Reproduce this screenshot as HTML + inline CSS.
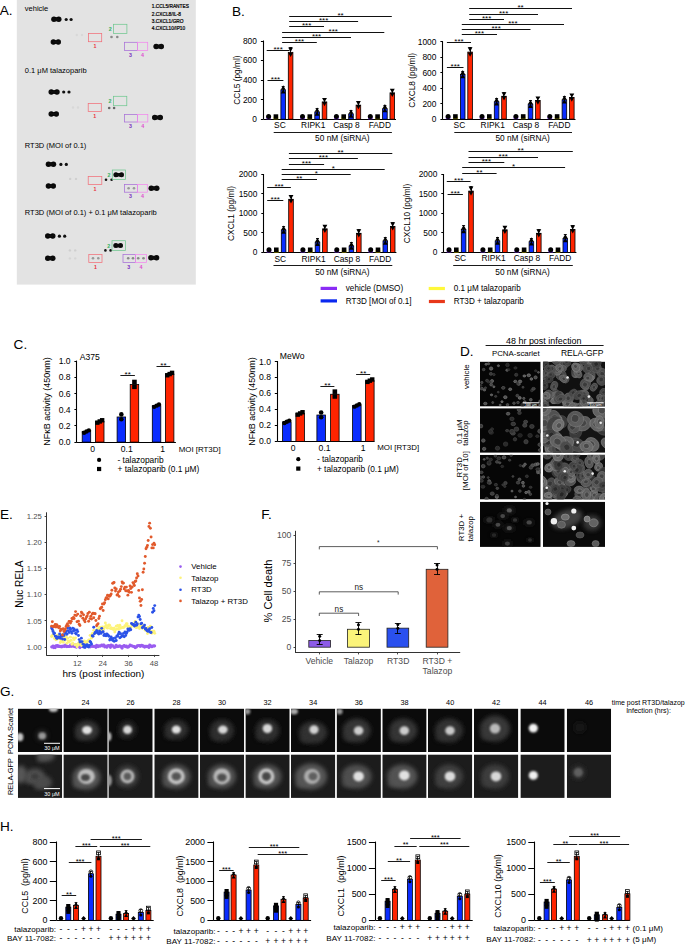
<!DOCTYPE html>
<html><head><meta charset="utf-8"><title>Figure</title>
<style>
html,body{margin:0;padding:0;background:#fff;}
body{width:685px;height:945px;overflow:hidden;}
svg{display:block;}
text{font-family:"Liberation Sans", sans-serif;}
</style></head>
<body>
<svg width="685" height="945" viewBox="0 0 685 945" font-family="Liberation Sans, sans-serif">
<defs><filter id="ab" x="-30%" y="-30%" width="160%" height="160%"><feGaussianBlur stdDeviation="0.35"/></filter></defs>
<rect x="16.80" y="0.00" width="179.00" height="284.60" fill="#e3e3e3" />
<text x="-0.30" y="14.90" font-size="13.6" text-anchor="start" fill="#000" >A.</text>
<text x="151.80" y="8.40" font-size="6.1" text-anchor="start" fill="#000" transform="translate(151.80 8.40) scale(0.79 1) translate(-151.80 -8.40)" stroke="#000" stroke-width="0.25">1.CCL5/RANTES</text>
<text x="151.80" y="16.30" font-size="6.1" text-anchor="start" fill="#000" transform="translate(151.80 16.30) scale(0.79 1) translate(-151.80 -16.30)" stroke="#000" stroke-width="0.25">2.CXCL8/IL-8</text>
<text x="151.80" y="23.20" font-size="6.1" text-anchor="start" fill="#000" transform="translate(151.80 23.20) scale(0.79 1) translate(-151.80 -23.20)" stroke="#000" stroke-width="0.25">3.CXCL1/GRO</text>
<text x="151.80" y="30.00" font-size="6.1" text-anchor="start" fill="#000" transform="translate(151.80 30.00) scale(0.79 1) translate(-151.80 -30.00)" stroke="#000" stroke-width="0.25">4.CXCL10/IP10</text>
<text x="24.80" y="10.80" font-size="7.5" text-anchor="start" fill="#000" >vehicle</text>
<text x="24.80" y="73.40" font-size="7.5" text-anchor="start" fill="#000" >0.1 μM talazoparib</text>
<text x="24.80" y="148.00" font-size="7.5" text-anchor="start" fill="#000" >RT3D (MOI of 0.1)</text>
<text x="24.80" y="215.10" font-size="7.5" text-anchor="start" fill="#000" >RT3D (MOI of 0.1) + 0.1 μM talazoparib</text>
<circle cx="53.95" cy="19.30" r="2.75" fill="#080808" filter="url(#ab)"/>
<circle cx="58.75" cy="19.30" r="2.75" fill="#080808" filter="url(#ab)"/>
<ellipse cx="56.35" cy="19.30" rx="3.65" ry="1.98" fill="#080808" filter="url(#ab)"/>
<circle cx="53.35" cy="42.10" r="2.75" fill="#080808" filter="url(#ab)"/>
<circle cx="58.25" cy="42.10" r="2.75" fill="#080808" filter="url(#ab)"/>
<ellipse cx="55.80" cy="42.10" rx="3.70" ry="1.98" fill="#080808" filter="url(#ab)"/>
<circle cx="156.15" cy="46.40" r="2.75" fill="#080808" filter="url(#ab)"/>
<circle cx="161.25" cy="46.40" r="2.75" fill="#080808" filter="url(#ab)"/>
<ellipse cx="158.70" cy="46.40" rx="3.80" ry="1.98" fill="#080808" filter="url(#ab)"/>
<circle cx="66.20" cy="19.50" r="1.60" fill="#111" />
<circle cx="71.10" cy="19.50" r="1.60" fill="#111" />
<circle cx="111.50" cy="37.00" r="1.30" fill="#888" />
<circle cx="117.30" cy="37.00" r="1.30" fill="#888" />
<rect x="88.40" y="33.50" width="13.30" height="8.20" fill="none" stroke="#f2707a" stroke-width="0.75" />
<rect x="113.60" y="24.30" width="13.30" height="9.20" fill="none" stroke="#70c890" stroke-width="0.75" />
<rect x="124.40" y="42.30" width="13.10" height="8.20" fill="none" stroke="#a870d8" stroke-width="0.75" />
<rect x="137.50" y="42.30" width="10.20" height="8.20" fill="none" stroke="#f288ee" stroke-width="0.75" />
<text x="95.05" y="47.90" font-size="5.3" text-anchor="middle" fill="#e83040" font-weight="bold">1</text>
<text x="110.30" y="30.90" font-size="5.3" text-anchor="middle" fill="#30b060" font-weight="bold">2</text>
<text x="130.45" y="56.70" font-size="5.3" text-anchor="middle" fill="#7a30c0" font-weight="bold">3</text>
<text x="142.60" y="56.70" font-size="5.3" text-anchor="middle" fill="#e050d0" font-weight="bold">4</text>
<circle cx="51.25" cy="91.90" r="2.75" fill="#080808" filter="url(#ab)"/>
<circle cx="56.95" cy="91.90" r="2.75" fill="#080808" filter="url(#ab)"/>
<ellipse cx="54.10" cy="91.90" rx="4.10" ry="1.98" fill="#080808" filter="url(#ab)"/>
<circle cx="51.25" cy="113.90" r="2.75" fill="#080808" filter="url(#ab)"/>
<circle cx="56.25" cy="113.90" r="2.75" fill="#080808" filter="url(#ab)"/>
<ellipse cx="53.75" cy="113.90" rx="3.75" ry="1.98" fill="#080808" filter="url(#ab)"/>
<circle cx="154.75" cy="117.40" r="2.75" fill="#080808" filter="url(#ab)"/>
<circle cx="160.25" cy="117.40" r="2.75" fill="#080808" filter="url(#ab)"/>
<ellipse cx="157.50" cy="117.40" rx="4.00" ry="1.98" fill="#080808" filter="url(#ab)"/>
<circle cx="63.70" cy="92.00" r="1.60" fill="#111" />
<circle cx="69.00" cy="92.00" r="1.60" fill="#111" />
<circle cx="109.20" cy="108.00" r="1.30" fill="#666" />
<circle cx="114.10" cy="108.00" r="1.30" fill="#666" />
<rect x="88.20" y="103.60" width="13.10" height="7.90" fill="none" stroke="#f2707a" stroke-width="0.75" />
<rect x="113.40" y="96.30" width="13.40" height="9.40" fill="none" stroke="#70c890" stroke-width="0.75" />
<rect x="124.40" y="114.60" width="13.10" height="7.40" fill="none" stroke="#a870d8" stroke-width="0.75" />
<rect x="137.50" y="114.60" width="10.30" height="7.40" fill="none" stroke="#f288ee" stroke-width="0.75" />
<text x="94.75" y="117.70" font-size="5.3" text-anchor="middle" fill="#e83040" font-weight="bold">1</text>
<text x="110.10" y="103.00" font-size="5.3" text-anchor="middle" fill="#30b060" font-weight="bold">2</text>
<text x="130.45" y="128.20" font-size="5.3" text-anchor="middle" fill="#7a30c0" font-weight="bold">3</text>
<text x="142.65" y="128.20" font-size="5.3" text-anchor="middle" fill="#e050d0" font-weight="bold">4</text>
<circle cx="48.45" cy="164.20" r="2.75" fill="#080808" filter="url(#ab)"/>
<circle cx="53.45" cy="164.20" r="2.75" fill="#080808" filter="url(#ab)"/>
<ellipse cx="50.95" cy="164.20" rx="3.75" ry="1.98" fill="#080808" filter="url(#ab)"/>
<circle cx="48.45" cy="185.90" r="2.75" fill="#080808" filter="url(#ab)"/>
<circle cx="53.25" cy="185.90" r="2.75" fill="#080808" filter="url(#ab)"/>
<ellipse cx="50.85" cy="185.90" rx="3.65" ry="1.98" fill="#080808" filter="url(#ab)"/>
<circle cx="151.25" cy="188.30" r="2.75" fill="#080808" filter="url(#ab)"/>
<circle cx="156.75" cy="188.30" r="2.75" fill="#080808" filter="url(#ab)"/>
<ellipse cx="154.00" cy="188.30" rx="4.00" ry="1.98" fill="#080808" filter="url(#ab)"/>
<circle cx="60.90" cy="164.40" r="1.60" fill="#111" />
<circle cx="66.30" cy="164.40" r="1.60" fill="#111" />
<circle cx="106.00" cy="179.80" r="1.30" fill="#151515" />
<circle cx="111.60" cy="179.80" r="1.30" fill="#151515" />
<rect x="88.20" y="176.60" width="13.60" height="7.90" fill="none" stroke="#f2707a" stroke-width="0.75" />
<rect x="112.30" y="170.00" width="13.30" height="9.40" fill="none" stroke="#70c890" stroke-width="0.75" />
<rect x="124.40" y="184.50" width="13.10" height="7.70" fill="none" stroke="#a870d8" stroke-width="0.75" />
<rect x="137.50" y="184.50" width="9.80" height="7.70" fill="none" stroke="#f288ee" stroke-width="0.75" />
<text x="95.00" y="190.70" font-size="5.3" text-anchor="middle" fill="#e83040" font-weight="bold">1</text>
<text x="109.00" y="176.70" font-size="5.3" text-anchor="middle" fill="#30b060" font-weight="bold">2</text>
<text x="130.45" y="198.40" font-size="5.3" text-anchor="middle" fill="#7a30c0" font-weight="bold">3</text>
<text x="142.40" y="198.40" font-size="5.3" text-anchor="middle" fill="#e050d0" font-weight="bold">4</text>
<circle cx="47.75" cy="236.00" r="2.75" fill="#080808" filter="url(#ab)"/>
<circle cx="52.75" cy="236.00" r="2.75" fill="#080808" filter="url(#ab)"/>
<ellipse cx="50.25" cy="236.00" rx="3.75" ry="1.98" fill="#080808" filter="url(#ab)"/>
<circle cx="47.75" cy="258.30" r="2.75" fill="#080808" filter="url(#ab)"/>
<circle cx="52.75" cy="258.30" r="2.75" fill="#080808" filter="url(#ab)"/>
<ellipse cx="50.25" cy="258.30" rx="3.75" ry="1.98" fill="#080808" filter="url(#ab)"/>
<circle cx="150.95" cy="257.80" r="2.75" fill="#080808" filter="url(#ab)"/>
<circle cx="156.55" cy="257.80" r="2.75" fill="#080808" filter="url(#ab)"/>
<ellipse cx="153.75" cy="257.80" rx="4.05" ry="1.98" fill="#080808" filter="url(#ab)"/>
<circle cx="59.40" cy="236.20" r="1.60" fill="#111" />
<circle cx="64.70" cy="236.20" r="1.60" fill="#111" />
<circle cx="105.40" cy="250.40" r="1.30" fill="#151515" />
<circle cx="110.60" cy="250.40" r="1.30" fill="#151515" />
<rect x="88.80" y="254.40" width="13.20" height="8.10" fill="none" stroke="#f2707a" stroke-width="0.75" />
<rect x="112.00" y="240.70" width="13.60" height="9.70" fill="none" stroke="#70c890" stroke-width="0.75" />
<rect x="123.00" y="254.40" width="12.60" height="8.10" fill="none" stroke="#a870d8" stroke-width="0.75" />
<rect x="135.60" y="254.40" width="11.00" height="8.10" fill="none" stroke="#f288ee" stroke-width="0.75" />
<text x="95.40" y="268.70" font-size="5.3" text-anchor="middle" fill="#e83040" font-weight="bold">1</text>
<text x="108.70" y="247.55" font-size="5.3" text-anchor="middle" fill="#30b060" font-weight="bold">2</text>
<text x="128.80" y="268.70" font-size="5.3" text-anchor="middle" fill="#7a30c0" font-weight="bold">3</text>
<text x="141.10" y="268.70" font-size="5.3" text-anchor="middle" fill="#e050d0" font-weight="bold">4</text>
<circle cx="115.90" cy="174.70" r="2.50" fill="#080808" filter="url(#ab)"/>
<circle cx="121.50" cy="174.70" r="2.50" fill="#080808" filter="url(#ab)"/>
<ellipse cx="118.70" cy="174.70" rx="3.80" ry="1.80" fill="#080808" filter="url(#ab)"/>
<circle cx="128.60" cy="188.30" r="1.30" fill="#999" />
<circle cx="134.00" cy="188.30" r="1.30" fill="#999" />
<circle cx="70.20" cy="178.90" r="1.20" fill="#cfcfcf" />
<circle cx="76.00" cy="178.90" r="1.20" fill="#cfcfcf" />
<circle cx="115.80" cy="245.50" r="2.50" fill="#080808" filter="url(#ab)"/>
<circle cx="120.50" cy="245.50" r="2.50" fill="#080808" filter="url(#ab)"/>
<ellipse cx="118.15" cy="245.50" rx="3.35" ry="1.80" fill="#080808" filter="url(#ab)"/>
<circle cx="93.00" cy="258.30" r="1.30" fill="#999" />
<circle cx="98.30" cy="258.30" r="1.30" fill="#999" />
<circle cx="128.20" cy="258.30" r="1.30" fill="#888" />
<circle cx="133.00" cy="258.30" r="1.30" fill="#888" />
<circle cx="138.20" cy="258.30" r="1.30" fill="#888" />
<circle cx="143.50" cy="258.30" r="1.30" fill="#888" />
<circle cx="69.90" cy="250.40" r="1.20" fill="#cfcfcf" />
<circle cx="75.20" cy="250.40" r="1.20" fill="#cfcfcf" />
<circle cx="69.90" cy="258.40" r="1.20" fill="#d5d5d5" />
<circle cx="75.20" cy="258.40" r="1.20" fill="#d5d5d5" />
<circle cx="76.80" cy="35.00" r="1.20" fill="#d8d8d8" />
<circle cx="82.00" cy="35.00" r="1.20" fill="#d8d8d8" />
<circle cx="73.00" cy="107.50" r="1.20" fill="#d8d8d8" />
<circle cx="78.00" cy="107.50" r="1.20" fill="#d8d8d8" />
<text x="232.00" y="15.80" font-size="13.6" text-anchor="start" fill="#000" >B.</text>
<line x1="263.50" y1="40.50" x2="263.50" y2="119.20" stroke="#000" stroke-width="1.1" />
<line x1="263.40" y1="119.50" x2="396.00" y2="119.50" stroke="#000" stroke-width="1.1" />
<line x1="260.90" y1="119.50" x2="263.40" y2="119.50" stroke="#000" stroke-width="1" />
<text x="256.90" y="122.14" font-size="8.4" text-anchor="end" fill="#000" >0</text>
<line x1="260.90" y1="99.50" x2="263.40" y2="99.50" stroke="#000" stroke-width="1" />
<text x="256.90" y="102.59" font-size="8.4" text-anchor="end" fill="#000" >200</text>
<line x1="260.90" y1="80.50" x2="263.40" y2="80.50" stroke="#000" stroke-width="1" />
<text x="256.90" y="83.04" font-size="8.4" text-anchor="end" fill="#000" >400</text>
<line x1="260.90" y1="60.50" x2="263.40" y2="60.50" stroke="#000" stroke-width="1" />
<text x="256.90" y="63.49" font-size="8.4" text-anchor="end" fill="#000" >600</text>
<line x1="260.90" y1="41.50" x2="263.40" y2="41.50" stroke="#000" stroke-width="1" />
<text x="256.90" y="43.94" font-size="8.4" text-anchor="end" fill="#000" >800</text>
<text x="240.50" y="80.10" font-size="8.3" text-anchor="middle" fill="#000" transform="rotate(-90 240.50 80.10)" >CCL5 (pg/ml)</text>
<rect x="266.30" y="116.70" width="4.60" height="2.50" fill="#8a3cff" />
<circle cx="268.60" cy="116.60" r="2.50" fill="#000"/>
<rect x="273.60" y="116.70" width="4.60" height="2.50" fill="#ffee00" />
<rect x="273.60" y="114.30" width="4.60" height="4.60" fill="#000"/>
<rect x="280.90" y="89.88" width="4.60" height="29.33" fill="#0a2cff" stroke="#000" stroke-width="0.8" />
<line x1="283.50" y1="86.38" x2="283.50" y2="91.97" stroke="#000" stroke-width="0.9" />
<line x1="281.70" y1="86.50" x2="284.70" y2="86.50" stroke="#000" stroke-width="0.9" />
<path d="M280.78,89.76L285.62,89.76L283.20,85.36Z" fill="#000"/>
<path d="M280.78,93.61L285.62,93.61L283.20,89.20Z" fill="#000"/>
<rect x="288.30" y="52.34" width="4.60" height="66.86" fill="#ff2400" stroke="#000" stroke-width="0.8" />
<line x1="290.50" y1="47.66" x2="290.50" y2="55.15" stroke="#000" stroke-width="0.9" />
<line x1="289.10" y1="47.50" x2="292.10" y2="47.50" stroke="#000" stroke-width="0.9" />
<path d="M288.18,47.55L293.02,47.55L290.60,51.95Z" fill="#000"/>
<path d="M288.18,52.70L293.02,52.70L290.60,57.10Z" fill="#000"/>
<rect x="300.20" y="116.70" width="4.60" height="2.50" fill="#8a3cff" />
<circle cx="302.50" cy="116.60" r="2.50" fill="#000"/>
<rect x="307.50" y="116.70" width="4.60" height="2.50" fill="#ffee00" />
<rect x="307.50" y="114.30" width="4.60" height="4.60" fill="#000"/>
<rect x="314.80" y="111.97" width="4.60" height="7.23" fill="#0a2cff" stroke="#000" stroke-width="0.8" />
<line x1="317.50" y1="108.47" x2="317.50" y2="114.07" stroke="#000" stroke-width="0.9" />
<line x1="315.60" y1="108.50" x2="318.60" y2="108.50" stroke="#000" stroke-width="0.9" />
<path d="M314.68,111.85L319.52,111.85L317.10,107.45Z" fill="#000"/>
<path d="M314.68,115.70L319.52,115.70L317.10,111.30Z" fill="#000"/>
<rect x="322.20" y="102.00" width="4.60" height="17.20" fill="#ff2400" stroke="#000" stroke-width="0.8" />
<line x1="324.50" y1="98.50" x2="324.50" y2="104.10" stroke="#000" stroke-width="0.9" />
<line x1="323.00" y1="98.50" x2="326.00" y2="98.50" stroke="#000" stroke-width="0.9" />
<path d="M322.08,97.92L326.92,97.92L324.50,102.32Z" fill="#000"/>
<path d="M322.08,101.77L326.92,101.77L324.50,106.17Z" fill="#000"/>
<rect x="334.10" y="116.70" width="4.60" height="2.50" fill="#8a3cff" />
<circle cx="336.40" cy="116.60" r="2.50" fill="#000"/>
<rect x="341.40" y="116.70" width="4.60" height="2.50" fill="#ffee00" />
<rect x="341.40" y="114.30" width="4.60" height="4.60" fill="#000"/>
<rect x="348.70" y="113.92" width="4.60" height="5.28" fill="#0a2cff" stroke="#000" stroke-width="0.8" />
<line x1="351.50" y1="110.42" x2="351.50" y2="116.02" stroke="#000" stroke-width="0.9" />
<line x1="349.50" y1="110.50" x2="352.50" y2="110.50" stroke="#000" stroke-width="0.9" />
<path d="M348.58,113.80L353.42,113.80L351.00,109.40Z" fill="#000"/>
<path d="M348.58,117.65L353.42,117.65L351.00,113.25Z" fill="#000"/>
<rect x="356.10" y="105.12" width="4.60" height="14.08" fill="#ff2400" stroke="#000" stroke-width="0.8" />
<line x1="358.50" y1="101.62" x2="358.50" y2="107.22" stroke="#000" stroke-width="0.9" />
<line x1="356.90" y1="101.50" x2="359.90" y2="101.50" stroke="#000" stroke-width="0.9" />
<path d="M355.98,101.04L360.82,101.04L358.40,105.44Z" fill="#000"/>
<path d="M355.98,104.89L360.82,104.89L358.40,109.29Z" fill="#000"/>
<rect x="368.00" y="116.70" width="4.60" height="2.50" fill="#8a3cff" />
<circle cx="370.30" cy="116.60" r="2.50" fill="#000"/>
<rect x="375.30" y="116.70" width="4.60" height="2.50" fill="#ffee00" />
<rect x="375.30" y="114.30" width="4.60" height="4.60" fill="#000"/>
<rect x="382.60" y="108.64" width="4.60" height="10.56" fill="#0a2cff" stroke="#000" stroke-width="0.8" />
<line x1="384.50" y1="105.14" x2="384.50" y2="110.74" stroke="#000" stroke-width="0.9" />
<line x1="383.40" y1="105.50" x2="386.40" y2="105.50" stroke="#000" stroke-width="0.9" />
<path d="M382.48,108.52L387.32,108.52L384.90,104.12Z" fill="#000"/>
<path d="M382.48,112.37L387.32,112.37L384.90,107.97Z" fill="#000"/>
<rect x="390.00" y="92.91" width="4.60" height="26.29" fill="#ff2400" stroke="#000" stroke-width="0.8" />
<line x1="392.50" y1="89.41" x2="392.50" y2="95.01" stroke="#000" stroke-width="0.9" />
<line x1="390.80" y1="89.50" x2="393.80" y2="89.50" stroke="#000" stroke-width="0.9" />
<path d="M389.88,88.83L394.72,88.83L392.30,93.23Z" fill="#000"/>
<path d="M389.88,92.68L394.72,92.68L392.30,97.08Z" fill="#000"/>
<text x="279.90" y="128.14" font-size="8.4" text-anchor="middle" fill="#000" >SC</text>
<text x="313.20" y="128.14" font-size="8.4" text-anchor="middle" fill="#000" >RIPK1</text>
<text x="346.50" y="128.14" font-size="8.4" text-anchor="middle" fill="#000" >Casp 8</text>
<text x="379.80" y="128.14" font-size="8.4" text-anchor="middle" fill="#000" >FADD</text>
<line x1="273.70" y1="132.50" x2="391.90" y2="132.50" stroke="#000" stroke-width="0.9" />
<text x="342.30" y="141.21" font-size="8.3" text-anchor="middle" fill="#000" >50 nM (siRNA)</text>
<line x1="289.20" y1="16.50" x2="391.80" y2="16.50" stroke="#111" stroke-width="1.0" />
<text x="340.50" y="17.70" font-size="8" text-anchor="middle" fill="#000" >**</text>
<line x1="289.20" y1="21.50" x2="358.10" y2="21.50" stroke="#111" stroke-width="1.0" />
<text x="323.65" y="23.30" font-size="8" text-anchor="middle" fill="#000" >***</text>
<line x1="289.20" y1="26.50" x2="324.00" y2="26.50" stroke="#111" stroke-width="1.0" />
<text x="306.60" y="28.20" font-size="8" text-anchor="middle" fill="#000" >***</text>
<line x1="282.10" y1="32.50" x2="384.30" y2="32.50" stroke="#111" stroke-width="1.0" />
<text x="333.20" y="33.50" font-size="8" text-anchor="middle" fill="#000" >***</text>
<line x1="282.10" y1="37.50" x2="351.00" y2="37.50" stroke="#111" stroke-width="1.0" />
<text x="316.55" y="38.60" font-size="8" text-anchor="middle" fill="#000" >***</text>
<line x1="282.10" y1="42.50" x2="316.80" y2="42.50" stroke="#111" stroke-width="1.0" />
<text x="299.45" y="43.70" font-size="8" text-anchor="middle" fill="#000" >***</text>
<line x1="266.70" y1="50.50" x2="289.50" y2="50.50" stroke="#111" stroke-width="1.0" />
<text x="278.10" y="51.70" font-size="8" text-anchor="middle" fill="#000" >***</text>
<line x1="267.50" y1="80.50" x2="283.40" y2="80.50" stroke="#111" stroke-width="1.0" />
<text x="275.45" y="82.40" font-size="8" text-anchor="middle" fill="#000" >***</text>
<line x1="442.50" y1="41.20" x2="442.50" y2="119.10" stroke="#000" stroke-width="1.1" />
<line x1="442.90" y1="119.50" x2="575.50" y2="119.50" stroke="#000" stroke-width="1.1" />
<line x1="440.40" y1="119.50" x2="442.90" y2="119.50" stroke="#000" stroke-width="1" />
<text x="436.40" y="122.04" font-size="8.4" text-anchor="end" fill="#000" >0</text>
<line x1="440.40" y1="103.50" x2="442.90" y2="103.50" stroke="#000" stroke-width="1" />
<text x="436.40" y="106.56" font-size="8.4" text-anchor="end" fill="#000" >200</text>
<line x1="440.40" y1="88.50" x2="442.90" y2="88.50" stroke="#000" stroke-width="1" />
<text x="436.40" y="91.08" font-size="8.4" text-anchor="end" fill="#000" >400</text>
<line x1="440.40" y1="72.50" x2="442.90" y2="72.50" stroke="#000" stroke-width="1" />
<text x="436.40" y="75.60" font-size="8.4" text-anchor="end" fill="#000" >600</text>
<line x1="440.40" y1="57.50" x2="442.90" y2="57.50" stroke="#000" stroke-width="1" />
<text x="436.40" y="60.12" font-size="8.4" text-anchor="end" fill="#000" >800</text>
<line x1="440.40" y1="41.50" x2="442.90" y2="41.50" stroke="#000" stroke-width="1" />
<text x="436.40" y="44.64" font-size="8.4" text-anchor="end" fill="#000" >1000</text>
<text x="415.50" y="80.40" font-size="8.3" text-anchor="middle" fill="#000" transform="rotate(-90 415.50 80.40)" >CXCL8 (pg/ml)</text>
<rect x="445.80" y="116.60" width="4.60" height="2.50" fill="#8a3cff" />
<circle cx="448.10" cy="116.50" r="2.50" fill="#000"/>
<rect x="453.10" y="116.60" width="4.60" height="2.50" fill="#ffee00" />
<rect x="453.10" y="114.20" width="4.60" height="4.60" fill="#000"/>
<rect x="460.40" y="74.52" width="4.60" height="44.58" fill="#0a2cff" stroke="#000" stroke-width="0.8" />
<line x1="462.50" y1="71.02" x2="462.50" y2="76.62" stroke="#000" stroke-width="0.9" />
<line x1="461.20" y1="71.50" x2="464.20" y2="71.50" stroke="#000" stroke-width="0.9" />
<path d="M460.28,74.40L465.12,74.40L462.70,70.00Z" fill="#000"/>
<path d="M460.28,78.25L465.12,78.25L462.70,73.85Z" fill="#000"/>
<rect x="467.80" y="52.07" width="4.60" height="67.03" fill="#ff2400" stroke="#000" stroke-width="0.8" />
<line x1="470.50" y1="47.38" x2="470.50" y2="54.89" stroke="#000" stroke-width="0.9" />
<line x1="468.60" y1="47.50" x2="471.60" y2="47.50" stroke="#000" stroke-width="0.9" />
<path d="M467.68,47.28L472.52,47.28L470.10,51.68Z" fill="#000"/>
<path d="M467.68,52.44L472.52,52.44L470.10,56.84Z" fill="#000"/>
<rect x="479.70" y="116.60" width="4.60" height="2.50" fill="#8a3cff" />
<circle cx="482.00" cy="116.50" r="2.50" fill="#000"/>
<rect x="487.00" y="116.60" width="4.60" height="2.50" fill="#ffee00" />
<rect x="487.00" y="114.20" width="4.60" height="4.60" fill="#000"/>
<rect x="494.30" y="101.76" width="4.60" height="17.34" fill="#0a2cff" stroke="#000" stroke-width="0.8" />
<line x1="496.50" y1="98.26" x2="496.50" y2="103.86" stroke="#000" stroke-width="0.9" />
<line x1="495.10" y1="98.50" x2="498.10" y2="98.50" stroke="#000" stroke-width="0.9" />
<path d="M494.18,101.64L499.02,101.64L496.60,97.24Z" fill="#000"/>
<path d="M494.18,105.49L499.02,105.49L496.60,101.09Z" fill="#000"/>
<rect x="501.70" y="96.27" width="4.60" height="22.83" fill="#ff2400" stroke="#000" stroke-width="0.8" />
<line x1="503.50" y1="92.77" x2="503.50" y2="98.37" stroke="#000" stroke-width="0.9" />
<line x1="502.50" y1="92.50" x2="505.50" y2="92.50" stroke="#000" stroke-width="0.9" />
<path d="M501.58,92.19L506.42,92.19L504.00,96.59Z" fill="#000"/>
<path d="M501.58,96.04L506.42,96.04L504.00,100.44Z" fill="#000"/>
<rect x="513.60" y="116.60" width="4.60" height="2.50" fill="#8a3cff" />
<circle cx="515.90" cy="116.50" r="2.50" fill="#000"/>
<rect x="520.90" y="116.60" width="4.60" height="2.50" fill="#ffee00" />
<rect x="520.90" y="114.20" width="4.60" height="4.60" fill="#000"/>
<rect x="528.20" y="104.16" width="4.60" height="14.94" fill="#0a2cff" stroke="#000" stroke-width="0.8" />
<line x1="530.50" y1="100.66" x2="530.50" y2="106.26" stroke="#000" stroke-width="0.9" />
<line x1="529.00" y1="100.50" x2="532.00" y2="100.50" stroke="#000" stroke-width="0.9" />
<path d="M528.08,104.04L532.92,104.04L530.50,99.64Z" fill="#000"/>
<path d="M528.08,107.89L532.92,107.89L530.50,103.49Z" fill="#000"/>
<rect x="535.60" y="100.52" width="4.60" height="18.58" fill="#ff2400" stroke="#000" stroke-width="0.8" />
<line x1="537.50" y1="97.02" x2="537.50" y2="102.62" stroke="#000" stroke-width="0.9" />
<line x1="536.40" y1="97.50" x2="539.40" y2="97.50" stroke="#000" stroke-width="0.9" />
<path d="M535.48,96.44L540.32,96.44L537.90,100.84Z" fill="#000"/>
<path d="M535.48,100.29L540.32,100.29L537.90,104.69Z" fill="#000"/>
<rect x="547.50" y="116.60" width="4.60" height="2.50" fill="#8a3cff" />
<circle cx="549.80" cy="116.50" r="2.50" fill="#000"/>
<rect x="554.80" y="116.60" width="4.60" height="2.50" fill="#ffee00" />
<rect x="554.80" y="114.20" width="4.60" height="4.60" fill="#000"/>
<rect x="562.10" y="99.83" width="4.60" height="19.27" fill="#0a2cff" stroke="#000" stroke-width="0.8" />
<line x1="564.50" y1="96.33" x2="564.50" y2="101.93" stroke="#000" stroke-width="0.9" />
<line x1="562.90" y1="96.50" x2="565.90" y2="96.50" stroke="#000" stroke-width="0.9" />
<path d="M561.98,99.71L566.82,99.71L564.40,95.31Z" fill="#000"/>
<path d="M561.98,103.56L566.82,103.56L564.40,99.16Z" fill="#000"/>
<rect x="569.50" y="97.51" width="4.60" height="21.59" fill="#ff2400" stroke="#000" stroke-width="0.8" />
<line x1="571.50" y1="94.01" x2="571.50" y2="99.61" stroke="#000" stroke-width="0.9" />
<line x1="570.30" y1="94.50" x2="573.30" y2="94.50" stroke="#000" stroke-width="0.9" />
<path d="M569.38,93.43L574.22,93.43L571.80,97.83Z" fill="#000"/>
<path d="M569.38,97.28L574.22,97.28L571.80,101.68Z" fill="#000"/>
<text x="459.40" y="127.74" font-size="8.4" text-anchor="middle" fill="#000" >SC</text>
<text x="492.70" y="127.74" font-size="8.4" text-anchor="middle" fill="#000" >RIPK1</text>
<text x="526.00" y="127.74" font-size="8.4" text-anchor="middle" fill="#000" >Casp 8</text>
<text x="559.30" y="127.74" font-size="8.4" text-anchor="middle" fill="#000" >FADD</text>
<line x1="454.30" y1="132.50" x2="572.00" y2="132.50" stroke="#000" stroke-width="0.9" />
<text x="522.65" y="140.91" font-size="8.3" text-anchor="middle" fill="#000" >50 nM (siRNA)</text>
<line x1="469.20" y1="8.50" x2="572.00" y2="8.50" stroke="#111" stroke-width="1.0" />
<text x="520.60" y="10.20" font-size="8" text-anchor="middle" fill="#000" >**</text>
<line x1="469.20" y1="14.50" x2="538.00" y2="14.50" stroke="#111" stroke-width="1.0" />
<text x="503.60" y="15.60" font-size="8" text-anchor="middle" fill="#000" >***</text>
<line x1="469.20" y1="19.50" x2="504.00" y2="19.50" stroke="#111" stroke-width="1.0" />
<text x="486.60" y="20.90" font-size="8" text-anchor="middle" fill="#000" >***</text>
<line x1="461.80" y1="24.50" x2="564.00" y2="24.50" stroke="#111" stroke-width="1.0" />
<text x="512.90" y="26.30" font-size="8" text-anchor="middle" fill="#000" >***</text>
<line x1="461.80" y1="29.50" x2="530.50" y2="29.50" stroke="#111" stroke-width="1.0" />
<text x="496.15" y="30.80" font-size="8" text-anchor="middle" fill="#000" >***</text>
<line x1="461.80" y1="34.50" x2="497.00" y2="34.50" stroke="#111" stroke-width="1.0" />
<text x="479.40" y="35.80" font-size="8" text-anchor="middle" fill="#000" >***</text>
<line x1="446.90" y1="42.50" x2="471.00" y2="42.50" stroke="#111" stroke-width="1.0" />
<text x="458.95" y="44.20" font-size="8" text-anchor="middle" fill="#000" >***</text>
<line x1="446.90" y1="67.50" x2="463.50" y2="67.50" stroke="#111" stroke-width="1.0" />
<text x="455.20" y="69.00" font-size="8" text-anchor="middle" fill="#000" >***</text>
<line x1="263.50" y1="174.00" x2="263.50" y2="252.40" stroke="#000" stroke-width="1.1" />
<line x1="263.80" y1="252.50" x2="396.40" y2="252.50" stroke="#000" stroke-width="1.1" />
<line x1="261.30" y1="252.50" x2="263.80" y2="252.50" stroke="#000" stroke-width="1" />
<text x="257.30" y="255.34" font-size="8.4" text-anchor="end" fill="#000" >0</text>
<line x1="261.30" y1="232.50" x2="263.80" y2="232.50" stroke="#000" stroke-width="1" />
<text x="257.30" y="235.87" font-size="8.4" text-anchor="end" fill="#000" >500</text>
<line x1="261.30" y1="213.50" x2="263.80" y2="213.50" stroke="#000" stroke-width="1" />
<text x="257.30" y="216.39" font-size="8.4" text-anchor="end" fill="#000" >1000</text>
<line x1="261.30" y1="193.50" x2="263.80" y2="193.50" stroke="#000" stroke-width="1" />
<text x="257.30" y="196.91" font-size="8.4" text-anchor="end" fill="#000" >1500</text>
<line x1="261.30" y1="174.50" x2="263.80" y2="174.50" stroke="#000" stroke-width="1" />
<text x="257.30" y="177.44" font-size="8.4" text-anchor="end" fill="#000" >2000</text>
<text x="234.00" y="213.45" font-size="8.3" text-anchor="middle" fill="#000" transform="rotate(-90 234.00 213.45)" >CXCL1 (pg/ml)</text>
<rect x="266.70" y="249.90" width="4.60" height="2.50" fill="#8a3cff" />
<circle cx="269.00" cy="249.80" r="2.50" fill="#000"/>
<rect x="274.00" y="249.90" width="4.60" height="2.50" fill="#ffee00" />
<rect x="274.00" y="247.50" width="4.60" height="4.60" fill="#000"/>
<rect x="281.30" y="230.00" width="4.60" height="22.40" fill="#0a2cff" stroke="#000" stroke-width="0.8" />
<line x1="283.50" y1="226.50" x2="283.50" y2="232.10" stroke="#000" stroke-width="0.9" />
<line x1="282.10" y1="226.50" x2="285.10" y2="226.50" stroke="#000" stroke-width="0.9" />
<path d="M281.18,229.88L286.02,229.88L283.60,225.48Z" fill="#000"/>
<path d="M281.18,233.73L286.02,233.73L283.60,229.33Z" fill="#000"/>
<rect x="288.70" y="199.31" width="4.60" height="53.09" fill="#ff2400" stroke="#000" stroke-width="0.8" />
<line x1="291.50" y1="195.59" x2="291.50" y2="201.54" stroke="#000" stroke-width="0.9" />
<line x1="289.50" y1="195.50" x2="292.50" y2="195.50" stroke="#000" stroke-width="0.9" />
<path d="M288.58,195.10L293.42,195.10L291.00,199.50Z" fill="#000"/>
<path d="M288.58,199.19L293.42,199.19L291.00,203.59Z" fill="#000"/>
<rect x="300.60" y="249.90" width="4.60" height="2.50" fill="#8a3cff" />
<circle cx="302.90" cy="249.80" r="2.50" fill="#000"/>
<rect x="307.90" y="249.90" width="4.60" height="2.50" fill="#ffee00" />
<rect x="307.90" y="247.50" width="4.60" height="4.60" fill="#000"/>
<rect x="315.20" y="242.20" width="4.60" height="10.20" fill="#0a2cff" stroke="#000" stroke-width="0.8" />
<line x1="317.50" y1="238.70" x2="317.50" y2="244.30" stroke="#000" stroke-width="0.9" />
<line x1="316.00" y1="238.50" x2="319.00" y2="238.50" stroke="#000" stroke-width="0.9" />
<path d="M315.08,242.08L319.92,242.08L317.50,237.68Z" fill="#000"/>
<path d="M315.08,245.93L319.92,245.93L317.50,241.53Z" fill="#000"/>
<rect x="322.60" y="228.91" width="4.60" height="23.49" fill="#ff2400" stroke="#000" stroke-width="0.8" />
<line x1="324.50" y1="225.41" x2="324.50" y2="231.01" stroke="#000" stroke-width="0.9" />
<line x1="323.40" y1="225.50" x2="326.40" y2="225.50" stroke="#000" stroke-width="0.9" />
<path d="M322.48,224.83L327.32,224.83L324.90,229.23Z" fill="#000"/>
<path d="M322.48,228.68L327.32,228.68L324.90,233.08Z" fill="#000"/>
<rect x="334.50" y="249.90" width="4.60" height="2.50" fill="#8a3cff" />
<circle cx="336.80" cy="249.80" r="2.50" fill="#000"/>
<rect x="341.80" y="249.90" width="4.60" height="2.50" fill="#ffee00" />
<rect x="341.80" y="247.50" width="4.60" height="4.60" fill="#000"/>
<rect x="349.10" y="246.01" width="4.60" height="6.39" fill="#0a2cff" stroke="#000" stroke-width="0.8" />
<line x1="351.50" y1="242.51" x2="351.50" y2="248.11" stroke="#000" stroke-width="0.9" />
<line x1="349.90" y1="242.50" x2="352.90" y2="242.50" stroke="#000" stroke-width="0.9" />
<path d="M348.98,245.89L353.82,245.89L351.40,241.49Z" fill="#000"/>
<path d="M348.98,249.74L353.82,249.74L351.40,245.34Z" fill="#000"/>
<rect x="356.50" y="233.31" width="4.60" height="19.09" fill="#ff2400" stroke="#000" stroke-width="0.8" />
<line x1="358.50" y1="229.81" x2="358.50" y2="235.41" stroke="#000" stroke-width="0.9" />
<line x1="357.30" y1="229.50" x2="360.30" y2="229.50" stroke="#000" stroke-width="0.9" />
<path d="M356.38,229.23L361.22,229.23L358.80,233.63Z" fill="#000"/>
<path d="M356.38,233.08L361.22,233.08L358.80,237.48Z" fill="#000"/>
<rect x="368.40" y="249.90" width="4.60" height="2.50" fill="#8a3cff" />
<circle cx="370.70" cy="249.80" r="2.50" fill="#000"/>
<rect x="375.70" y="249.90" width="4.60" height="2.50" fill="#ffee00" />
<rect x="375.70" y="247.50" width="4.60" height="4.60" fill="#000"/>
<rect x="383.00" y="240.91" width="4.60" height="11.49" fill="#0a2cff" stroke="#000" stroke-width="0.8" />
<line x1="385.50" y1="237.41" x2="385.50" y2="243.01" stroke="#000" stroke-width="0.9" />
<line x1="383.80" y1="237.50" x2="386.80" y2="237.50" stroke="#000" stroke-width="0.9" />
<path d="M382.88,240.79L387.72,240.79L385.30,236.39Z" fill="#000"/>
<path d="M382.88,244.64L387.72,244.64L385.30,240.24Z" fill="#000"/>
<rect x="390.40" y="226.42" width="4.60" height="25.98" fill="#ff2400" stroke="#000" stroke-width="0.8" />
<line x1="392.50" y1="222.92" x2="392.50" y2="228.52" stroke="#000" stroke-width="0.9" />
<line x1="391.20" y1="222.50" x2="394.20" y2="222.50" stroke="#000" stroke-width="0.9" />
<path d="M390.28,222.34L395.12,222.34L392.70,226.74Z" fill="#000"/>
<path d="M390.28,226.19L395.12,226.19L392.70,230.59Z" fill="#000"/>
<text x="280.30" y="261.74" font-size="8.4" text-anchor="middle" fill="#000" >SC</text>
<text x="313.60" y="261.74" font-size="8.4" text-anchor="middle" fill="#000" >RIPK1</text>
<text x="346.90" y="261.74" font-size="8.4" text-anchor="middle" fill="#000" >Casp 8</text>
<text x="380.20" y="261.74" font-size="8.4" text-anchor="middle" fill="#000" >FADD</text>
<line x1="273.50" y1="265.50" x2="392.30" y2="265.50" stroke="#000" stroke-width="0.9" />
<text x="342.40" y="274.50" font-size="8.3" text-anchor="middle" fill="#000" >50 nM (siRNA)</text>
<line x1="288.90" y1="153.50" x2="392.30" y2="153.50" stroke="#111" stroke-width="1.0" />
<text x="340.60" y="154.80" font-size="8" text-anchor="middle" fill="#000" >**</text>
<line x1="288.90" y1="158.50" x2="357.90" y2="158.50" stroke="#111" stroke-width="1.0" />
<text x="323.40" y="160.20" font-size="8" text-anchor="middle" fill="#000" >***</text>
<line x1="288.90" y1="164.50" x2="324.10" y2="164.50" stroke="#111" stroke-width="1.0" />
<text x="306.50" y="165.80" font-size="8" text-anchor="middle" fill="#000" >***</text>
<line x1="281.70" y1="169.50" x2="384.70" y2="169.50" stroke="#111" stroke-width="1.0" />
<text x="333.20" y="170.90" font-size="8" text-anchor="middle" fill="#000" >*</text>
<line x1="281.70" y1="174.50" x2="350.70" y2="174.50" stroke="#111" stroke-width="1.0" />
<text x="316.20" y="175.50" font-size="8" text-anchor="middle" fill="#000" >*</text>
<line x1="281.70" y1="179.50" x2="317.00" y2="179.50" stroke="#111" stroke-width="1.0" />
<text x="299.35" y="181.10" font-size="8" text-anchor="middle" fill="#000" >**</text>
<line x1="267.20" y1="187.50" x2="290.90" y2="187.50" stroke="#111" stroke-width="1.0" />
<text x="279.05" y="188.80" font-size="8" text-anchor="middle" fill="#000" >***</text>
<line x1="267.20" y1="200.50" x2="283.30" y2="200.50" stroke="#111" stroke-width="1.0" />
<text x="275.25" y="202.10" font-size="8" text-anchor="middle" fill="#000" >***</text>
<line x1="443.50" y1="174.00" x2="443.50" y2="252.40" stroke="#000" stroke-width="1.1" />
<line x1="443.80" y1="252.50" x2="576.40" y2="252.50" stroke="#000" stroke-width="1.1" />
<line x1="441.30" y1="252.50" x2="443.80" y2="252.50" stroke="#000" stroke-width="1" />
<text x="437.30" y="255.34" font-size="8.4" text-anchor="end" fill="#000" >0</text>
<line x1="441.30" y1="232.50" x2="443.80" y2="232.50" stroke="#000" stroke-width="1" />
<text x="437.30" y="235.87" font-size="8.4" text-anchor="end" fill="#000" >500</text>
<line x1="441.30" y1="213.50" x2="443.80" y2="213.50" stroke="#000" stroke-width="1" />
<text x="437.30" y="216.39" font-size="8.4" text-anchor="end" fill="#000" >1000</text>
<line x1="441.30" y1="193.50" x2="443.80" y2="193.50" stroke="#000" stroke-width="1" />
<text x="437.30" y="196.91" font-size="8.4" text-anchor="end" fill="#000" >1500</text>
<line x1="441.30" y1="174.50" x2="443.80" y2="174.50" stroke="#000" stroke-width="1" />
<text x="437.30" y="177.44" font-size="8.4" text-anchor="end" fill="#000" >2000</text>
<text x="410.50" y="213.45" font-size="8.3" text-anchor="middle" fill="#000" transform="rotate(-90 410.50 213.45)" >CXCL10 (pg/ml)</text>
<rect x="446.70" y="249.90" width="4.60" height="2.50" fill="#8a3cff" />
<circle cx="449.00" cy="249.80" r="2.50" fill="#000"/>
<rect x="454.00" y="249.90" width="4.60" height="2.50" fill="#ffee00" />
<rect x="454.00" y="247.50" width="4.60" height="4.60" fill="#000"/>
<rect x="461.30" y="229.42" width="4.60" height="22.98" fill="#0a2cff" stroke="#000" stroke-width="0.8" />
<line x1="463.50" y1="225.92" x2="463.50" y2="231.52" stroke="#000" stroke-width="0.9" />
<line x1="462.10" y1="225.50" x2="465.10" y2="225.50" stroke="#000" stroke-width="0.9" />
<path d="M461.18,229.30L466.02,229.30L463.60,224.90Z" fill="#000"/>
<path d="M461.18,233.15L466.02,233.15L463.60,228.75Z" fill="#000"/>
<rect x="468.70" y="191.09" width="4.60" height="61.31" fill="#ff2400" stroke="#000" stroke-width="0.8" />
<line x1="471.50" y1="186.80" x2="471.50" y2="193.67" stroke="#000" stroke-width="0.9" />
<line x1="469.50" y1="186.50" x2="472.50" y2="186.50" stroke="#000" stroke-width="0.9" />
<path d="M468.58,186.54L473.42,186.54L471.00,190.94Z" fill="#000"/>
<path d="M468.58,191.26L473.42,191.26L471.00,195.66Z" fill="#000"/>
<rect x="480.60" y="249.90" width="4.60" height="2.50" fill="#8a3cff" />
<circle cx="482.90" cy="249.80" r="2.50" fill="#000"/>
<rect x="487.90" y="249.90" width="4.60" height="2.50" fill="#ffee00" />
<rect x="487.90" y="247.50" width="4.60" height="4.60" fill="#000"/>
<rect x="495.20" y="240.91" width="4.60" height="11.49" fill="#0a2cff" stroke="#000" stroke-width="0.8" />
<line x1="497.50" y1="237.41" x2="497.50" y2="243.01" stroke="#000" stroke-width="0.9" />
<line x1="496.00" y1="237.50" x2="499.00" y2="237.50" stroke="#000" stroke-width="0.9" />
<path d="M495.08,240.79L499.92,240.79L497.50,236.39Z" fill="#000"/>
<path d="M495.08,244.64L499.92,244.64L497.50,240.24Z" fill="#000"/>
<rect x="502.60" y="229.89" width="4.60" height="22.51" fill="#ff2400" stroke="#000" stroke-width="0.8" />
<line x1="504.50" y1="226.39" x2="504.50" y2="231.99" stroke="#000" stroke-width="0.9" />
<line x1="503.40" y1="226.50" x2="506.40" y2="226.50" stroke="#000" stroke-width="0.9" />
<path d="M502.48,225.81L507.32,225.81L504.90,230.21Z" fill="#000"/>
<path d="M502.48,229.66L507.32,229.66L504.90,234.06Z" fill="#000"/>
<rect x="514.50" y="249.90" width="4.60" height="2.50" fill="#8a3cff" />
<circle cx="516.80" cy="249.80" r="2.50" fill="#000"/>
<rect x="521.80" y="249.90" width="4.60" height="2.50" fill="#ffee00" />
<rect x="521.80" y="247.50" width="4.60" height="4.60" fill="#000"/>
<rect x="529.10" y="241.69" width="4.60" height="10.71" fill="#0a2cff" stroke="#000" stroke-width="0.8" />
<line x1="531.50" y1="238.19" x2="531.50" y2="243.79" stroke="#000" stroke-width="0.9" />
<line x1="529.90" y1="238.50" x2="532.90" y2="238.50" stroke="#000" stroke-width="0.9" />
<path d="M528.98,241.57L533.82,241.57L531.40,237.17Z" fill="#000"/>
<path d="M528.98,245.42L533.82,245.42L531.40,241.02Z" fill="#000"/>
<rect x="536.50" y="233.31" width="4.60" height="19.09" fill="#ff2400" stroke="#000" stroke-width="0.8" />
<line x1="538.50" y1="229.81" x2="538.50" y2="235.41" stroke="#000" stroke-width="0.9" />
<line x1="537.30" y1="229.50" x2="540.30" y2="229.50" stroke="#000" stroke-width="0.9" />
<path d="M536.38,229.23L541.22,229.23L538.80,233.63Z" fill="#000"/>
<path d="M536.38,233.08L541.22,233.08L538.80,237.48Z" fill="#000"/>
<rect x="548.40" y="249.90" width="4.60" height="2.50" fill="#8a3cff" />
<circle cx="550.70" cy="249.80" r="2.50" fill="#000"/>
<rect x="555.70" y="249.90" width="4.60" height="2.50" fill="#ffee00" />
<rect x="555.70" y="247.50" width="4.60" height="4.60" fill="#000"/>
<rect x="563.00" y="238.42" width="4.60" height="13.98" fill="#0a2cff" stroke="#000" stroke-width="0.8" />
<line x1="565.50" y1="234.92" x2="565.50" y2="240.52" stroke="#000" stroke-width="0.9" />
<line x1="563.80" y1="234.50" x2="566.80" y2="234.50" stroke="#000" stroke-width="0.9" />
<path d="M562.88,238.30L567.72,238.30L565.30,233.90Z" fill="#000"/>
<path d="M562.88,242.15L567.72,242.15L565.30,237.75Z" fill="#000"/>
<rect x="570.40" y="229.42" width="4.60" height="22.98" fill="#ff2400" stroke="#000" stroke-width="0.8" />
<line x1="572.50" y1="225.92" x2="572.50" y2="231.52" stroke="#000" stroke-width="0.9" />
<line x1="571.20" y1="225.50" x2="574.20" y2="225.50" stroke="#000" stroke-width="0.9" />
<path d="M570.28,225.34L575.12,225.34L572.70,229.74Z" fill="#000"/>
<path d="M570.28,229.19L575.12,229.19L572.70,233.59Z" fill="#000"/>
<text x="460.30" y="261.24" font-size="8.4" text-anchor="middle" fill="#000" >SC</text>
<text x="493.60" y="261.24" font-size="8.4" text-anchor="middle" fill="#000" >RIPK1</text>
<text x="526.90" y="261.24" font-size="8.4" text-anchor="middle" fill="#000" >Casp 8</text>
<text x="560.20" y="261.24" font-size="8.4" text-anchor="middle" fill="#000" >FADD</text>
<line x1="453.20" y1="265.50" x2="572.80" y2="265.50" stroke="#000" stroke-width="0.9" />
<text x="522.50" y="275.20" font-size="8.3" text-anchor="middle" fill="#000" >50 nM (siRNA)</text>
<line x1="468.50" y1="151.50" x2="572.80" y2="151.50" stroke="#111" stroke-width="1.0" />
<text x="520.65" y="153.30" font-size="8" text-anchor="middle" fill="#000" >**</text>
<line x1="468.50" y1="157.50" x2="538.00" y2="157.50" stroke="#111" stroke-width="1.0" />
<text x="503.25" y="158.90" font-size="8" text-anchor="middle" fill="#000" >***</text>
<line x1="468.50" y1="162.50" x2="504.30" y2="162.50" stroke="#111" stroke-width="1.0" />
<text x="486.40" y="164.00" font-size="8" text-anchor="middle" fill="#000" >***</text>
<line x1="462.20" y1="167.50" x2="565.10" y2="167.50" stroke="#111" stroke-width="1.0" />
<text x="513.65" y="169.10" font-size="8" text-anchor="middle" fill="#000" >*</text>
<line x1="462.20" y1="173.50" x2="496.60" y2="173.50" stroke="#111" stroke-width="1.0" />
<text x="479.40" y="174.70" font-size="8" text-anchor="middle" fill="#000" >**</text>
<line x1="446.80" y1="181.50" x2="470.60" y2="181.50" stroke="#111" stroke-width="1.0" />
<text x="458.70" y="182.90" font-size="8" text-anchor="middle" fill="#000" >***</text>
<line x1="447.60" y1="194.50" x2="462.90" y2="194.50" stroke="#111" stroke-width="1.0" />
<text x="455.25" y="195.90" font-size="8" text-anchor="middle" fill="#000" >***</text>
<rect x="320.60" y="286.80" width="16.40" height="3.20" fill="#8a2cf5" />
<text x="345.80" y="291.25" font-size="8.15" text-anchor="start" fill="#000" >vehicle (DMSO)</text>
<rect x="320.60" y="299.30" width="16.40" height="3.20" fill="#0a28f0" />
<text x="345.80" y="303.75" font-size="8.15" text-anchor="start" fill="#000" >RT3D [MOI of 0.1]</text>
<rect x="428.70" y="286.90" width="16.20" height="3.20" fill="#fff83a" />
<text x="453.70" y="291.35" font-size="8.15" text-anchor="start" fill="#000" >0.1 μM talazoparib</text>
<rect x="428.90" y="299.90" width="16.00" height="3.20" fill="#e8381a" />
<text x="453.70" y="304.35" font-size="8.15" text-anchor="start" fill="#000" >RT3D + talazoparib</text>
<text x="13.60" y="348.80" font-size="13.6" text-anchor="start" fill="#000" >C.</text>
<line x1="76.50" y1="360.60" x2="76.50" y2="442.10" stroke="#000" stroke-width="1.1" />
<line x1="76.90" y1="442.50" x2="175.90" y2="442.50" stroke="#000" stroke-width="1.1" />
<line x1="74.40" y1="442.50" x2="76.90" y2="442.50" stroke="#000" stroke-width="1" />
<text x="70.60" y="445.11" font-size="8.6" text-anchor="end" fill="#000" >0.0</text>
<line x1="74.40" y1="425.50" x2="76.90" y2="425.50" stroke="#000" stroke-width="1" />
<text x="70.60" y="428.91" font-size="8.6" text-anchor="end" fill="#000" >0.2</text>
<line x1="74.40" y1="409.50" x2="76.90" y2="409.50" stroke="#000" stroke-width="1" />
<text x="70.60" y="412.71" font-size="8.6" text-anchor="end" fill="#000" >0.4</text>
<line x1="74.40" y1="393.50" x2="76.90" y2="393.50" stroke="#000" stroke-width="1" />
<text x="70.60" y="396.51" font-size="8.6" text-anchor="end" fill="#000" >0.6</text>
<line x1="74.40" y1="377.50" x2="76.90" y2="377.50" stroke="#000" stroke-width="1" />
<text x="70.60" y="380.31" font-size="8.6" text-anchor="end" fill="#000" >0.8</text>
<line x1="74.40" y1="361.50" x2="76.90" y2="361.50" stroke="#000" stroke-width="1" />
<text x="70.60" y="364.11" font-size="8.6" text-anchor="end" fill="#000" >1.0</text>
<text x="49.80" y="401.60" font-size="9.0" text-anchor="middle" fill="#000" transform="rotate(-90 49.80 401.60)" >NFκB activity (450nm)</text>
<text x="79.70" y="359.61" font-size="8.6" text-anchor="start" fill="#000" >A375</text>
<rect x="82.20" y="431.57" width="8.50" height="10.53" fill="#0a2cff" stroke="#000" stroke-width="0.8" />
<circle cx="84.05" cy="432.77" r="2.20" fill="#000"/>
<circle cx="86.45" cy="431.57" r="2.20" fill="#000"/>
<circle cx="88.85" cy="430.37" r="2.20" fill="#000"/>
<rect x="95.50" y="421.45" width="8.50" height="20.65" fill="#ff2400" stroke="#000" stroke-width="0.8" />
<rect x="95.15" y="420.45" width="4.40" height="4.40" fill="#000"/>
<rect x="97.55" y="419.25" width="4.40" height="4.40" fill="#000"/>
<rect x="99.95" y="418.05" width="4.40" height="4.40" fill="#000"/>
<rect x="117.10" y="416.99" width="8.50" height="25.11" fill="#0a2cff" stroke="#000" stroke-width="0.8" />
<circle cx="121.35" cy="414.39" r="2.30" fill="#000"/>
<circle cx="121.35" cy="419.19" r="2.30" fill="#000"/>
<rect x="130.20" y="384.59" width="8.50" height="57.51" fill="#ff2400" stroke="#000" stroke-width="0.8" />
<rect x="132.15" y="379.69" width="4.60" height="4.60" fill="#000"/>
<rect x="132.15" y="384.49" width="4.60" height="4.60" fill="#000"/>
<rect x="152.30" y="405.65" width="8.50" height="36.45" fill="#0a2cff" stroke="#000" stroke-width="0.8" />
<circle cx="154.15" cy="406.85" r="2.20" fill="#000"/>
<circle cx="156.55" cy="405.65" r="2.20" fill="#000"/>
<circle cx="158.95" cy="404.45" r="2.20" fill="#000"/>
<rect x="165.40" y="374.06" width="8.50" height="68.04" fill="#ff2400" stroke="#000" stroke-width="0.8" />
<rect x="165.05" y="373.06" width="4.40" height="4.40" fill="#000"/>
<rect x="167.45" y="371.86" width="4.40" height="4.40" fill="#000"/>
<rect x="169.85" y="370.66" width="4.40" height="4.40" fill="#000"/>
<text x="92.70" y="451.81" font-size="8.6" text-anchor="middle" fill="#000" >0</text>
<text x="126.80" y="451.81" font-size="8.6" text-anchor="middle" fill="#000" >0.1</text>
<text x="162.60" y="451.81" font-size="8.6" text-anchor="middle" fill="#000" >1</text>
<text x="178.70" y="451.56" font-size="7.9" text-anchor="start" fill="#000" >MOI [RT3D]</text>
<line x1="120.40" y1="375.50" x2="134.90" y2="375.50" stroke="#000" stroke-width="0.9" />
<text x="127.65" y="376.70" font-size="8" text-anchor="middle" fill="#000" >**</text>
<line x1="156.50" y1="366.50" x2="170.40" y2="366.50" stroke="#000" stroke-width="0.9" />
<text x="163.45" y="367.80" font-size="8" text-anchor="middle" fill="#000" >**</text>
<circle cx="99.10" cy="459.90" r="2.10" fill="#000" />
<rect x="97.00" y="466.90" width="4.20" height="4.20" fill="#000" />
<text x="117.50" y="462.84" font-size="8.4" text-anchor="start" fill="#000" >- talazoparib</text>
<text x="117.50" y="471.94" font-size="8.4" text-anchor="start" fill="#000" >+ talazoparib (0.1 μM)</text>
<line x1="277.50" y1="361.00" x2="277.50" y2="441.40" stroke="#000" stroke-width="1.1" />
<line x1="277.30" y1="441.50" x2="374.40" y2="441.50" stroke="#000" stroke-width="1.1" />
<line x1="274.80" y1="441.50" x2="277.30" y2="441.50" stroke="#000" stroke-width="1" />
<text x="271.00" y="444.41" font-size="8.6" text-anchor="end" fill="#000" >0.0</text>
<line x1="274.80" y1="425.50" x2="277.30" y2="425.50" stroke="#000" stroke-width="1" />
<text x="271.00" y="428.43" font-size="8.6" text-anchor="end" fill="#000" >0.2</text>
<line x1="274.80" y1="409.50" x2="277.30" y2="409.50" stroke="#000" stroke-width="1" />
<text x="271.00" y="412.45" font-size="8.6" text-anchor="end" fill="#000" >0.4</text>
<line x1="274.80" y1="393.50" x2="277.30" y2="393.50" stroke="#000" stroke-width="1" />
<text x="271.00" y="396.47" font-size="8.6" text-anchor="end" fill="#000" >0.6</text>
<line x1="274.80" y1="377.50" x2="277.30" y2="377.50" stroke="#000" stroke-width="1" />
<text x="271.00" y="380.49" font-size="8.6" text-anchor="end" fill="#000" >0.8</text>
<line x1="274.80" y1="361.50" x2="277.30" y2="361.50" stroke="#000" stroke-width="1" />
<text x="271.00" y="364.51" font-size="8.6" text-anchor="end" fill="#000" >1.0</text>
<text x="254.80" y="401.45" font-size="9.0" text-anchor="middle" fill="#000" transform="rotate(-90 254.80 401.45)" >NFκB activity (450nm)</text>
<text x="279.80" y="359.31" font-size="8.6" text-anchor="start" fill="#000" >MeWo</text>
<rect x="282.60" y="421.82" width="8.50" height="19.58" fill="#0a2cff" stroke="#000" stroke-width="0.8" />
<circle cx="284.45" cy="423.02" r="2.20" fill="#000"/>
<circle cx="286.85" cy="421.82" r="2.20" fill="#000"/>
<circle cx="289.25" cy="420.62" r="2.20" fill="#000"/>
<rect x="295.90" y="413.44" width="8.50" height="27.96" fill="#ff2400" stroke="#000" stroke-width="0.8" />
<rect x="295.55" y="412.44" width="4.40" height="4.40" fill="#000"/>
<rect x="297.95" y="411.24" width="4.40" height="4.40" fill="#000"/>
<rect x="300.35" y="410.04" width="4.40" height="4.40" fill="#000"/>
<rect x="316.90" y="415.03" width="8.50" height="26.37" fill="#0a2cff" stroke="#000" stroke-width="0.8" />
<circle cx="321.15" cy="412.43" r="2.30" fill="#000"/>
<circle cx="321.15" cy="417.23" r="2.30" fill="#000"/>
<rect x="330.60" y="394.26" width="8.50" height="47.14" fill="#ff2400" stroke="#000" stroke-width="0.8" />
<rect x="332.55" y="389.36" width="4.60" height="4.60" fill="#000"/>
<rect x="332.55" y="394.16" width="4.60" height="4.60" fill="#000"/>
<rect x="352.60" y="405.44" width="8.50" height="35.95" fill="#0a2cff" stroke="#000" stroke-width="0.8" />
<circle cx="354.45" cy="406.64" r="2.20" fill="#000"/>
<circle cx="356.85" cy="405.44" r="2.20" fill="#000"/>
<circle cx="359.25" cy="404.25" r="2.20" fill="#000"/>
<rect x="365.60" y="380.68" width="8.50" height="60.72" fill="#ff2400" stroke="#000" stroke-width="0.8" />
<rect x="365.25" y="379.68" width="4.40" height="4.40" fill="#000"/>
<rect x="367.65" y="378.48" width="4.40" height="4.40" fill="#000"/>
<rect x="370.05" y="377.28" width="4.40" height="4.40" fill="#000"/>
<text x="293.10" y="450.61" font-size="8.6" text-anchor="middle" fill="#000" >0</text>
<text x="324.60" y="450.61" font-size="8.6" text-anchor="middle" fill="#000" >0.1</text>
<text x="363.10" y="450.61" font-size="8.6" text-anchor="middle" fill="#000" >1</text>
<text x="377.20" y="450.37" font-size="7.9" text-anchor="start" fill="#000" >MOI [RT3D]</text>
<line x1="320.40" y1="386.50" x2="334.40" y2="386.50" stroke="#000" stroke-width="0.9" />
<text x="327.40" y="388.00" font-size="8" text-anchor="middle" fill="#000" >**</text>
<line x1="356.10" y1="374.50" x2="370.20" y2="374.50" stroke="#000" stroke-width="0.9" />
<text x="363.15" y="375.70" font-size="8" text-anchor="middle" fill="#000" >**</text>
<circle cx="298.30" cy="459.20" r="2.10" fill="#000" />
<rect x="296.20" y="466.50" width="4.20" height="4.20" fill="#000" />
<text x="316.90" y="462.14" font-size="8.4" text-anchor="start" fill="#000" >- talazoparib</text>
<text x="316.90" y="471.54" font-size="8.4" text-anchor="start" fill="#000" >+ talazoparib (0.1 μM)</text>
<defs><radialGradient id="blob"><stop offset="0" stop-color="#fff" stop-opacity="1"/><stop offset="0.55" stop-color="#fff" stop-opacity="0.75"/><stop offset="1" stop-color="#fff" stop-opacity="0"/></radialGradient><radialGradient id="glow"><stop offset="0" stop-color="#fff" stop-opacity="0.9"/><stop offset="1" stop-color="#fff" stop-opacity="0"/></radialGradient><radialGradient id="ring"><stop offset="0" stop-color="#fff" stop-opacity="0.15"/><stop offset="0.45" stop-color="#fff" stop-opacity="0.2"/><stop offset="0.62" stop-color="#fff" stop-opacity="0.95"/><stop offset="0.8" stop-color="#fff" stop-opacity="0.55"/><stop offset="1" stop-color="#fff" stop-opacity="0"/></radialGradient></defs>
<text x="460.00" y="356.00" font-size="13.6" text-anchor="start" fill="#000" >D.</text>
<text x="543.80" y="343.53" font-size="8.95" text-anchor="middle" fill="#000" >48 hr post infection</text>
<line x1="485.60" y1="345.50" x2="603.60" y2="345.50" stroke="#000" stroke-width="0.9" />
<text x="515.80" y="356.26" font-size="7.9" text-anchor="middle" fill="#000" >PCNA-scarlet</text>
<text x="582.20" y="356.48" font-size="8.5" text-anchor="middle" fill="#000" >RELA-GFP</text>
<filter id="sb" x="-5%" y="-5%" width="110%" height="110%"><feGaussianBlur stdDeviation="0.45"/></filter>
<clipPath id="dp0"><rect x="480.00" y="361.60" width="60.70" height="45.00"/></clipPath>
<g clip-path="url(#dp0)">
<rect x="480.00" y="361.60" width="60.70" height="45.00" fill="#060606" />
<g filter="url(#sb)">
<ellipse cx="513.98" cy="403.19" rx="1.36" ry="1.19" fill="rgb(62,62,62)" stroke="rgb(89,89,89)" stroke-width="0.7"/>
<ellipse cx="491.21" cy="384.64" rx="1.47" ry="1.39" fill="rgb(71,71,71)" stroke="rgb(102,102,102)" stroke-width="0.7"/>
<ellipse cx="498.42" cy="365.68" rx="1.08" ry="0.99" fill="rgb(80,80,80)" stroke="rgb(115,115,115)" stroke-width="0.7"/>
<ellipse cx="539.62" cy="405.01" rx="1.03" ry="0.93" fill="rgb(72,72,72)" stroke="rgb(104,104,104)" stroke-width="0.7"/>
<ellipse cx="480.91" cy="385.38" rx="1.13" ry="0.90" fill="rgb(41,41,41)" stroke="rgb(59,59,59)" stroke-width="0.7"/>
<ellipse cx="481.83" cy="382.48" rx="1.19" ry="1.15" fill="rgb(61,61,61)" stroke="rgb(88,88,88)" stroke-width="0.7"/>
<ellipse cx="518.87" cy="384.09" rx="1.42" ry="1.22" fill="rgb(72,72,72)" stroke="rgb(104,104,104)" stroke-width="0.7"/>
<ellipse cx="540.56" cy="406.41" rx="1.22" ry="1.13" fill="rgb(82,82,82)" stroke="rgb(118,118,118)" stroke-width="0.7"/>
<ellipse cx="493.94" cy="374.61" rx="1.25" ry="1.18" fill="rgb(42,42,42)" stroke="rgb(60,60,60)" stroke-width="0.7"/>
<ellipse cx="531.39" cy="378.99" rx="1.32" ry="1.27" fill="rgb(88,88,88)" stroke="rgb(126,126,126)" stroke-width="0.7"/>
<ellipse cx="492.73" cy="402.56" rx="1.00" ry="1.00" fill="rgb(62,62,62)" stroke="rgb(90,90,90)" stroke-width="0.7"/>
<ellipse cx="484.43" cy="389.93" rx="1.32" ry="1.08" fill="rgb(79,79,79)" stroke="rgb(113,113,113)" stroke-width="0.7"/>
<ellipse cx="500.19" cy="404.98" rx="1.07" ry="0.83" fill="rgb(77,77,77)" stroke="rgb(111,111,111)" stroke-width="0.7"/>
<ellipse cx="486.13" cy="364.30" rx="1.20" ry="0.95" fill="rgb(79,79,79)" stroke="rgb(114,114,114)" stroke-width="0.7"/>
<ellipse cx="507.16" cy="370.18" rx="1.45" ry="1.13" fill="rgb(76,76,76)" stroke="rgb(109,109,109)" stroke-width="0.7"/>
<ellipse cx="487.07" cy="380.53" rx="1.51" ry="1.24" fill="rgb(49,49,49)" stroke="rgb(70,70,70)" stroke-width="0.7"/>
<ellipse cx="528.77" cy="375.29" rx="1.78" ry="1.43" fill="rgb(84,84,84)" stroke="rgb(121,121,121)" stroke-width="0.7"/>
<ellipse cx="531.86" cy="390.48" rx="1.32" ry="1.31" fill="rgb(43,43,43)" stroke="rgb(62,62,62)" stroke-width="0.7"/>
<ellipse cx="495.68" cy="396.37" rx="1.17" ry="0.96" fill="rgb(55,55,55)" stroke="rgb(79,79,79)" stroke-width="0.7"/>
<ellipse cx="485.47" cy="387.82" rx="1.06" ry="0.95" fill="rgb(51,51,51)" stroke="rgb(73,73,73)" stroke-width="0.7"/>
<ellipse cx="507.51" cy="404.76" rx="1.30" ry="1.16" fill="rgb(63,63,63)" stroke="rgb(91,91,91)" stroke-width="0.7"/>
<ellipse cx="491.10" cy="368.54" rx="1.69" ry="1.62" fill="rgb(86,86,86)" stroke="rgb(123,123,123)" stroke-width="0.7"/>
<ellipse cx="491.52" cy="394.87" rx="1.20" ry="0.96" fill="rgb(87,87,87)" stroke="rgb(125,125,125)" stroke-width="0.7"/>
<ellipse cx="533.55" cy="388.76" rx="1.76" ry="1.37" fill="rgb(60,60,60)" stroke="rgb(86,86,86)" stroke-width="0.7"/>
<ellipse cx="538.43" cy="372.33" rx="1.03" ry="0.84" fill="rgb(74,74,74)" stroke="rgb(107,107,107)" stroke-width="0.7"/>
<ellipse cx="516.21" cy="374.80" rx="1.66" ry="1.54" fill="rgb(47,47,47)" stroke="rgb(68,68,68)" stroke-width="0.7"/>
<ellipse cx="493.86" cy="386.77" rx="1.06" ry="0.95" fill="rgb(82,82,82)" stroke="rgb(118,118,118)" stroke-width="0.7"/>
<ellipse cx="535.68" cy="370.78" rx="1.22" ry="1.00" fill="rgb(39,39,39)" stroke="rgb(56,56,56)" stroke-width="0.7"/>
<ellipse cx="483.67" cy="369.53" rx="1.36" ry="1.21" fill="rgb(57,57,57)" stroke="rgb(82,82,82)" stroke-width="0.7"/>
<ellipse cx="501.98" cy="401.69" rx="1.11" ry="1.01" fill="rgb(89,89,89)" stroke="rgb(128,128,128)" stroke-width="0.7"/>
<ellipse cx="515.48" cy="367.92" rx="1.55" ry="1.17" fill="rgb(39,39,39)" stroke="rgb(57,57,57)" stroke-width="0.7"/>
<ellipse cx="522.55" cy="404.92" rx="1.73" ry="1.57" fill="rgb(39,39,39)" stroke="rgb(56,56,56)" stroke-width="0.7"/>
<ellipse cx="524.34" cy="375.95" rx="1.39" ry="1.07" fill="rgb(90,90,90)" stroke="rgb(129,129,129)" stroke-width="0.7"/>
<ellipse cx="524.74" cy="402.11" rx="1.44" ry="1.33" fill="rgb(77,77,77)" stroke="rgb(110,110,110)" stroke-width="0.7"/>
<ellipse cx="535.54" cy="377.43" rx="1.63" ry="1.59" fill="rgb(74,74,74)" stroke="rgb(106,106,106)" stroke-width="0.7"/>
<ellipse cx="505.32" cy="397.17" rx="1.70" ry="1.52" fill="rgb(83,83,83)" stroke="rgb(119,119,119)" stroke-width="0.7"/>
<ellipse cx="503.21" cy="387.82" rx="1.50" ry="1.16" fill="rgb(70,70,70)" stroke="rgb(100,100,100)" stroke-width="0.7"/>
<ellipse cx="540.29" cy="401.19" rx="1.51" ry="1.28" fill="rgb(76,76,76)" stroke="rgb(109,109,109)" stroke-width="0.7"/>
<ellipse cx="515.26" cy="381.42" rx="1.59" ry="1.22" fill="rgb(81,81,81)" stroke="rgb(117,117,117)" stroke-width="0.7"/>
<ellipse cx="481.81" cy="388.66" rx="1.60" ry="1.29" fill="rgb(63,63,63)" stroke="rgb(91,91,91)" stroke-width="0.7"/>
<ellipse cx="510.18" cy="389.25" rx="1.56" ry="1.27" fill="rgb(86,86,86)" stroke="rgb(124,124,124)" stroke-width="0.7"/>
<ellipse cx="498.27" cy="392.12" rx="1.01" ry="0.80" fill="rgb(49,49,49)" stroke="rgb(70,70,70)" stroke-width="0.7"/>
<ellipse cx="520.06" cy="381.49" rx="1.72" ry="1.43" fill="rgb(84,84,84)" stroke="rgb(121,121,121)" stroke-width="0.7"/>
<ellipse cx="492.05" cy="380.99" rx="1.53" ry="1.50" fill="rgb(80,80,80)" stroke="rgb(115,115,115)" stroke-width="0.7"/>
<ellipse cx="503.33" cy="387.84" rx="1.70" ry="1.34" fill="rgb(54,54,54)" stroke="rgb(78,78,78)" stroke-width="0.7"/>
<ellipse cx="530.81" cy="399.79" rx="1.40" ry="1.38" fill="rgb(75,75,75)" stroke="rgb(108,108,108)" stroke-width="0.7"/>
<ellipse cx="490.27" cy="381.88" rx="1.22" ry="0.98" fill="rgb(52,52,52)" stroke="rgb(75,75,75)" stroke-width="0.7"/>
<ellipse cx="517.98" cy="383.82" rx="1.33" ry="1.28" fill="rgb(54,54,54)" stroke="rgb(78,78,78)" stroke-width="0.7"/>
<ellipse cx="507.47" cy="364.96" rx="1.79" ry="1.73" fill="rgb(39,39,39)" stroke="rgb(57,57,57)" stroke-width="0.7"/>
<ellipse cx="523.01" cy="387.28" rx="1.03" ry="0.98" fill="rgb(54,54,54)" stroke="rgb(78,78,78)" stroke-width="0.7"/>
<ellipse cx="488.25" cy="382.07" rx="1.02" ry="0.97" fill="rgb(39,39,39)" stroke="rgb(56,56,56)" stroke-width="0.7"/>
<ellipse cx="488.55" cy="363.71" rx="1.19" ry="1.03" fill="rgb(71,71,71)" stroke="rgb(102,102,102)" stroke-width="0.7"/>
<ellipse cx="519.76" cy="397.93" rx="1.50" ry="1.39" fill="rgb(88,88,88)" stroke="rgb(126,126,126)" stroke-width="0.7"/>
<ellipse cx="508.84" cy="369.64" rx="1.16" ry="1.01" fill="rgb(38,38,38)" stroke="rgb(55,55,55)" stroke-width="0.7"/>
<ellipse cx="490.87" cy="373.86" rx="1.57" ry="1.45" fill="rgb(56,56,56)" stroke="rgb(80,80,80)" stroke-width="0.7"/>
<ellipse cx="517.30" cy="395.63" rx="1.42" ry="1.34" fill="rgb(58,58,58)" stroke="rgb(84,84,84)" stroke-width="0.7"/>
<ellipse cx="485.29" cy="403.57" rx="1.72" ry="1.35" fill="rgb(76,76,76)" stroke="rgb(109,109,109)" stroke-width="0.7"/>
<ellipse cx="517.97" cy="402.55" rx="1.36" ry="1.22" fill="rgb(58,58,58)" stroke="rgb(83,83,83)" stroke-width="0.7"/>
<ellipse cx="528.36" cy="404.09" rx="1.70" ry="1.55" fill="rgb(62,62,62)" stroke="rgb(89,89,89)" stroke-width="0.7"/>
<ellipse cx="523.82" cy="398.43" rx="1.16" ry="1.08" fill="rgb(72,72,72)" stroke="rgb(103,103,103)" stroke-width="0.7"/>
</g></g>
<clipPath id="dr0"><rect x="542.90" y="361.60" width="62.10" height="45.00"/></clipPath>
<g clip-path="url(#dr0)">
<rect x="542.90" y="361.60" width="62.10" height="45.00" fill="#101010" />
<g filter="url(#sb)">
<g transform="rotate(97 600.39 407.64)"><ellipse cx="600.39" cy="407.64" rx="4.01" ry="3.75" fill="rgb(108,108,108)" stroke="rgb(145,145,145)" stroke-width="0.6" opacity="0.9"/><ellipse cx="600.03" cy="408.46" rx="1.80" ry="1.88" fill="rgb(75,75,75)" stroke="rgb(145,145,145)" stroke-width="0.5"/></g>
<g transform="rotate(99 563.94 363.66)"><ellipse cx="563.94" cy="363.66" rx="5.23" ry="4.86" fill="rgb(79,79,79)" stroke="rgb(106,106,106)" stroke-width="0.6" opacity="0.9"/><ellipse cx="563.91" cy="362.71" rx="2.35" ry="2.43" fill="rgb(55,55,55)" stroke="rgb(106,106,106)" stroke-width="0.5"/></g>
<g transform="rotate(60 545.13 398.79)"><ellipse cx="545.13" cy="398.79" rx="5.14" ry="4.81" fill="rgb(64,64,64)" stroke="rgb(86,86,86)" stroke-width="0.6" opacity="0.9"/><ellipse cx="544.42" cy="398.09" rx="2.31" ry="2.41" fill="rgb(44,44,44)" stroke="rgb(86,86,86)" stroke-width="0.5"/></g>
<g transform="rotate(170 588.73 400.76)"><ellipse cx="588.73" cy="400.76" rx="4.58" ry="3.88" fill="rgb(92,92,92)" stroke="rgb(124,124,124)" stroke-width="0.6" opacity="0.9"/><ellipse cx="589.63" cy="399.93" rx="2.06" ry="1.94" fill="rgb(64,64,64)" stroke="rgb(124,124,124)" stroke-width="0.5"/></g>
<g transform="rotate(115 575.71 373.82)"><ellipse cx="575.71" cy="373.82" rx="4.02" ry="3.45" fill="rgb(95,95,95)" stroke="rgb(128,128,128)" stroke-width="0.6" opacity="0.9"/><ellipse cx="576.40" cy="373.94" rx="1.81" ry="1.72" fill="rgb(66,66,66)" stroke="rgb(128,128,128)" stroke-width="0.5"/></g>
<g transform="rotate(37 566.10 401.02)"><ellipse cx="566.10" cy="401.02" rx="4.19" ry="4.00" fill="rgb(104,104,104)" stroke="rgb(140,140,140)" stroke-width="0.6" opacity="0.9"/><ellipse cx="567.04" cy="401.07" rx="1.89" ry="2.00" fill="rgb(72,72,72)" stroke="rgb(140,140,140)" stroke-width="0.5"/></g>
<g transform="rotate(109 554.18 385.86)"><ellipse cx="554.18" cy="385.86" rx="4.69" ry="3.32" fill="rgb(82,82,82)" stroke="rgb(110,110,110)" stroke-width="0.6" opacity="0.9"/><ellipse cx="555.12" cy="385.89" rx="2.11" ry="1.66" fill="rgb(57,57,57)" stroke="rgb(110,110,110)" stroke-width="0.5"/></g>
<g transform="rotate(124 593.85 387.18)"><ellipse cx="593.85" cy="387.18" rx="4.36" ry="3.14" fill="rgb(82,82,82)" stroke="rgb(110,110,110)" stroke-width="0.6" opacity="0.9"/><ellipse cx="593.93" cy="387.01" rx="1.96" ry="1.57" fill="rgb(57,57,57)" stroke="rgb(110,110,110)" stroke-width="0.5"/></g>
<g transform="rotate(23 601.94 372.79)"><ellipse cx="601.94" cy="372.79" rx="5.42" ry="4.50" fill="rgb(81,81,81)" stroke="rgb(109,109,109)" stroke-width="0.6" opacity="0.9"/><ellipse cx="602.57" cy="373.59" rx="2.44" ry="2.25" fill="rgb(56,56,56)" stroke="rgb(109,109,109)" stroke-width="0.5"/></g>
<g transform="rotate(167 561.87 368.98)"><ellipse cx="561.87" cy="368.98" rx="4.51" ry="3.33" fill="rgb(88,88,88)" stroke="rgb(118,118,118)" stroke-width="0.6" opacity="0.9"/><ellipse cx="562.43" cy="368.03" rx="2.03" ry="1.66" fill="rgb(61,61,61)" stroke="rgb(118,118,118)" stroke-width="0.5"/></g>
<g transform="rotate(64 555.92 393.26)"><ellipse cx="555.92" cy="393.26" rx="3.97" ry="3.52" fill="rgb(72,72,72)" stroke="rgb(97,97,97)" stroke-width="0.6" opacity="0.9"/><ellipse cx="555.13" cy="393.73" rx="1.79" ry="1.76" fill="rgb(50,50,50)" stroke="rgb(97,97,97)" stroke-width="0.5"/></g>
<g transform="rotate(95 574.64 371.88)"><ellipse cx="574.64" cy="371.88" rx="3.83" ry="3.19" fill="rgb(65,65,65)" stroke="rgb(87,87,87)" stroke-width="0.6" opacity="0.9"/><ellipse cx="574.39" cy="371.70" rx="1.72" ry="1.59" fill="rgb(45,45,45)" stroke="rgb(87,87,87)" stroke-width="0.5"/></g>
<g transform="rotate(115 551.46 369.61)"><ellipse cx="551.46" cy="369.61" rx="4.61" ry="3.96" fill="rgb(89,89,89)" stroke="rgb(120,120,120)" stroke-width="0.6" opacity="0.9"/><ellipse cx="552.16" cy="369.83" rx="2.07" ry="1.98" fill="rgb(62,62,62)" stroke="rgb(120,120,120)" stroke-width="0.5"/></g>
<g transform="rotate(162 556.28 395.90)"><ellipse cx="556.28" cy="395.90" rx="5.23" ry="4.15" fill="rgb(99,99,99)" stroke="rgb(133,133,133)" stroke-width="0.6" opacity="0.9"/><ellipse cx="555.91" cy="396.74" rx="2.35" ry="2.08" fill="rgb(69,69,69)" stroke="rgb(133,133,133)" stroke-width="0.5"/></g>
<g transform="rotate(43 606.89 403.09)"><ellipse cx="606.89" cy="403.09" rx="4.01" ry="3.69" fill="rgb(62,62,62)" stroke="rgb(83,83,83)" stroke-width="0.6" opacity="0.9"/><ellipse cx="606.41" cy="402.28" rx="1.81" ry="1.84" fill="rgb(43,43,43)" stroke="rgb(83,83,83)" stroke-width="0.5"/></g>
<g transform="rotate(73 568.77 398.31)"><ellipse cx="568.77" cy="398.31" rx="5.18" ry="4.69" fill="rgb(61,61,61)" stroke="rgb(82,82,82)" stroke-width="0.6" opacity="0.9"/><ellipse cx="567.81" cy="397.71" rx="2.33" ry="2.35" fill="rgb(42,42,42)" stroke="rgb(82,82,82)" stroke-width="0.5"/></g>
<g transform="rotate(91 601.14 407.05)"><ellipse cx="601.14" cy="407.05" rx="4.90" ry="4.54" fill="rgb(61,61,61)" stroke="rgb(82,82,82)" stroke-width="0.6" opacity="0.9"/><ellipse cx="601.15" cy="407.42" rx="2.20" ry="2.27" fill="rgb(42,42,42)" stroke="rgb(82,82,82)" stroke-width="0.5"/></g>
<g transform="rotate(99 545.56 364.80)"><ellipse cx="545.56" cy="364.80" rx="3.96" ry="3.38" fill="rgb(57,57,57)" stroke="rgb(76,76,76)" stroke-width="0.6" opacity="0.9"/><ellipse cx="545.70" cy="364.10" rx="1.78" ry="1.69" fill="rgb(39,39,39)" stroke="rgb(76,76,76)" stroke-width="0.5"/></g>
<g transform="rotate(167 554.38 400.77)"><ellipse cx="554.38" cy="400.77" rx="3.95" ry="2.88" fill="rgb(109,109,109)" stroke="rgb(147,147,147)" stroke-width="0.6" opacity="0.9"/><ellipse cx="553.50" cy="401.67" rx="1.78" ry="1.44" fill="rgb(76,76,76)" stroke="rgb(147,147,147)" stroke-width="0.5"/></g>
<g transform="rotate(93 591.45 375.61)"><ellipse cx="591.45" cy="375.61" rx="4.48" ry="3.71" fill="rgb(80,80,80)" stroke="rgb(108,108,108)" stroke-width="0.6" opacity="0.9"/><ellipse cx="591.65" cy="374.64" rx="2.02" ry="1.86" fill="rgb(56,56,56)" stroke="rgb(108,108,108)" stroke-width="0.5"/></g>
<g transform="rotate(133 596.71 368.48)"><ellipse cx="596.71" cy="368.48" rx="4.93" ry="4.05" fill="rgb(79,79,79)" stroke="rgb(106,106,106)" stroke-width="0.6" opacity="0.9"/><ellipse cx="596.10" cy="367.81" rx="2.22" ry="2.03" fill="rgb(55,55,55)" stroke="rgb(106,106,106)" stroke-width="0.5"/></g>
<g transform="rotate(127 541.92 403.37)"><ellipse cx="541.92" cy="403.37" rx="4.57" ry="4.38" fill="rgb(99,99,99)" stroke="rgb(133,133,133)" stroke-width="0.6" opacity="0.9"/><ellipse cx="542.18" cy="403.18" rx="2.06" ry="2.19" fill="rgb(69,69,69)" stroke="rgb(133,133,133)" stroke-width="0.5"/></g>
<g transform="rotate(46 574.23 407.75)"><ellipse cx="574.23" cy="407.75" rx="4.74" ry="4.61" fill="rgb(99,99,99)" stroke="rgb(133,133,133)" stroke-width="0.6" opacity="0.9"/><ellipse cx="574.72" cy="408.31" rx="2.13" ry="2.31" fill="rgb(69,69,69)" stroke="rgb(133,133,133)" stroke-width="0.5"/></g>
<g transform="rotate(125 567.71 403.53)"><ellipse cx="567.71" cy="403.53" rx="5.15" ry="4.79" fill="rgb(103,103,103)" stroke="rgb(139,139,139)" stroke-width="0.6" opacity="0.9"/><ellipse cx="568.24" cy="403.34" rx="2.32" ry="2.39" fill="rgb(72,72,72)" stroke="rgb(139,139,139)" stroke-width="0.5"/></g>
<g transform="rotate(2 545.56 376.34)"><ellipse cx="545.56" cy="376.34" rx="4.97" ry="4.01" fill="rgb(80,80,80)" stroke="rgb(108,108,108)" stroke-width="0.6" opacity="0.9"/><ellipse cx="545.84" cy="376.59" rx="2.24" ry="2.01" fill="rgb(56,56,56)" stroke="rgb(108,108,108)" stroke-width="0.5"/></g>
<g transform="rotate(119 603.34 392.24)"><ellipse cx="603.34" cy="392.24" rx="4.04" ry="3.52" fill="rgb(73,73,73)" stroke="rgb(98,98,98)" stroke-width="0.6" opacity="0.9"/><ellipse cx="603.41" cy="392.02" rx="1.82" ry="1.76" fill="rgb(51,51,51)" stroke="rgb(98,98,98)" stroke-width="0.5"/></g>
<g transform="rotate(176 583.35 393.96)"><ellipse cx="583.35" cy="393.96" rx="5.50" ry="3.89" fill="rgb(96,96,96)" stroke="rgb(129,129,129)" stroke-width="0.6" opacity="0.9"/><ellipse cx="583.58" cy="394.44" rx="2.47" ry="1.94" fill="rgb(67,67,67)" stroke="rgb(129,129,129)" stroke-width="0.5"/></g>
<g transform="rotate(68 567.44 362.07)"><ellipse cx="567.44" cy="362.07" rx="4.09" ry="2.98" fill="rgb(65,65,65)" stroke="rgb(87,87,87)" stroke-width="0.6" opacity="0.9"/><ellipse cx="566.94" cy="362.88" rx="1.84" ry="1.49" fill="rgb(45,45,45)" stroke="rgb(87,87,87)" stroke-width="0.5"/></g>
<g transform="rotate(179 574.47 406.99)"><ellipse cx="574.47" cy="406.99" rx="4.65" ry="4.14" fill="rgb(86,86,86)" stroke="rgb(116,116,116)" stroke-width="0.6" opacity="0.9"/><ellipse cx="575.09" cy="406.14" rx="2.09" ry="2.07" fill="rgb(60,60,60)" stroke="rgb(116,116,116)" stroke-width="0.5"/></g>
<g transform="rotate(29 591.09 361.81)"><ellipse cx="591.09" cy="361.81" rx="4.74" ry="3.98" fill="rgb(106,106,106)" stroke="rgb(143,143,143)" stroke-width="0.6" opacity="0.9"/><ellipse cx="590.42" cy="361.80" rx="2.13" ry="1.99" fill="rgb(74,74,74)" stroke="rgb(143,143,143)" stroke-width="0.5"/></g>
<g transform="rotate(95 544.77 405.92)"><ellipse cx="544.77" cy="405.92" rx="4.76" ry="4.19" fill="rgb(78,78,78)" stroke="rgb(105,105,105)" stroke-width="0.6" opacity="0.9"/><ellipse cx="544.50" cy="405.49" rx="2.14" ry="2.09" fill="rgb(54,54,54)" stroke="rgb(105,105,105)" stroke-width="0.5"/></g>
<g transform="rotate(53 577.96 373.49)"><ellipse cx="577.96" cy="373.49" rx="4.84" ry="3.41" fill="rgb(94,94,94)" stroke="rgb(126,126,126)" stroke-width="0.6" opacity="0.9"/><ellipse cx="577.45" cy="372.58" rx="2.18" ry="1.71" fill="rgb(65,65,65)" stroke="rgb(126,126,126)" stroke-width="0.5"/></g>
<g transform="rotate(135 590.78 378.71)"><ellipse cx="590.78" cy="378.71" rx="3.90" ry="2.79" fill="rgb(104,104,104)" stroke="rgb(140,140,140)" stroke-width="0.6" opacity="0.9"/><ellipse cx="591.76" cy="379.60" rx="1.75" ry="1.39" fill="rgb(72,72,72)" stroke="rgb(140,140,140)" stroke-width="0.5"/></g>
<g transform="rotate(175 600.76 380.65)"><ellipse cx="600.76" cy="380.65" rx="3.74" ry="2.89" fill="rgb(81,81,81)" stroke="rgb(109,109,109)" stroke-width="0.6" opacity="0.9"/><ellipse cx="600.80" cy="381.52" rx="1.68" ry="1.45" fill="rgb(56,56,56)" stroke="rgb(109,109,109)" stroke-width="0.5"/></g>
<g transform="rotate(109 571.86 407.56)"><ellipse cx="571.86" cy="407.56" rx="4.97" ry="3.65" fill="rgb(99,99,99)" stroke="rgb(133,133,133)" stroke-width="0.6" opacity="0.9"/><ellipse cx="572.11" cy="407.47" rx="2.24" ry="1.83" fill="rgb(69,69,69)" stroke="rgb(133,133,133)" stroke-width="0.5"/></g>
<g transform="rotate(80 544.34 385.48)"><ellipse cx="544.34" cy="385.48" rx="3.99" ry="3.59" fill="rgb(61,61,61)" stroke="rgb(82,82,82)" stroke-width="0.6" opacity="0.9"/><ellipse cx="544.25" cy="385.00" rx="1.79" ry="1.79" fill="rgb(42,42,42)" stroke="rgb(82,82,82)" stroke-width="0.5"/></g>
<g transform="rotate(180 568.63 397.72)"><ellipse cx="568.63" cy="397.72" rx="4.71" ry="4.64" fill="rgb(84,84,84)" stroke="rgb(113,113,113)" stroke-width="0.6" opacity="0.9"/><ellipse cx="569.10" cy="397.20" rx="2.12" ry="2.32" fill="rgb(58,58,58)" stroke="rgb(113,113,113)" stroke-width="0.5"/></g>
<g transform="rotate(65 599.91 398.03)"><ellipse cx="599.91" cy="398.03" rx="3.82" ry="2.98" fill="rgb(89,89,89)" stroke="rgb(120,120,120)" stroke-width="0.6" opacity="0.9"/><ellipse cx="600.28" cy="398.16" rx="1.72" ry="1.49" fill="rgb(62,62,62)" stroke="rgb(120,120,120)" stroke-width="0.5"/></g>
<g transform="rotate(45 582.75 396.51)"><ellipse cx="582.75" cy="396.51" rx="4.72" ry="4.70" fill="rgb(65,65,65)" stroke="rgb(87,87,87)" stroke-width="0.6" opacity="0.9"/><ellipse cx="583.58" cy="397.27" rx="2.13" ry="2.35" fill="rgb(45,45,45)" stroke="rgb(87,87,87)" stroke-width="0.5"/></g>
<g transform="rotate(112 544.92 372.88)"><ellipse cx="544.92" cy="372.88" rx="3.68" ry="2.69" fill="rgb(78,78,78)" stroke="rgb(105,105,105)" stroke-width="0.6" opacity="0.9"/><ellipse cx="545.00" cy="372.02" rx="1.65" ry="1.34" fill="rgb(54,54,54)" stroke="rgb(105,105,105)" stroke-width="0.5"/></g>
<g transform="rotate(67 585.60 386.58)"><ellipse cx="585.60" cy="386.58" rx="3.76" ry="3.18" fill="rgb(89,89,89)" stroke="rgb(120,120,120)" stroke-width="0.6" opacity="0.9"/><ellipse cx="585.02" cy="386.27" rx="1.69" ry="1.59" fill="rgb(62,62,62)" stroke="rgb(120,120,120)" stroke-width="0.5"/></g>
<g transform="rotate(146 596.33 363.24)"><ellipse cx="596.33" cy="363.24" rx="5.02" ry="4.45" fill="rgb(61,61,61)" stroke="rgb(82,82,82)" stroke-width="0.6" opacity="0.9"/><ellipse cx="596.87" cy="362.67" rx="2.26" ry="2.22" fill="rgb(42,42,42)" stroke="rgb(82,82,82)" stroke-width="0.5"/></g>
<g transform="rotate(118 557.96 399.28)"><ellipse cx="557.96" cy="399.28" rx="4.41" ry="4.39" fill="rgb(75,75,75)" stroke="rgb(101,101,101)" stroke-width="0.6" opacity="0.9"/><ellipse cx="557.61" cy="399.38" rx="1.98" ry="2.20" fill="rgb(52,52,52)" stroke="rgb(101,101,101)" stroke-width="0.5"/></g>
<g transform="rotate(17 601.77 380.55)"><ellipse cx="601.77" cy="380.55" rx="5.02" ry="4.83" fill="rgb(75,75,75)" stroke="rgb(101,101,101)" stroke-width="0.6" opacity="0.9"/><ellipse cx="600.92" cy="379.72" rx="2.26" ry="2.41" fill="rgb(52,52,52)" stroke="rgb(101,101,101)" stroke-width="0.5"/></g>
<g transform="rotate(140 572.95 393.18)"><ellipse cx="572.95" cy="393.18" rx="4.67" ry="3.38" fill="rgb(71,71,71)" stroke="rgb(95,95,95)" stroke-width="0.6" opacity="0.9"/><ellipse cx="572.38" cy="393.51" rx="2.10" ry="1.69" fill="rgb(49,49,49)" stroke="rgb(95,95,95)" stroke-width="0.5"/></g>
<g transform="rotate(51 560.98 395.12)"><ellipse cx="560.98" cy="395.12" rx="3.76" ry="2.79" fill="rgb(93,93,93)" stroke="rgb(125,125,125)" stroke-width="0.6" opacity="0.9"/><ellipse cx="560.70" cy="395.58" rx="1.69" ry="1.39" fill="rgb(65,65,65)" stroke="rgb(125,125,125)" stroke-width="0.5"/></g>
<g transform="rotate(165 548.66 394.35)"><ellipse cx="548.66" cy="394.35" rx="4.30" ry="4.22" fill="rgb(86,86,86)" stroke="rgb(116,116,116)" stroke-width="0.6" opacity="0.9"/><ellipse cx="549.49" cy="394.23" rx="1.93" ry="2.11" fill="rgb(60,60,60)" stroke="rgb(116,116,116)" stroke-width="0.5"/></g>
<g transform="rotate(168 561.04 375.16)"><ellipse cx="561.04" cy="375.16" rx="5.13" ry="4.96" fill="rgb(76,76,76)" stroke="rgb(102,102,102)" stroke-width="0.6" opacity="0.9"/><ellipse cx="560.54" cy="374.89" rx="2.31" ry="2.48" fill="rgb(53,53,53)" stroke="rgb(102,102,102)" stroke-width="0.5"/></g>
<g transform="rotate(35 564.91 378.98)"><ellipse cx="564.91" cy="378.98" rx="4.29" ry="3.73" fill="rgb(76,76,76)" stroke="rgb(102,102,102)" stroke-width="0.6" opacity="0.9"/><ellipse cx="565.51" cy="379.07" rx="1.93" ry="1.87" fill="rgb(53,53,53)" stroke="rgb(102,102,102)" stroke-width="0.5"/></g>
<g transform="rotate(159 578.10 368.25)"><ellipse cx="578.10" cy="368.25" rx="5.19" ry="4.07" fill="rgb(96,96,96)" stroke="rgb(129,129,129)" stroke-width="0.6" opacity="0.9"/><ellipse cx="577.14" cy="368.28" rx="2.34" ry="2.04" fill="rgb(67,67,67)" stroke="rgb(129,129,129)" stroke-width="0.5"/></g>
<g transform="rotate(145 578.41 406.95)"><ellipse cx="578.41" cy="406.95" rx="4.63" ry="3.33" fill="rgb(90,90,90)" stroke="rgb(121,121,121)" stroke-width="0.6" opacity="0.9"/><ellipse cx="578.50" cy="407.53" rx="2.09" ry="1.67" fill="rgb(62,62,62)" stroke="rgb(121,121,121)" stroke-width="0.5"/></g>
<g transform="rotate(15 546.30 395.72)"><ellipse cx="546.30" cy="395.72" rx="3.76" ry="3.35" fill="rgb(104,104,104)" stroke="rgb(140,140,140)" stroke-width="0.6" opacity="0.9"/><ellipse cx="545.59" cy="396.21" rx="1.69" ry="1.67" fill="rgb(72,72,72)" stroke="rgb(140,140,140)" stroke-width="0.5"/></g>
<g transform="rotate(94 557.12 370.40)"><ellipse cx="557.12" cy="370.40" rx="4.83" ry="4.49" fill="rgb(97,97,97)" stroke="rgb(130,130,130)" stroke-width="0.6" opacity="0.9"/><ellipse cx="556.91" cy="370.08" rx="2.17" ry="2.25" fill="rgb(67,67,67)" stroke="rgb(130,130,130)" stroke-width="0.5"/></g>
<g transform="rotate(130 585.34 383.79)"><ellipse cx="585.34" cy="383.79" rx="5.44" ry="4.96" fill="rgb(84,84,84)" stroke="rgb(113,113,113)" stroke-width="0.6" opacity="0.9"/><ellipse cx="586.17" cy="383.61" rx="2.45" ry="2.48" fill="rgb(58,58,58)" stroke="rgb(113,113,113)" stroke-width="0.5"/></g>
<g transform="rotate(150 584.97 401.42)"><ellipse cx="584.97" cy="401.42" rx="5.17" ry="5.00" fill="rgb(99,99,99)" stroke="rgb(133,133,133)" stroke-width="0.6" opacity="0.9"/><ellipse cx="585.89" cy="401.70" rx="2.33" ry="2.50" fill="rgb(69,69,69)" stroke="rgb(133,133,133)" stroke-width="0.5"/></g>
<g transform="rotate(76 587.84 398.91)"><ellipse cx="587.84" cy="398.91" rx="4.60" ry="3.42" fill="rgb(78,78,78)" stroke="rgb(105,105,105)" stroke-width="0.6" opacity="0.9"/><ellipse cx="588.32" cy="399.89" rx="2.07" ry="1.71" fill="rgb(54,54,54)" stroke="rgb(105,105,105)" stroke-width="0.5"/></g>
<g transform="rotate(53 551.98 369.61)"><ellipse cx="551.98" cy="369.61" rx="4.31" ry="4.27" fill="rgb(78,78,78)" stroke="rgb(105,105,105)" stroke-width="0.6" opacity="0.9"/><ellipse cx="551.10" cy="369.23" rx="1.94" ry="2.14" fill="rgb(54,54,54)" stroke="rgb(105,105,105)" stroke-width="0.5"/></g>
<g transform="rotate(11 583.73 397.62)"><ellipse cx="583.73" cy="397.62" rx="3.82" ry="3.20" fill="rgb(64,64,64)" stroke="rgb(86,86,86)" stroke-width="0.6" opacity="0.9"/><ellipse cx="583.90" cy="398.44" rx="1.72" ry="1.60" fill="rgb(44,44,44)" stroke="rgb(86,86,86)" stroke-width="0.5"/></g>
<g transform="rotate(42 548.08 368.64)"><ellipse cx="548.08" cy="368.64" rx="3.67" ry="3.36" fill="rgb(66,66,66)" stroke="rgb(89,89,89)" stroke-width="0.6" opacity="0.9"/><ellipse cx="548.27" cy="368.09" rx="1.65" ry="1.68" fill="rgb(46,46,46)" stroke="rgb(89,89,89)" stroke-width="0.5"/></g>
<g transform="rotate(56 559.48 368.05)"><ellipse cx="559.48" cy="368.05" rx="3.95" ry="3.42" fill="rgb(96,96,96)" stroke="rgb(129,129,129)" stroke-width="0.6" opacity="0.9"/><ellipse cx="560.11" cy="368.01" rx="1.78" ry="1.71" fill="rgb(67,67,67)" stroke="rgb(129,129,129)" stroke-width="0.5"/></g>
<g transform="rotate(99 599.56 404.40)"><ellipse cx="599.56" cy="404.40" rx="4.09" ry="4.04" fill="rgb(73,73,73)" stroke="rgb(98,98,98)" stroke-width="0.6" opacity="0.9"/><ellipse cx="599.52" cy="403.84" rx="1.84" ry="2.02" fill="rgb(51,51,51)" stroke="rgb(98,98,98)" stroke-width="0.5"/></g>
<g transform="rotate(95 603.53 398.87)"><ellipse cx="603.53" cy="398.87" rx="3.69" ry="3.16" fill="rgb(76,76,76)" stroke="rgb(102,102,102)" stroke-width="0.6" opacity="0.9"/><ellipse cx="603.08" cy="399.85" rx="1.66" ry="1.58" fill="rgb(53,53,53)" stroke="rgb(102,102,102)" stroke-width="0.5"/></g>
<g transform="rotate(67 556.61 360.13)"><ellipse cx="556.61" cy="360.13" rx="4.85" ry="4.55" fill="rgb(80,80,80)" stroke="rgb(108,108,108)" stroke-width="0.6" opacity="0.9"/><ellipse cx="557.03" cy="360.35" rx="2.18" ry="2.28" fill="rgb(56,56,56)" stroke="rgb(108,108,108)" stroke-width="0.5"/></g>
<g transform="rotate(156 551.27 375.37)"><ellipse cx="551.27" cy="375.37" rx="3.90" ry="3.33" fill="rgb(69,69,69)" stroke="rgb(93,93,93)" stroke-width="0.6" opacity="0.9"/><ellipse cx="551.55" cy="376.35" rx="1.75" ry="1.67" fill="rgb(48,48,48)" stroke="rgb(93,93,93)" stroke-width="0.5"/></g>
<g transform="rotate(0 576.24 366.98)"><ellipse cx="576.24" cy="366.98" rx="4.11" ry="3.89" fill="rgb(97,97,97)" stroke="rgb(130,130,130)" stroke-width="0.6" opacity="0.9"/><ellipse cx="576.93" cy="367.63" rx="1.85" ry="1.94" fill="rgb(67,67,67)" stroke="rgb(130,130,130)" stroke-width="0.5"/></g>
<g transform="rotate(86 558.74 394.71)"><ellipse cx="558.74" cy="394.71" rx="3.76" ry="3.16" fill="rgb(60,60,60)" stroke="rgb(81,81,81)" stroke-width="0.6" opacity="0.9"/><ellipse cx="559.65" cy="394.88" rx="1.69" ry="1.58" fill="rgb(42,42,42)" stroke="rgb(81,81,81)" stroke-width="0.5"/></g>
<g transform="rotate(165 560.97 398.28)"><ellipse cx="560.97" cy="398.28" rx="5.23" ry="3.80" fill="rgb(77,77,77)" stroke="rgb(103,103,103)" stroke-width="0.6" opacity="0.9"/><ellipse cx="561.62" cy="397.69" rx="2.35" ry="1.90" fill="rgb(53,53,53)" stroke="rgb(103,103,103)" stroke-width="0.5"/></g>
<g transform="rotate(56 575.65 367.32)"><ellipse cx="575.65" cy="367.32" rx="4.63" ry="3.67" fill="rgb(100,100,100)" stroke="rgb(135,135,135)" stroke-width="0.6" opacity="0.9"/><ellipse cx="574.80" cy="366.93" rx="2.08" ry="1.84" fill="rgb(70,70,70)" stroke="rgb(135,135,135)" stroke-width="0.5"/></g>
<g transform="rotate(19 588.17 377.23)"><ellipse cx="588.17" cy="377.23" rx="4.49" ry="3.67" fill="rgb(92,92,92)" stroke="rgb(124,124,124)" stroke-width="0.6" opacity="0.9"/><ellipse cx="588.09" cy="378.16" rx="2.02" ry="1.84" fill="rgb(64,64,64)" stroke="rgb(124,124,124)" stroke-width="0.5"/></g>
<g transform="rotate(128 584.13 360.21)"><ellipse cx="584.13" cy="360.21" rx="5.18" ry="3.99" fill="rgb(75,75,75)" stroke="rgb(101,101,101)" stroke-width="0.6" opacity="0.9"/><ellipse cx="584.25" cy="360.12" rx="2.33" ry="2.00" fill="rgb(52,52,52)" stroke="rgb(101,101,101)" stroke-width="0.5"/></g>
<g transform="rotate(111 606.45 398.77)"><ellipse cx="606.45" cy="398.77" rx="3.62" ry="2.85" fill="rgb(66,66,66)" stroke="rgb(89,89,89)" stroke-width="0.6" opacity="0.9"/><ellipse cx="606.20" cy="398.85" rx="1.63" ry="1.42" fill="rgb(46,46,46)" stroke="rgb(89,89,89)" stroke-width="0.5"/></g>
<g transform="rotate(46 563.20 378.82)"><ellipse cx="563.20" cy="378.82" rx="4.17" ry="3.17" fill="rgb(91,91,91)" stroke="rgb(122,122,122)" stroke-width="0.6" opacity="0.9"/><ellipse cx="563.66" cy="378.48" rx="1.87" ry="1.58" fill="rgb(63,63,63)" stroke="rgb(122,122,122)" stroke-width="0.5"/></g>
<g transform="rotate(149 578.10 395.07)"><ellipse cx="578.10" cy="395.07" rx="5.40" ry="3.93" fill="rgb(73,73,73)" stroke="rgb(98,98,98)" stroke-width="0.6" opacity="0.9"/><ellipse cx="577.38" cy="394.25" rx="2.43" ry="1.96" fill="rgb(51,51,51)" stroke="rgb(98,98,98)" stroke-width="0.5"/></g>
<g transform="rotate(151 587.72 368.41)"><ellipse cx="587.72" cy="368.41" rx="4.89" ry="4.29" fill="rgb(77,77,77)" stroke="rgb(103,103,103)" stroke-width="0.6" opacity="0.9"/><ellipse cx="586.90" cy="367.87" rx="2.20" ry="2.15" fill="rgb(53,53,53)" stroke="rgb(103,103,103)" stroke-width="0.5"/></g>
<g transform="rotate(166 549.10 379.54)"><ellipse cx="549.10" cy="379.54" rx="3.90" ry="3.23" fill="rgb(58,58,58)" stroke="rgb(78,78,78)" stroke-width="0.6" opacity="0.9"/><ellipse cx="549.13" cy="379.83" rx="1.75" ry="1.61" fill="rgb(40,40,40)" stroke="rgb(78,78,78)" stroke-width="0.5"/></g>
<circle cx="588.92" cy="396.62" r="1.30" fill="#eee" />
<circle cx="567.55" cy="377.53" r="1.30" fill="#eee" />
</g></g>
<clipPath id="dp1"><rect x="480.00" y="408.20" width="60.70" height="44.60"/></clipPath>
<g clip-path="url(#dp1)">
<rect x="480.00" y="408.20" width="60.70" height="44.60" fill="#060606" />
<g filter="url(#sb)">
<ellipse cx="480.94" cy="426.07" rx="1.87" ry="1.86" fill="rgb(62,62,62)" stroke="rgb(90,90,90)" stroke-width="0.7"/>
<ellipse cx="520.08" cy="435.34" rx="2.21" ry="1.84" fill="rgb(32,32,32)" stroke="rgb(46,46,46)" stroke-width="0.7"/>
<ellipse cx="519.50" cy="412.94" rx="1.81" ry="1.59" fill="rgb(48,48,48)" stroke="rgb(69,69,69)" stroke-width="0.7"/>
<ellipse cx="530.09" cy="435.47" rx="2.21" ry="2.08" fill="rgb(38,38,38)" stroke="rgb(55,55,55)" stroke-width="0.7"/>
<ellipse cx="513.28" cy="423.92" rx="2.31" ry="1.82" fill="rgb(53,53,53)" stroke="rgb(77,77,77)" stroke-width="0.7"/>
<ellipse cx="539.90" cy="431.22" rx="2.14" ry="2.05" fill="rgb(63,63,63)" stroke="rgb(91,91,91)" stroke-width="0.7"/>
<ellipse cx="537.35" cy="436.17" rx="1.68" ry="1.29" fill="rgb(39,39,39)" stroke="rgb(57,57,57)" stroke-width="0.7"/>
<ellipse cx="514.99" cy="439.29" rx="1.72" ry="1.69" fill="rgb(46,46,46)" stroke="rgb(66,66,66)" stroke-width="0.7"/>
<ellipse cx="508.11" cy="413.73" rx="1.83" ry="1.43" fill="rgb(75,75,75)" stroke="rgb(108,108,108)" stroke-width="0.7"/>
<ellipse cx="512.99" cy="433.21" rx="2.31" ry="1.89" fill="rgb(56,56,56)" stroke="rgb(81,81,81)" stroke-width="0.7"/>
<ellipse cx="540.22" cy="444.66" rx="2.32" ry="1.81" fill="rgb(58,58,58)" stroke="rgb(84,84,84)" stroke-width="0.7"/>
<ellipse cx="497.52" cy="448.21" rx="2.24" ry="2.00" fill="rgb(42,42,42)" stroke="rgb(60,60,60)" stroke-width="0.7"/>
<ellipse cx="491.26" cy="432.63" rx="2.25" ry="1.70" fill="rgb(34,34,34)" stroke="rgb(49,49,49)" stroke-width="0.7"/>
<ellipse cx="539.91" cy="450.10" rx="1.66" ry="1.37" fill="rgb(60,60,60)" stroke="rgb(87,87,87)" stroke-width="0.7"/>
<ellipse cx="524.78" cy="425.22" rx="2.10" ry="2.00" fill="rgb(58,58,58)" stroke="rgb(83,83,83)" stroke-width="0.7"/>
<ellipse cx="492.11" cy="429.07" rx="1.51" ry="1.28" fill="rgb(37,37,37)" stroke="rgb(54,54,54)" stroke-width="0.7"/>
<ellipse cx="490.54" cy="431.38" rx="2.01" ry="1.80" fill="rgb(43,43,43)" stroke="rgb(62,62,62)" stroke-width="0.7"/>
<ellipse cx="518.95" cy="409.89" rx="1.80" ry="1.41" fill="rgb(61,61,61)" stroke="rgb(88,88,88)" stroke-width="0.7"/>
<ellipse cx="516.43" cy="429.16" rx="2.36" ry="2.14" fill="rgb(49,49,49)" stroke="rgb(71,71,71)" stroke-width="0.7"/>
<ellipse cx="526.01" cy="441.73" rx="2.12" ry="2.12" fill="rgb(53,53,53)" stroke="rgb(76,76,76)" stroke-width="0.7"/>
<ellipse cx="531.90" cy="426.44" rx="2.25" ry="2.01" fill="rgb(51,51,51)" stroke="rgb(73,73,73)" stroke-width="0.7"/>
<ellipse cx="511.93" cy="431.62" rx="2.31" ry="2.26" fill="rgb(51,51,51)" stroke="rgb(73,73,73)" stroke-width="0.7"/>
<ellipse cx="483.32" cy="440.56" rx="1.79" ry="1.67" fill="rgb(72,72,72)" stroke="rgb(103,103,103)" stroke-width="0.7"/>
<ellipse cx="525.64" cy="421.79" rx="2.04" ry="1.56" fill="rgb(58,58,58)" stroke="rgb(83,83,83)" stroke-width="0.7"/>
<ellipse cx="507.13" cy="430.62" rx="1.61" ry="1.23" fill="rgb(49,49,49)" stroke="rgb(70,70,70)" stroke-width="0.7"/>
<ellipse cx="511.94" cy="418.87" rx="2.13" ry="1.80" fill="rgb(44,44,44)" stroke="rgb(64,64,64)" stroke-width="0.7"/>
<ellipse cx="484.15" cy="448.84" rx="1.71" ry="1.57" fill="rgb(74,74,74)" stroke="rgb(107,107,107)" stroke-width="0.7"/>
<ellipse cx="505.58" cy="444.11" rx="2.28" ry="2.14" fill="rgb(41,41,41)" stroke="rgb(59,59,59)" stroke-width="0.7"/>
</g></g>
<clipPath id="dr1"><rect x="542.90" y="408.20" width="62.10" height="44.60"/></clipPath>
<g clip-path="url(#dr1)">
<rect x="542.90" y="408.20" width="62.10" height="44.60" fill="#141414" />
<g filter="url(#sb)">
<g transform="rotate(22 600.62 410.99)"><ellipse cx="600.62" cy="410.99" rx="7.98" ry="6.88" fill="rgb(107,107,107)" stroke="rgb(144,144,144)" stroke-width="0.6" opacity="0.9"/><ellipse cx="601.52" cy="409.99" rx="3.59" ry="3.44" fill="rgb(74,74,74)" stroke="rgb(144,144,144)" stroke-width="0.5"/></g>
<g transform="rotate(161 560.68 421.98)"><ellipse cx="560.68" cy="421.98" rx="6.85" ry="6.47" fill="rgb(63,63,63)" stroke="rgb(85,85,85)" stroke-width="0.6" opacity="0.9"/><ellipse cx="560.48" cy="421.70" rx="3.08" ry="3.24" fill="rgb(44,44,44)" stroke="rgb(85,85,85)" stroke-width="0.5"/></g>
<g transform="rotate(55 543.93 407.71)"><ellipse cx="543.93" cy="407.71" rx="8.05" ry="6.84" fill="rgb(113,113,113)" stroke="rgb(152,152,152)" stroke-width="0.6" opacity="0.9"/><ellipse cx="544.80" cy="408.67" rx="3.62" ry="3.42" fill="rgb(79,79,79)" stroke="rgb(152,152,152)" stroke-width="0.5"/></g>
<g transform="rotate(161 554.55 420.55)"><ellipse cx="554.55" cy="420.55" rx="7.65" ry="5.81" fill="rgb(115,115,115)" stroke="rgb(155,155,155)" stroke-width="0.6" opacity="0.9"/><ellipse cx="555.23" cy="420.26" rx="3.44" ry="2.90" fill="rgb(80,80,80)" stroke="rgb(155,155,155)" stroke-width="0.5"/></g>
<g transform="rotate(36 552.26 448.95)"><ellipse cx="552.26" cy="448.95" rx="7.65" ry="6.81" fill="rgb(119,119,119)" stroke="rgb(160,160,160)" stroke-width="0.6" opacity="0.9"/><ellipse cx="551.64" cy="449.71" rx="3.44" ry="3.40" fill="rgb(83,83,83)" stroke="rgb(160,160,160)" stroke-width="0.5"/></g>
<g transform="rotate(162 547.91 441.47)"><ellipse cx="547.91" cy="441.47" rx="6.18" ry="5.93" fill="rgb(78,78,78)" stroke="rgb(105,105,105)" stroke-width="0.6" opacity="0.9"/><ellipse cx="548.34" cy="440.74" rx="2.78" ry="2.97" fill="rgb(54,54,54)" stroke="rgb(105,105,105)" stroke-width="0.5"/></g>
<g transform="rotate(40 602.89 427.83)"><ellipse cx="602.89" cy="427.83" rx="8.44" ry="6.68" fill="rgb(64,64,64)" stroke="rgb(86,86,86)" stroke-width="0.6" opacity="0.9"/><ellipse cx="603.31" cy="427.23" rx="3.80" ry="3.34" fill="rgb(44,44,44)" stroke="rgb(86,86,86)" stroke-width="0.5"/></g>
<g transform="rotate(67 556.46 438.50)"><ellipse cx="556.46" cy="438.50" rx="6.63" ry="5.96" fill="rgb(107,107,107)" stroke="rgb(144,144,144)" stroke-width="0.6" opacity="0.9"/><ellipse cx="557.23" cy="438.68" rx="2.99" ry="2.98" fill="rgb(74,74,74)" stroke="rgb(144,144,144)" stroke-width="0.5"/></g>
<g transform="rotate(50 560.79 451.24)"><ellipse cx="560.79" cy="451.24" rx="6.80" ry="6.07" fill="rgb(100,100,100)" stroke="rgb(135,135,135)" stroke-width="0.6" opacity="0.9"/><ellipse cx="559.97" cy="452.21" rx="3.06" ry="3.03" fill="rgb(70,70,70)" stroke="rgb(135,135,135)" stroke-width="0.5"/></g>
<g transform="rotate(108 575.82 432.00)"><ellipse cx="575.82" cy="432.00" rx="7.54" ry="5.92" fill="rgb(62,62,62)" stroke="rgb(83,83,83)" stroke-width="0.6" opacity="0.9"/><ellipse cx="575.32" cy="432.60" rx="3.39" ry="2.96" fill="rgb(43,43,43)" stroke="rgb(83,83,83)" stroke-width="0.5"/></g>
<g transform="rotate(50 559.75 442.93)"><ellipse cx="559.75" cy="442.93" rx="6.31" ry="5.45" fill="rgb(74,74,74)" stroke="rgb(99,99,99)" stroke-width="0.6" opacity="0.9"/><ellipse cx="559.12" cy="443.72" rx="2.84" ry="2.73" fill="rgb(51,51,51)" stroke="rgb(99,99,99)" stroke-width="0.5"/></g>
<g transform="rotate(69 543.12 428.64)"><ellipse cx="543.12" cy="428.64" rx="9.46" ry="9.26" fill="rgb(105,105,105)" stroke="rgb(141,141,141)" stroke-width="0.6" opacity="0.9"/><ellipse cx="543.12" cy="428.00" rx="4.26" ry="4.63" fill="rgb(73,73,73)" stroke="rgb(141,141,141)" stroke-width="0.5"/></g>
<g transform="rotate(141 583.53 423.68)"><ellipse cx="583.53" cy="423.68" rx="7.95" ry="6.79" fill="rgb(99,99,99)" stroke="rgb(133,133,133)" stroke-width="0.6" opacity="0.9"/><ellipse cx="583.54" cy="424.37" rx="3.58" ry="3.40" fill="rgb(69,69,69)" stroke="rgb(133,133,133)" stroke-width="0.5"/></g>
<g transform="rotate(140 575.31 452.44)"><ellipse cx="575.31" cy="452.44" rx="8.39" ry="6.29" fill="rgb(70,70,70)" stroke="rgb(94,94,94)" stroke-width="0.6" opacity="0.9"/><ellipse cx="575.52" cy="451.92" rx="3.78" ry="3.15" fill="rgb(49,49,49)" stroke="rgb(94,94,94)" stroke-width="0.5"/></g>
<g transform="rotate(42 592.00 444.43)"><ellipse cx="592.00" cy="444.43" rx="7.54" ry="6.39" fill="rgb(107,107,107)" stroke="rgb(144,144,144)" stroke-width="0.6" opacity="0.9"/><ellipse cx="591.44" cy="444.59" rx="3.39" ry="3.19" fill="rgb(74,74,74)" stroke="rgb(144,144,144)" stroke-width="0.5"/></g>
<g transform="rotate(103 543.24 435.21)"><ellipse cx="543.24" cy="435.21" rx="7.75" ry="7.45" fill="rgb(102,102,102)" stroke="rgb(137,137,137)" stroke-width="0.6" opacity="0.9"/><ellipse cx="542.60" cy="434.51" rx="3.49" ry="3.73" fill="rgb(71,71,71)" stroke="rgb(137,137,137)" stroke-width="0.5"/></g>
<g transform="rotate(47 573.69 427.32)"><ellipse cx="573.69" cy="427.32" rx="6.06" ry="5.70" fill="rgb(86,86,86)" stroke="rgb(116,116,116)" stroke-width="0.6" opacity="0.9"/><ellipse cx="572.84" cy="428.14" rx="2.73" ry="2.85" fill="rgb(60,60,60)" stroke="rgb(116,116,116)" stroke-width="0.5"/></g>
<g transform="rotate(26 576.81 444.67)"><ellipse cx="576.81" cy="444.67" rx="7.99" ry="6.34" fill="rgb(74,74,74)" stroke="rgb(99,99,99)" stroke-width="0.6" opacity="0.9"/><ellipse cx="575.89" cy="444.30" rx="3.60" ry="3.17" fill="rgb(51,51,51)" stroke="rgb(99,99,99)" stroke-width="0.5"/></g>
<g transform="rotate(16 575.63 419.07)"><ellipse cx="575.63" cy="419.07" rx="8.17" ry="7.73" fill="rgb(95,95,95)" stroke="rgb(128,128,128)" stroke-width="0.6" opacity="0.9"/><ellipse cx="574.98" cy="418.58" rx="3.68" ry="3.87" fill="rgb(66,66,66)" stroke="rgb(128,128,128)" stroke-width="0.5"/></g>
<g transform="rotate(11 586.55 446.58)"><ellipse cx="586.55" cy="446.58" rx="6.56" ry="5.40" fill="rgb(107,107,107)" stroke="rgb(144,144,144)" stroke-width="0.6" opacity="0.9"/><ellipse cx="586.28" cy="446.02" rx="2.95" ry="2.70" fill="rgb(74,74,74)" stroke="rgb(144,144,144)" stroke-width="0.5"/></g>
<g transform="rotate(178 543.68 429.99)"><ellipse cx="543.68" cy="429.99" rx="9.40" ry="6.99" fill="rgb(105,105,105)" stroke="rgb(141,141,141)" stroke-width="0.6" opacity="0.9"/><ellipse cx="543.59" cy="430.48" rx="4.23" ry="3.49" fill="rgb(73,73,73)" stroke="rgb(141,141,141)" stroke-width="0.5"/></g>
<g transform="rotate(71 556.80 449.46)"><ellipse cx="556.80" cy="449.46" rx="6.14" ry="4.84" fill="rgb(68,68,68)" stroke="rgb(91,91,91)" stroke-width="0.6" opacity="0.9"/><ellipse cx="556.65" cy="448.61" rx="2.76" ry="2.42" fill="rgb(47,47,47)" stroke="rgb(91,91,91)" stroke-width="0.5"/></g>
<g transform="rotate(41 606.74 443.30)"><ellipse cx="606.74" cy="443.30" rx="6.12" ry="4.75" fill="rgb(104,104,104)" stroke="rgb(140,140,140)" stroke-width="0.6" opacity="0.9"/><ellipse cx="606.85" cy="442.78" rx="2.75" ry="2.37" fill="rgb(72,72,72)" stroke="rgb(140,140,140)" stroke-width="0.5"/></g>
<g transform="rotate(177 602.54 423.89)"><ellipse cx="602.54" cy="423.89" rx="7.62" ry="6.73" fill="rgb(80,80,80)" stroke="rgb(108,108,108)" stroke-width="0.6" opacity="0.9"/><ellipse cx="601.61" cy="423.70" rx="3.43" ry="3.36" fill="rgb(56,56,56)" stroke="rgb(108,108,108)" stroke-width="0.5"/></g>
<g transform="rotate(156 544.77 422.88)"><ellipse cx="544.77" cy="422.88" rx="8.27" ry="7.26" fill="rgb(101,101,101)" stroke="rgb(136,136,136)" stroke-width="0.6" opacity="0.9"/><ellipse cx="545.54" cy="422.80" rx="3.72" ry="3.63" fill="rgb(70,70,70)" stroke="rgb(136,136,136)" stroke-width="0.5"/></g>
<g transform="rotate(39 596.63 424.72)"><ellipse cx="596.63" cy="424.72" rx="7.38" ry="5.93" fill="rgb(106,106,106)" stroke="rgb(143,143,143)" stroke-width="0.6" opacity="0.9"/><ellipse cx="595.99" cy="424.82" rx="3.32" ry="2.97" fill="rgb(74,74,74)" stroke="rgb(143,143,143)" stroke-width="0.5"/></g>
<g transform="rotate(56 554.36 416.62)"><ellipse cx="554.36" cy="416.62" rx="6.57" ry="5.48" fill="rgb(88,88,88)" stroke="rgb(118,118,118)" stroke-width="0.6" opacity="0.9"/><ellipse cx="555.35" cy="416.98" rx="2.96" ry="2.74" fill="rgb(61,61,61)" stroke="rgb(118,118,118)" stroke-width="0.5"/></g>
<g transform="rotate(124 554.42 424.81)"><ellipse cx="554.42" cy="424.81" rx="9.02" ry="7.30" fill="rgb(64,64,64)" stroke="rgb(86,86,86)" stroke-width="0.6" opacity="0.9"/><ellipse cx="553.97" cy="423.85" rx="4.06" ry="3.65" fill="rgb(44,44,44)" stroke="rgb(86,86,86)" stroke-width="0.5"/></g>
<g transform="rotate(129 558.24 425.30)"><ellipse cx="558.24" cy="425.30" rx="6.64" ry="5.18" fill="rgb(115,115,115)" stroke="rgb(155,155,155)" stroke-width="0.6" opacity="0.9"/><ellipse cx="557.96" cy="424.60" rx="2.99" ry="2.59" fill="rgb(80,80,80)" stroke="rgb(155,155,155)" stroke-width="0.5"/></g>
<g transform="rotate(163 564.68 443.41)"><ellipse cx="564.68" cy="443.41" rx="9.28" ry="6.55" fill="rgb(103,103,103)" stroke="rgb(139,139,139)" stroke-width="0.6" opacity="0.9"/><ellipse cx="564.32" cy="443.18" rx="4.18" ry="3.28" fill="rgb(72,72,72)" stroke="rgb(139,139,139)" stroke-width="0.5"/></g>
<g transform="rotate(93 599.23 422.01)"><ellipse cx="599.23" cy="422.01" rx="6.29" ry="4.51" fill="rgb(106,106,106)" stroke="rgb(143,143,143)" stroke-width="0.6" opacity="0.9"/><ellipse cx="599.01" cy="421.48" rx="2.83" ry="2.25" fill="rgb(74,74,74)" stroke="rgb(143,143,143)" stroke-width="0.5"/></g>
<g transform="rotate(56 550.87 435.14)"><ellipse cx="550.87" cy="435.14" rx="6.14" ry="5.08" fill="rgb(61,61,61)" stroke="rgb(82,82,82)" stroke-width="0.6" opacity="0.9"/><ellipse cx="550.96" cy="434.41" rx="2.76" ry="2.54" fill="rgb(42,42,42)" stroke="rgb(82,82,82)" stroke-width="0.5"/></g>
<g transform="rotate(26 558.11 441.46)"><ellipse cx="558.11" cy="441.46" rx="8.47" ry="6.45" fill="rgb(99,99,99)" stroke="rgb(133,133,133)" stroke-width="0.6" opacity="0.9"/><ellipse cx="557.67" cy="441.88" rx="3.81" ry="3.23" fill="rgb(69,69,69)" stroke="rgb(133,133,133)" stroke-width="0.5"/></g>
<g transform="rotate(53 566.45 448.29)"><ellipse cx="566.45" cy="448.29" rx="7.42" ry="5.96" fill="rgb(73,73,73)" stroke="rgb(98,98,98)" stroke-width="0.6" opacity="0.9"/><ellipse cx="565.88" cy="447.37" rx="3.34" ry="2.98" fill="rgb(51,51,51)" stroke="rgb(98,98,98)" stroke-width="0.5"/></g>
<circle cx="547.28" cy="435.53" r="1.30" fill="#eee" />
<circle cx="577.65" cy="442.42" r="1.30" fill="#eee" />
<circle cx="600.63" cy="422.71" r="1.30" fill="#eee" />
</g></g>
<clipPath id="dp2"><rect x="480.00" y="454.80" width="60.70" height="44.80"/></clipPath>
<g clip-path="url(#dp2)">
<rect x="480.00" y="454.80" width="60.70" height="44.80" fill="#060606" />
<g filter="url(#sb)">
<ellipse cx="535.79" cy="464.49" rx="1.67" ry="1.53" fill="rgb(73,73,73)" stroke="rgb(105,105,105)" stroke-width="0.7"/>
<ellipse cx="532.71" cy="465.31" rx="1.96" ry="1.51" fill="rgb(70,70,70)" stroke="rgb(100,100,100)" stroke-width="0.7"/>
<ellipse cx="503.82" cy="457.49" rx="1.43" ry="1.19" fill="rgb(56,56,56)" stroke="rgb(80,80,80)" stroke-width="0.7"/>
<ellipse cx="496.98" cy="461.91" rx="1.50" ry="1.30" fill="rgb(57,57,57)" stroke="rgb(82,82,82)" stroke-width="0.7"/>
<ellipse cx="520.38" cy="465.54" rx="1.17" ry="0.97" fill="rgb(39,39,39)" stroke="rgb(57,57,57)" stroke-width="0.7"/>
<ellipse cx="489.15" cy="480.90" rx="1.42" ry="1.26" fill="rgb(74,74,74)" stroke="rgb(106,106,106)" stroke-width="0.7"/>
<ellipse cx="481.40" cy="472.33" rx="1.70" ry="1.30" fill="rgb(55,55,55)" stroke="rgb(79,79,79)" stroke-width="0.7"/>
<ellipse cx="483.32" cy="477.00" rx="1.40" ry="1.22" fill="rgb(67,67,67)" stroke="rgb(96,96,96)" stroke-width="0.7"/>
<ellipse cx="495.38" cy="455.85" rx="1.33" ry="1.29" fill="rgb(53,53,53)" stroke="rgb(77,77,77)" stroke-width="0.7"/>
<ellipse cx="495.90" cy="484.73" rx="1.57" ry="1.36" fill="rgb(44,44,44)" stroke="rgb(64,64,64)" stroke-width="0.7"/>
<ellipse cx="537.95" cy="471.05" rx="1.62" ry="1.59" fill="rgb(67,67,67)" stroke="rgb(96,96,96)" stroke-width="0.7"/>
<ellipse cx="518.08" cy="482.61" rx="1.77" ry="1.51" fill="rgb(57,57,57)" stroke="rgb(82,82,82)" stroke-width="0.7"/>
<ellipse cx="530.36" cy="494.21" rx="1.28" ry="1.25" fill="rgb(56,56,56)" stroke="rgb(80,80,80)" stroke-width="0.7"/>
<ellipse cx="488.25" cy="477.52" rx="1.04" ry="0.87" fill="rgb(51,51,51)" stroke="rgb(74,74,74)" stroke-width="0.7"/>
<ellipse cx="489.10" cy="463.42" rx="1.98" ry="1.82" fill="rgb(47,47,47)" stroke="rgb(68,68,68)" stroke-width="0.7"/>
<ellipse cx="480.06" cy="479.16" rx="1.23" ry="1.00" fill="rgb(56,56,56)" stroke="rgb(81,81,81)" stroke-width="0.7"/>
<ellipse cx="519.47" cy="479.36" rx="1.49" ry="1.33" fill="rgb(69,69,69)" stroke="rgb(99,99,99)" stroke-width="0.7"/>
<ellipse cx="538.81" cy="469.74" rx="1.83" ry="1.78" fill="rgb(53,53,53)" stroke="rgb(77,77,77)" stroke-width="0.7"/>
<ellipse cx="523.46" cy="485.95" rx="1.31" ry="1.30" fill="rgb(72,72,72)" stroke="rgb(104,104,104)" stroke-width="0.7"/>
<ellipse cx="489.68" cy="482.65" rx="1.82" ry="1.63" fill="rgb(62,62,62)" stroke="rgb(89,89,89)" stroke-width="0.7"/>
<ellipse cx="497.34" cy="488.35" rx="1.37" ry="1.11" fill="rgb(64,64,64)" stroke="rgb(92,92,92)" stroke-width="0.7"/>
<ellipse cx="499.73" cy="462.76" rx="1.25" ry="0.98" fill="rgb(63,63,63)" stroke="rgb(91,91,91)" stroke-width="0.7"/>
<ellipse cx="484.17" cy="459.38" rx="1.06" ry="0.83" fill="rgb(74,74,74)" stroke="rgb(106,106,106)" stroke-width="0.7"/>
<ellipse cx="526.87" cy="476.34" rx="1.45" ry="1.40" fill="rgb(44,44,44)" stroke="rgb(63,63,63)" stroke-width="0.7"/>
<ellipse cx="483.24" cy="466.17" rx="1.87" ry="1.77" fill="rgb(62,62,62)" stroke="rgb(90,90,90)" stroke-width="0.7"/>
<ellipse cx="523.46" cy="466.08" rx="1.39" ry="1.16" fill="rgb(74,74,74)" stroke="rgb(107,107,107)" stroke-width="0.7"/>
<ellipse cx="526.09" cy="492.55" rx="1.33" ry="1.19" fill="rgb(81,81,81)" stroke="rgb(116,116,116)" stroke-width="0.7"/>
<ellipse cx="522.91" cy="482.71" rx="1.42" ry="1.35" fill="rgb(81,81,81)" stroke="rgb(116,116,116)" stroke-width="0.7"/>
<ellipse cx="502.88" cy="484.79" rx="1.13" ry="0.90" fill="rgb(47,47,47)" stroke="rgb(68,68,68)" stroke-width="0.7"/>
<ellipse cx="515.54" cy="496.96" rx="1.01" ry="0.79" fill="rgb(88,88,88)" stroke="rgb(127,127,127)" stroke-width="0.7"/>
<ellipse cx="505.45" cy="483.09" rx="1.69" ry="1.66" fill="rgb(56,56,56)" stroke="rgb(81,81,81)" stroke-width="0.7"/>
<ellipse cx="482.96" cy="486.75" rx="1.99" ry="1.51" fill="rgb(41,41,41)" stroke="rgb(59,59,59)" stroke-width="0.7"/>
<ellipse cx="524.39" cy="499.31" rx="1.29" ry="1.07" fill="rgb(41,41,41)" stroke="rgb(59,59,59)" stroke-width="0.7"/>
<ellipse cx="512.93" cy="476.44" rx="1.03" ry="0.85" fill="rgb(55,55,55)" stroke="rgb(79,79,79)" stroke-width="0.7"/>
<ellipse cx="530.91" cy="467.51" rx="1.80" ry="1.63" fill="rgb(56,56,56)" stroke="rgb(81,81,81)" stroke-width="0.7"/>
<ellipse cx="539.55" cy="472.24" rx="1.77" ry="1.56" fill="rgb(73,73,73)" stroke="rgb(105,105,105)" stroke-width="0.7"/>
<ellipse cx="488.92" cy="462.64" rx="1.80" ry="1.77" fill="rgb(40,40,40)" stroke="rgb(58,58,58)" stroke-width="0.7"/>
<ellipse cx="509.64" cy="460.19" rx="1.25" ry="0.94" fill="rgb(52,52,52)" stroke="rgb(75,75,75)" stroke-width="0.7"/>
<ellipse cx="488.72" cy="482.81" rx="1.57" ry="1.26" fill="rgb(49,49,49)" stroke="rgb(71,71,71)" stroke-width="0.7"/>
<ellipse cx="502.21" cy="466.43" rx="1.48" ry="1.14" fill="rgb(37,37,37)" stroke="rgb(54,54,54)" stroke-width="0.7"/>
<ellipse cx="498.78" cy="458.31" rx="1.89" ry="1.65" fill="rgb(44,44,44)" stroke="rgb(64,64,64)" stroke-width="0.7"/>
<ellipse cx="492.27" cy="493.65" rx="2.00" ry="1.70" fill="rgb(61,61,61)" stroke="rgb(88,88,88)" stroke-width="0.7"/>
<ellipse cx="504.03" cy="457.38" rx="1.81" ry="1.65" fill="rgb(65,65,65)" stroke="rgb(94,94,94)" stroke-width="0.7"/>
<ellipse cx="496.82" cy="496.86" rx="1.62" ry="1.62" fill="rgb(83,83,83)" stroke="rgb(119,119,119)" stroke-width="0.7"/>
<ellipse cx="530.61" cy="487.28" rx="1.44" ry="1.09" fill="rgb(44,44,44)" stroke="rgb(64,64,64)" stroke-width="0.7"/>
<ellipse cx="487.21" cy="458.14" rx="1.17" ry="1.10" fill="rgb(54,54,54)" stroke="rgb(78,78,78)" stroke-width="0.7"/>
<ellipse cx="511.21" cy="455.27" rx="1.31" ry="1.30" fill="rgb(46,46,46)" stroke="rgb(66,66,66)" stroke-width="0.7"/>
<ellipse cx="512.00" cy="491.09" rx="1.01" ry="0.94" fill="rgb(79,79,79)" stroke="rgb(113,113,113)" stroke-width="0.7"/>
<ellipse cx="528.75" cy="491.88" rx="1.40" ry="1.39" fill="rgb(77,77,77)" stroke="rgb(111,111,111)" stroke-width="0.7"/>
<ellipse cx="537.69" cy="472.82" rx="1.10" ry="0.89" fill="rgb(74,74,74)" stroke="rgb(106,106,106)" stroke-width="0.7"/>
<ellipse cx="481.43" cy="480.64" rx="1.91" ry="1.62" fill="rgb(47,47,47)" stroke="rgb(68,68,68)" stroke-width="0.7"/>
<ellipse cx="519.88" cy="491.12" rx="1.37" ry="1.25" fill="rgb(55,55,55)" stroke="rgb(79,79,79)" stroke-width="0.7"/>
<ellipse cx="496.95" cy="495.35" rx="1.35" ry="1.05" fill="rgb(52,52,52)" stroke="rgb(75,75,75)" stroke-width="0.7"/>
<ellipse cx="525.02" cy="464.27" rx="1.33" ry="1.18" fill="rgb(76,76,76)" stroke="rgb(109,109,109)" stroke-width="0.7"/>
<ellipse cx="490.76" cy="459.54" rx="1.68" ry="1.41" fill="rgb(42,42,42)" stroke="rgb(61,61,61)" stroke-width="0.7"/>
<ellipse cx="480.57" cy="477.32" rx="1.43" ry="1.19" fill="rgb(57,57,57)" stroke="rgb(82,82,82)" stroke-width="0.7"/>
<ellipse cx="537.80" cy="463.97" rx="1.54" ry="1.28" fill="rgb(84,84,84)" stroke="rgb(120,120,120)" stroke-width="0.7"/>
<ellipse cx="486.58" cy="499.04" rx="1.75" ry="1.74" fill="rgb(58,58,58)" stroke="rgb(84,84,84)" stroke-width="0.7"/>
<ellipse cx="504.78" cy="486.43" rx="1.22" ry="1.00" fill="rgb(44,44,44)" stroke="rgb(64,64,64)" stroke-width="0.7"/>
<ellipse cx="537.52" cy="469.24" rx="1.68" ry="1.41" fill="rgb(44,44,44)" stroke="rgb(64,64,64)" stroke-width="0.7"/>
</g></g>
<clipPath id="dr2"><rect x="542.90" y="454.80" width="62.10" height="44.80"/></clipPath>
<g clip-path="url(#dr2)">
<rect x="542.90" y="454.80" width="62.10" height="44.80" fill="#101010" />
<g filter="url(#sb)">
<g transform="rotate(116 550.69 483.77)"><ellipse cx="550.69" cy="483.77" rx="6.17" ry="4.72" fill="rgb(77,77,77)" stroke="rgb(103,103,103)" stroke-width="0.6" opacity="0.9"/><ellipse cx="550.92" cy="484.55" rx="2.78" ry="2.36" fill="rgb(53,53,53)" stroke="rgb(103,103,103)" stroke-width="0.5"/></g>
<g transform="rotate(21 582.45 477.44)"><ellipse cx="582.45" cy="477.44" rx="5.86" ry="5.57" fill="rgb(89,89,89)" stroke="rgb(120,120,120)" stroke-width="0.6" opacity="0.9"/><ellipse cx="582.83" cy="477.34" rx="2.63" ry="2.78" fill="rgb(62,62,62)" stroke="rgb(120,120,120)" stroke-width="0.5"/></g>
<g transform="rotate(108 568.62 471.57)"><ellipse cx="568.62" cy="471.57" rx="5.40" ry="4.71" fill="rgb(68,68,68)" stroke="rgb(91,91,91)" stroke-width="0.6" opacity="0.9"/><ellipse cx="568.65" cy="470.64" rx="2.43" ry="2.35" fill="rgb(47,47,47)" stroke="rgb(91,91,91)" stroke-width="0.5"/></g>
<g transform="rotate(168 570.43 481.76)"><ellipse cx="570.43" cy="481.76" rx="5.31" ry="3.96" fill="rgb(90,90,90)" stroke="rgb(121,121,121)" stroke-width="0.6" opacity="0.9"/><ellipse cx="570.37" cy="482.74" rx="2.39" ry="1.98" fill="rgb(62,62,62)" stroke="rgb(121,121,121)" stroke-width="0.5"/></g>
<g transform="rotate(72 561.59 488.75)"><ellipse cx="561.59" cy="488.75" rx="5.57" ry="5.35" fill="rgb(114,114,114)" stroke="rgb(153,153,153)" stroke-width="0.6" opacity="0.9"/><ellipse cx="560.84" cy="489.73" rx="2.51" ry="2.67" fill="rgb(79,79,79)" stroke="rgb(153,153,153)" stroke-width="0.5"/></g>
<g transform="rotate(169 556.38 493.80)"><ellipse cx="556.38" cy="493.80" rx="4.98" ry="4.72" fill="rgb(93,93,93)" stroke="rgb(125,125,125)" stroke-width="0.6" opacity="0.9"/><ellipse cx="556.97" cy="493.83" rx="2.24" ry="2.36" fill="rgb(65,65,65)" stroke="rgb(125,125,125)" stroke-width="0.5"/></g>
<g transform="rotate(45 545.18 495.26)"><ellipse cx="545.18" cy="495.26" rx="6.18" ry="5.83" fill="rgb(97,97,97)" stroke="rgb(130,130,130)" stroke-width="0.6" opacity="0.9"/><ellipse cx="545.09" cy="495.33" rx="2.78" ry="2.91" fill="rgb(67,67,67)" stroke="rgb(130,130,130)" stroke-width="0.5"/></g>
<g transform="rotate(13 553.85 466.45)"><ellipse cx="553.85" cy="466.45" rx="5.88" ry="5.09" fill="rgb(93,93,93)" stroke="rgb(125,125,125)" stroke-width="0.6" opacity="0.9"/><ellipse cx="554.43" cy="466.43" rx="2.64" ry="2.55" fill="rgb(65,65,65)" stroke="rgb(125,125,125)" stroke-width="0.5"/></g>
<g transform="rotate(99 593.78 494.53)"><ellipse cx="593.78" cy="494.53" rx="4.38" ry="4.26" fill="rgb(101,101,101)" stroke="rgb(136,136,136)" stroke-width="0.6" opacity="0.9"/><ellipse cx="594.37" cy="493.83" rx="1.97" ry="2.13" fill="rgb(70,70,70)" stroke="rgb(136,136,136)" stroke-width="0.5"/></g>
<g transform="rotate(156 547.53 454.60)"><ellipse cx="547.53" cy="454.60" rx="4.68" ry="4.44" fill="rgb(75,75,75)" stroke="rgb(101,101,101)" stroke-width="0.6" opacity="0.9"/><ellipse cx="546.77" cy="453.96" rx="2.11" ry="2.22" fill="rgb(52,52,52)" stroke="rgb(101,101,101)" stroke-width="0.5"/></g>
<g transform="rotate(13 597.03 482.91)"><ellipse cx="597.03" cy="482.91" rx="4.73" ry="4.72" fill="rgb(109,109,109)" stroke="rgb(147,147,147)" stroke-width="0.6" opacity="0.9"/><ellipse cx="596.45" cy="483.17" rx="2.13" ry="2.36" fill="rgb(76,76,76)" stroke="rgb(147,147,147)" stroke-width="0.5"/></g>
<g transform="rotate(78 589.00 462.42)"><ellipse cx="589.00" cy="462.42" rx="5.90" ry="4.16" fill="rgb(95,95,95)" stroke="rgb(128,128,128)" stroke-width="0.6" opacity="0.9"/><ellipse cx="588.68" cy="462.05" rx="2.66" ry="2.08" fill="rgb(66,66,66)" stroke="rgb(128,128,128)" stroke-width="0.5"/></g>
<g transform="rotate(33 559.31 482.23)"><ellipse cx="559.31" cy="482.23" rx="5.31" ry="3.92" fill="rgb(96,96,96)" stroke="rgb(129,129,129)" stroke-width="0.6" opacity="0.9"/><ellipse cx="559.70" cy="482.16" rx="2.39" ry="1.96" fill="rgb(67,67,67)" stroke="rgb(129,129,129)" stroke-width="0.5"/></g>
<g transform="rotate(64 548.57 498.72)"><ellipse cx="548.57" cy="498.72" rx="4.11" ry="3.12" fill="rgb(91,91,91)" stroke="rgb(122,122,122)" stroke-width="0.6" opacity="0.9"/><ellipse cx="549.56" cy="499.11" rx="1.85" ry="1.56" fill="rgb(63,63,63)" stroke="rgb(122,122,122)" stroke-width="0.5"/></g>
<g transform="rotate(26 564.72 467.94)"><ellipse cx="564.72" cy="467.94" rx="5.57" ry="4.95" fill="rgb(79,79,79)" stroke="rgb(106,106,106)" stroke-width="0.6" opacity="0.9"/><ellipse cx="564.57" cy="468.58" rx="2.51" ry="2.48" fill="rgb(55,55,55)" stroke="rgb(106,106,106)" stroke-width="0.5"/></g>
<g transform="rotate(62 571.09 477.52)"><ellipse cx="571.09" cy="477.52" rx="4.78" ry="4.36" fill="rgb(111,111,111)" stroke="rgb(149,149,149)" stroke-width="0.6" opacity="0.9"/><ellipse cx="570.56" cy="477.68" rx="2.15" ry="2.18" fill="rgb(77,77,77)" stroke="rgb(149,149,149)" stroke-width="0.5"/></g>
<g transform="rotate(122 598.58 466.78)"><ellipse cx="598.58" cy="466.78" rx="4.48" ry="3.75" fill="rgb(106,106,106)" stroke="rgb(143,143,143)" stroke-width="0.6" opacity="0.9"/><ellipse cx="599.45" cy="466.56" rx="2.02" ry="1.88" fill="rgb(74,74,74)" stroke="rgb(143,143,143)" stroke-width="0.5"/></g>
<g transform="rotate(75 580.64 474.68)"><ellipse cx="580.64" cy="474.68" rx="5.58" ry="4.38" fill="rgb(58,58,58)" stroke="rgb(78,78,78)" stroke-width="0.6" opacity="0.9"/><ellipse cx="580.53" cy="475.59" rx="2.51" ry="2.19" fill="rgb(40,40,40)" stroke="rgb(78,78,78)" stroke-width="0.5"/></g>
<g transform="rotate(74 586.83 485.60)"><ellipse cx="586.83" cy="485.60" rx="4.50" ry="3.33" fill="rgb(69,69,69)" stroke="rgb(93,93,93)" stroke-width="0.6" opacity="0.9"/><ellipse cx="587.62" cy="485.10" rx="2.03" ry="1.67" fill="rgb(48,48,48)" stroke="rgb(93,93,93)" stroke-width="0.5"/></g>
<g transform="rotate(106 563.48 492.84)"><ellipse cx="563.48" cy="492.84" rx="4.81" ry="4.15" fill="rgb(106,106,106)" stroke="rgb(143,143,143)" stroke-width="0.6" opacity="0.9"/><ellipse cx="562.68" cy="493.63" rx="2.16" ry="2.08" fill="rgb(74,74,74)" stroke="rgb(143,143,143)" stroke-width="0.5"/></g>
<g transform="rotate(120 564.93 471.07)"><ellipse cx="564.93" cy="471.07" rx="4.01" ry="3.22" fill="rgb(98,98,98)" stroke="rgb(132,132,132)" stroke-width="0.6" opacity="0.9"/><ellipse cx="565.73" cy="471.97" rx="1.81" ry="1.61" fill="rgb(68,68,68)" stroke="rgb(132,132,132)" stroke-width="0.5"/></g>
<g transform="rotate(84 582.74 475.70)"><ellipse cx="582.74" cy="475.70" rx="3.86" ry="3.06" fill="rgb(76,76,76)" stroke="rgb(102,102,102)" stroke-width="0.6" opacity="0.9"/><ellipse cx="583.08" cy="475.91" rx="1.74" ry="1.53" fill="rgb(53,53,53)" stroke="rgb(102,102,102)" stroke-width="0.5"/></g>
<g transform="rotate(149 605.44 501.24)"><ellipse cx="605.44" cy="501.24" rx="6.13" ry="5.49" fill="rgb(78,78,78)" stroke="rgb(105,105,105)" stroke-width="0.6" opacity="0.9"/><ellipse cx="605.85" cy="502.23" rx="2.76" ry="2.74" fill="rgb(54,54,54)" stroke="rgb(105,105,105)" stroke-width="0.5"/></g>
<g transform="rotate(39 571.45 472.38)"><ellipse cx="571.45" cy="472.38" rx="3.96" ry="3.95" fill="rgb(94,94,94)" stroke="rgb(126,126,126)" stroke-width="0.6" opacity="0.9"/><ellipse cx="570.87" cy="472.12" rx="1.78" ry="1.97" fill="rgb(65,65,65)" stroke="rgb(126,126,126)" stroke-width="0.5"/></g>
<g transform="rotate(30 566.99 489.00)"><ellipse cx="566.99" cy="489.00" rx="4.14" ry="3.71" fill="rgb(60,60,60)" stroke="rgb(81,81,81)" stroke-width="0.6" opacity="0.9"/><ellipse cx="567.23" cy="489.48" rx="1.86" ry="1.85" fill="rgb(42,42,42)" stroke="rgb(81,81,81)" stroke-width="0.5"/></g>
<g transform="rotate(22 594.52 488.47)"><ellipse cx="594.52" cy="488.47" rx="4.41" ry="3.71" fill="rgb(101,101,101)" stroke="rgb(136,136,136)" stroke-width="0.6" opacity="0.9"/><ellipse cx="593.55" cy="489.19" rx="1.98" ry="1.85" fill="rgb(70,70,70)" stroke="rgb(136,136,136)" stroke-width="0.5"/></g>
<g transform="rotate(96 600.11 453.98)"><ellipse cx="600.11" cy="453.98" rx="6.07" ry="5.22" fill="rgb(76,76,76)" stroke="rgb(102,102,102)" stroke-width="0.6" opacity="0.9"/><ellipse cx="599.34" cy="454.56" rx="2.73" ry="2.61" fill="rgb(53,53,53)" stroke="rgb(102,102,102)" stroke-width="0.5"/></g>
<g transform="rotate(23 574.43 458.88)"><ellipse cx="574.43" cy="458.88" rx="4.52" ry="3.29" fill="rgb(89,89,89)" stroke="rgb(120,120,120)" stroke-width="0.6" opacity="0.9"/><ellipse cx="574.46" cy="458.47" rx="2.04" ry="1.64" fill="rgb(62,62,62)" stroke="rgb(120,120,120)" stroke-width="0.5"/></g>
<g transform="rotate(39 557.21 473.00)"><ellipse cx="557.21" cy="473.00" rx="5.67" ry="4.73" fill="rgb(58,58,58)" stroke="rgb(78,78,78)" stroke-width="0.6" opacity="0.9"/><ellipse cx="557.33" cy="472.92" rx="2.55" ry="2.37" fill="rgb(40,40,40)" stroke="rgb(78,78,78)" stroke-width="0.5"/></g>
<g transform="rotate(175 547.80 494.29)"><ellipse cx="547.80" cy="494.29" rx="5.84" ry="5.01" fill="rgb(64,64,64)" stroke="rgb(86,86,86)" stroke-width="0.6" opacity="0.9"/><ellipse cx="547.61" cy="494.51" rx="2.63" ry="2.50" fill="rgb(44,44,44)" stroke="rgb(86,86,86)" stroke-width="0.5"/></g>
<g transform="rotate(28 604.61 472.97)"><ellipse cx="604.61" cy="472.97" rx="5.87" ry="5.55" fill="rgb(55,55,55)" stroke="rgb(74,74,74)" stroke-width="0.6" opacity="0.9"/><ellipse cx="605.07" cy="473.40" rx="2.64" ry="2.78" fill="rgb(38,38,38)" stroke="rgb(74,74,74)" stroke-width="0.5"/></g>
<g transform="rotate(54 576.00 454.19)"><ellipse cx="576.00" cy="454.19" rx="4.18" ry="4.13" fill="rgb(61,61,61)" stroke="rgb(82,82,82)" stroke-width="0.6" opacity="0.9"/><ellipse cx="576.29" cy="454.89" rx="1.88" ry="2.07" fill="rgb(42,42,42)" stroke="rgb(82,82,82)" stroke-width="0.5"/></g>
<g transform="rotate(20 568.41 456.62)"><ellipse cx="568.41" cy="456.62" rx="3.91" ry="3.82" fill="rgb(70,70,70)" stroke="rgb(94,94,94)" stroke-width="0.6" opacity="0.9"/><ellipse cx="568.06" cy="456.60" rx="1.76" ry="1.91" fill="rgb(49,49,49)" stroke="rgb(94,94,94)" stroke-width="0.5"/></g>
<g transform="rotate(90 599.51 498.99)"><ellipse cx="599.51" cy="498.99" rx="5.37" ry="5.21" fill="rgb(89,89,89)" stroke="rgb(120,120,120)" stroke-width="0.6" opacity="0.9"/><ellipse cx="599.30" cy="498.59" rx="2.42" ry="2.61" fill="rgb(62,62,62)" stroke="rgb(120,120,120)" stroke-width="0.5"/></g>
<g transform="rotate(86 557.97 470.75)"><ellipse cx="557.97" cy="470.75" rx="5.57" ry="4.50" fill="rgb(80,80,80)" stroke="rgb(108,108,108)" stroke-width="0.6" opacity="0.9"/><ellipse cx="557.83" cy="470.65" rx="2.51" ry="2.25" fill="rgb(56,56,56)" stroke="rgb(108,108,108)" stroke-width="0.5"/></g>
<g transform="rotate(99 596.14 455.81)"><ellipse cx="596.14" cy="455.81" rx="3.92" ry="3.21" fill="rgb(86,86,86)" stroke="rgb(116,116,116)" stroke-width="0.6" opacity="0.9"/><ellipse cx="595.58" cy="455.01" rx="1.76" ry="1.61" fill="rgb(60,60,60)" stroke="rgb(116,116,116)" stroke-width="0.5"/></g>
<g transform="rotate(135 561.68 476.42)"><ellipse cx="561.68" cy="476.42" rx="4.69" ry="3.97" fill="rgb(68,68,68)" stroke="rgb(91,91,91)" stroke-width="0.6" opacity="0.9"/><ellipse cx="560.70" cy="476.23" rx="2.11" ry="1.99" fill="rgb(47,47,47)" stroke="rgb(91,91,91)" stroke-width="0.5"/></g>
<g transform="rotate(66 541.37 481.76)"><ellipse cx="541.37" cy="481.76" rx="6.12" ry="5.38" fill="rgb(112,112,112)" stroke="rgb(151,151,151)" stroke-width="0.6" opacity="0.9"/><ellipse cx="541.11" cy="481.36" rx="2.75" ry="2.69" fill="rgb(78,78,78)" stroke="rgb(151,151,151)" stroke-width="0.5"/></g>
<g transform="rotate(93 579.86 468.18)"><ellipse cx="579.86" cy="468.18" rx="5.26" ry="4.87" fill="rgb(84,84,84)" stroke="rgb(113,113,113)" stroke-width="0.6" opacity="0.9"/><ellipse cx="578.97" cy="467.36" rx="2.37" ry="2.44" fill="rgb(58,58,58)" stroke="rgb(113,113,113)" stroke-width="0.5"/></g>
<g transform="rotate(155 558.75 491.63)"><ellipse cx="558.75" cy="491.63" rx="4.40" ry="3.61" fill="rgb(80,80,80)" stroke="rgb(108,108,108)" stroke-width="0.6" opacity="0.9"/><ellipse cx="558.33" cy="491.99" rx="1.98" ry="1.81" fill="rgb(56,56,56)" stroke="rgb(108,108,108)" stroke-width="0.5"/></g>
<g transform="rotate(57 605.95 493.38)"><ellipse cx="605.95" cy="493.38" rx="4.01" ry="3.79" fill="rgb(74,74,74)" stroke="rgb(99,99,99)" stroke-width="0.6" opacity="0.9"/><ellipse cx="606.53" cy="493.66" rx="1.80" ry="1.89" fill="rgb(51,51,51)" stroke="rgb(99,99,99)" stroke-width="0.5"/></g>
<g transform="rotate(99 591.37 455.14)"><ellipse cx="591.37" cy="455.14" rx="3.94" ry="3.85" fill="rgb(92,92,92)" stroke="rgb(124,124,124)" stroke-width="0.6" opacity="0.9"/><ellipse cx="591.65" cy="454.18" rx="1.77" ry="1.93" fill="rgb(64,64,64)" stroke="rgb(124,124,124)" stroke-width="0.5"/></g>
<g transform="rotate(133 590.66 481.10)"><ellipse cx="590.66" cy="481.10" rx="6.04" ry="4.99" fill="rgb(55,55,55)" stroke="rgb(74,74,74)" stroke-width="0.6" opacity="0.9"/><ellipse cx="591.01" cy="482.06" rx="2.72" ry="2.49" fill="rgb(38,38,38)" stroke="rgb(74,74,74)" stroke-width="0.5"/></g>
<g transform="rotate(135 545.85 490.93)"><ellipse cx="545.85" cy="490.93" rx="6.00" ry="4.88" fill="rgb(81,81,81)" stroke="rgb(109,109,109)" stroke-width="0.6" opacity="0.9"/><ellipse cx="545.75" cy="490.81" rx="2.70" ry="2.44" fill="rgb(56,56,56)" stroke="rgb(109,109,109)" stroke-width="0.5"/></g>
<g transform="rotate(21 562.05 488.65)"><ellipse cx="562.05" cy="488.65" rx="4.08" ry="3.88" fill="rgb(59,59,59)" stroke="rgb(79,79,79)" stroke-width="0.6" opacity="0.9"/><ellipse cx="562.38" cy="488.75" rx="1.84" ry="1.94" fill="rgb(41,41,41)" stroke="rgb(79,79,79)" stroke-width="0.5"/></g>
<g transform="rotate(101 548.73 467.93)"><ellipse cx="548.73" cy="467.93" rx="4.07" ry="3.98" fill="rgb(112,112,112)" stroke="rgb(151,151,151)" stroke-width="0.6" opacity="0.9"/><ellipse cx="548.15" cy="467.76" rx="1.83" ry="1.99" fill="rgb(78,78,78)" stroke="rgb(151,151,151)" stroke-width="0.5"/></g>
<g transform="rotate(85 596.38 458.82)"><ellipse cx="596.38" cy="458.82" rx="5.09" ry="3.61" fill="rgb(107,107,107)" stroke="rgb(144,144,144)" stroke-width="0.6" opacity="0.9"/><ellipse cx="596.24" cy="458.58" rx="2.29" ry="1.80" fill="rgb(74,74,74)" stroke="rgb(144,144,144)" stroke-width="0.5"/></g>
<g transform="rotate(70 602.25 476.89)"><ellipse cx="602.25" cy="476.89" rx="5.42" ry="5.06" fill="rgb(96,96,96)" stroke="rgb(129,129,129)" stroke-width="0.6" opacity="0.9"/><ellipse cx="601.46" cy="477.37" rx="2.44" ry="2.53" fill="rgb(67,67,67)" stroke="rgb(129,129,129)" stroke-width="0.5"/></g>
<g transform="rotate(29 579.62 462.66)"><ellipse cx="579.62" cy="462.66" rx="4.20" ry="3.38" fill="rgb(75,75,75)" stroke="rgb(101,101,101)" stroke-width="0.6" opacity="0.9"/><ellipse cx="579.81" cy="462.70" rx="1.89" ry="1.69" fill="rgb(52,52,52)" stroke="rgb(101,101,101)" stroke-width="0.5"/></g>
<g transform="rotate(105 578.86 493.90)"><ellipse cx="578.86" cy="493.90" rx="4.73" ry="3.99" fill="rgb(76,76,76)" stroke="rgb(102,102,102)" stroke-width="0.6" opacity="0.9"/><ellipse cx="579.82" cy="493.56" rx="2.13" ry="2.00" fill="rgb(53,53,53)" stroke="rgb(102,102,102)" stroke-width="0.5"/></g>
<g transform="rotate(103 556.34 465.55)"><ellipse cx="556.34" cy="465.55" rx="5.47" ry="4.25" fill="rgb(98,98,98)" stroke="rgb(132,132,132)" stroke-width="0.6" opacity="0.9"/><ellipse cx="555.47" cy="466.20" rx="2.46" ry="2.13" fill="rgb(68,68,68)" stroke="rgb(132,132,132)" stroke-width="0.5"/></g>
<g transform="rotate(101 588.26 473.92)"><ellipse cx="588.26" cy="473.92" rx="4.71" ry="4.67" fill="rgb(92,92,92)" stroke="rgb(124,124,124)" stroke-width="0.6" opacity="0.9"/><ellipse cx="589.08" cy="473.83" rx="2.12" ry="2.34" fill="rgb(64,64,64)" stroke="rgb(124,124,124)" stroke-width="0.5"/></g>
<g transform="rotate(55 556.19 489.55)"><ellipse cx="556.19" cy="489.55" rx="4.97" ry="4.74" fill="rgb(61,61,61)" stroke="rgb(82,82,82)" stroke-width="0.6" opacity="0.9"/><ellipse cx="555.26" cy="489.95" rx="2.24" ry="2.37" fill="rgb(42,42,42)" stroke="rgb(82,82,82)" stroke-width="0.5"/></g>
<g transform="rotate(171 577.35 469.05)"><ellipse cx="577.35" cy="469.05" rx="5.16" ry="4.80" fill="rgb(64,64,64)" stroke="rgb(86,86,86)" stroke-width="0.6" opacity="0.9"/><ellipse cx="577.97" cy="468.25" rx="2.32" ry="2.40" fill="rgb(44,44,44)" stroke="rgb(86,86,86)" stroke-width="0.5"/></g>
<g transform="rotate(110 555.34 462.52)"><ellipse cx="555.34" cy="462.52" rx="5.68" ry="4.18" fill="rgb(87,87,87)" stroke="rgb(117,117,117)" stroke-width="0.6" opacity="0.9"/><ellipse cx="555.87" cy="462.69" rx="2.56" ry="2.09" fill="rgb(60,60,60)" stroke="rgb(117,117,117)" stroke-width="0.5"/></g>
<g transform="rotate(171 601.97 486.44)"><ellipse cx="601.97" cy="486.44" rx="5.96" ry="5.46" fill="rgb(76,76,76)" stroke="rgb(102,102,102)" stroke-width="0.6" opacity="0.9"/><ellipse cx="601.55" cy="487.15" rx="2.68" ry="2.73" fill="rgb(53,53,53)" stroke="rgb(102,102,102)" stroke-width="0.5"/></g>
<g transform="rotate(97 558.40 464.96)"><ellipse cx="558.40" cy="464.96" rx="5.54" ry="4.30" fill="rgb(56,56,56)" stroke="rgb(75,75,75)" stroke-width="0.6" opacity="0.9"/><ellipse cx="557.98" cy="464.47" rx="2.50" ry="2.15" fill="rgb(39,39,39)" stroke="rgb(75,75,75)" stroke-width="0.5"/></g>
<g transform="rotate(50 572.95 466.10)"><ellipse cx="572.95" cy="466.10" rx="4.12" ry="3.51" fill="rgb(72,72,72)" stroke="rgb(97,97,97)" stroke-width="0.6" opacity="0.9"/><ellipse cx="573.70" cy="465.42" rx="1.85" ry="1.75" fill="rgb(50,50,50)" stroke="rgb(97,97,97)" stroke-width="0.5"/></g>
<g transform="rotate(132 597.40 482.54)"><ellipse cx="597.40" cy="482.54" rx="5.86" ry="5.04" fill="rgb(87,87,87)" stroke="rgb(117,117,117)" stroke-width="0.6" opacity="0.9"/><ellipse cx="597.72" cy="483.38" rx="2.64" ry="2.52" fill="rgb(60,60,60)" stroke="rgb(117,117,117)" stroke-width="0.5"/></g>
<g transform="rotate(65 558.08 455.45)"><ellipse cx="558.08" cy="455.45" rx="5.66" ry="5.30" fill="rgb(111,111,111)" stroke="rgb(149,149,149)" stroke-width="0.6" opacity="0.9"/><ellipse cx="557.54" cy="455.36" rx="2.55" ry="2.65" fill="rgb(77,77,77)" stroke="rgb(149,149,149)" stroke-width="0.5"/></g>
<g transform="rotate(102 589.10 498.85)"><ellipse cx="589.10" cy="498.85" rx="4.69" ry="3.77" fill="rgb(85,85,85)" stroke="rgb(114,114,114)" stroke-width="0.6" opacity="0.9"/><ellipse cx="588.57" cy="499.75" rx="2.11" ry="1.89" fill="rgb(59,59,59)" stroke="rgb(114,114,114)" stroke-width="0.5"/></g>
<g transform="rotate(162 603.07 484.87)"><ellipse cx="603.07" cy="484.87" rx="4.06" ry="2.97" fill="rgb(59,59,59)" stroke="rgb(79,79,79)" stroke-width="0.6" opacity="0.9"/><ellipse cx="603.20" cy="484.11" rx="1.83" ry="1.48" fill="rgb(41,41,41)" stroke="rgb(79,79,79)" stroke-width="0.5"/></g>
<g transform="rotate(120 561.35 495.36)"><ellipse cx="561.35" cy="495.36" rx="6.17" ry="4.45" fill="rgb(58,58,58)" stroke="rgb(78,78,78)" stroke-width="0.6" opacity="0.9"/><ellipse cx="560.41" cy="495.50" rx="2.78" ry="2.22" fill="rgb(40,40,40)" stroke="rgb(78,78,78)" stroke-width="0.5"/></g>
<g transform="rotate(94 586.19 494.54)"><ellipse cx="586.19" cy="494.54" rx="6.16" ry="4.45" fill="rgb(102,102,102)" stroke="rgb(137,137,137)" stroke-width="0.6" opacity="0.9"/><ellipse cx="586.24" cy="493.91" rx="2.77" ry="2.23" fill="rgb(71,71,71)" stroke="rgb(137,137,137)" stroke-width="0.5"/></g>
<g transform="rotate(127 564.31 477.15)"><ellipse cx="564.31" cy="477.15" rx="5.06" ry="4.18" fill="rgb(66,66,66)" stroke="rgb(89,89,89)" stroke-width="0.6" opacity="0.9"/><ellipse cx="564.29" cy="476.31" rx="2.28" ry="2.09" fill="rgb(46,46,46)" stroke="rgb(89,89,89)" stroke-width="0.5"/></g>
<g transform="rotate(24 577.76 500.26)"><ellipse cx="577.76" cy="500.26" rx="4.97" ry="3.93" fill="rgb(88,88,88)" stroke="rgb(118,118,118)" stroke-width="0.6" opacity="0.9"/><ellipse cx="577.43" cy="500.66" rx="2.24" ry="1.96" fill="rgb(61,61,61)" stroke="rgb(118,118,118)" stroke-width="0.5"/></g>
<g transform="rotate(155 605.42 499.16)"><ellipse cx="605.42" cy="499.16" rx="6.05" ry="5.94" fill="rgb(110,110,110)" stroke="rgb(148,148,148)" stroke-width="0.6" opacity="0.9"/><ellipse cx="604.46" cy="499.14" rx="2.72" ry="2.97" fill="rgb(77,77,77)" stroke="rgb(148,148,148)" stroke-width="0.5"/></g>
<g transform="rotate(168 586.23 482.70)"><ellipse cx="586.23" cy="482.70" rx="5.22" ry="3.79" fill="rgb(91,91,91)" stroke="rgb(122,122,122)" stroke-width="0.6" opacity="0.9"/><ellipse cx="586.26" cy="483.62" rx="2.35" ry="1.89" fill="rgb(63,63,63)" stroke="rgb(122,122,122)" stroke-width="0.5"/></g>
<g transform="rotate(4 548.29 495.21)"><ellipse cx="548.29" cy="495.21" rx="3.88" ry="2.75" fill="rgb(112,112,112)" stroke="rgb(151,151,151)" stroke-width="0.6" opacity="0.9"/><ellipse cx="548.95" cy="495.59" rx="1.74" ry="1.38" fill="rgb(78,78,78)" stroke="rgb(151,151,151)" stroke-width="0.5"/></g>
<g transform="rotate(0 579.24 489.76)"><ellipse cx="579.24" cy="489.76" rx="5.05" ry="3.64" fill="rgb(103,103,103)" stroke="rgb(139,139,139)" stroke-width="0.6" opacity="0.9"/><ellipse cx="579.83" cy="490.71" rx="2.27" ry="1.82" fill="rgb(72,72,72)" stroke="rgb(139,139,139)" stroke-width="0.5"/></g>
<circle cx="592.65" cy="473.62" r="1.30" fill="#eee" />
<circle cx="564.72" cy="471.25" r="1.30" fill="#eee" />
<circle cx="546.74" cy="487.68" r="1.30" fill="#eee" />
</g></g>
<clipPath id="dp3"><rect x="480.00" y="501.70" width="60.70" height="45.20"/></clipPath><g clip-path="url(#dp3)">
<rect x="480.00" y="501.70" width="60.70" height="45.20" fill="#060606" />
<ellipse cx="509.3" cy="510.4" rx="5.72" ry="3.64" fill="rgb(30,30,30)" filter="url(#gb2)"/>
<ellipse cx="509.3" cy="510.4" rx="2.60" ry="2.21" fill="rgb(90,90,90)" filter="url(#sb)"/>
<ellipse cx="502.7" cy="516.1" rx="5.28" ry="3.36" fill="rgb(23,23,23)" filter="url(#gb2)"/>
<ellipse cx="502.7" cy="516.1" rx="2.40" ry="2.04" fill="rgb(70,70,70)" filter="url(#sb)"/>
<ellipse cx="497.9" cy="524.7" rx="5.28" ry="3.36" fill="rgb(25,25,25)" filter="url(#gb2)"/>
<ellipse cx="497.9" cy="524.7" rx="2.40" ry="2.04" fill="rgb(75,75,75)" filter="url(#sb)"/>
<ellipse cx="509.3" cy="528.1" rx="5.72" ry="3.64" fill="rgb(28,28,28)" filter="url(#gb2)"/>
<ellipse cx="509.3" cy="528.1" rx="2.60" ry="2.21" fill="rgb(85,85,85)" filter="url(#sb)"/>
<ellipse cx="529.2" cy="522.4" rx="5.72" ry="3.64" fill="rgb(23,23,23)" filter="url(#gb2)"/>
<ellipse cx="529.2" cy="522.4" rx="2.60" ry="2.21" fill="rgb(70,70,70)" filter="url(#sb)"/>
<ellipse cx="489.4" cy="519.9" rx="6.60" ry="4.20" fill="rgb(15,15,15)" filter="url(#gb2)"/>
<ellipse cx="489.4" cy="519.9" rx="3.00" ry="2.55" fill="rgb(45,45,45)" filter="url(#sb)"/>
<ellipse cx="507.4" cy="543.6" rx="5.50" ry="3.50" fill="rgb(20,20,20)" filter="url(#gb2)"/>
<ellipse cx="507.4" cy="543.6" rx="2.50" ry="2.12" fill="rgb(60,60,60)" filter="url(#sb)"/>
<ellipse cx="515" cy="520" rx="4.84" ry="3.08" fill="rgb(16,16,16)" filter="url(#gb2)"/>
<ellipse cx="515" cy="520" rx="2.20" ry="1.87" fill="rgb(50,50,50)" filter="url(#sb)"/>
<ellipse cx="494" cy="535" rx="4.84" ry="3.08" fill="rgb(13,13,13)" filter="url(#gb2)"/>
<ellipse cx="494" cy="535" rx="2.20" ry="1.87" fill="rgb(40,40,40)" filter="url(#sb)"/>
<ellipse cx="530" cy="540" rx="4.40" ry="2.80" fill="rgb(15,15,15)" filter="url(#gb2)"/>
<ellipse cx="530" cy="540" rx="2.00" ry="1.70" fill="rgb(45,45,45)" filter="url(#sb)"/>
</g>
<clipPath id="dr3"><rect x="542.90" y="501.70" width="62.10" height="45.20"/></clipPath><g clip-path="url(#dr3)">
<rect x="542.90" y="501.70" width="62.10" height="45.20" fill="#0a0a0a" />
<ellipse cx="567" cy="519" rx="16" ry="9" fill="#505050" opacity="0.8" filter="url(#gb2)" transform="rotate(-20 567 519)"/>
<ellipse cx="592" cy="523" rx="9" ry="8" fill="#404040" opacity="0.8" filter="url(#gb2)"/>
<ellipse cx="565.3" cy="517.1" rx="4" ry="3" fill="rgb(110,110,110)" stroke="rgb(154,154,154)" stroke-width="0.6" filter="url(#sb)"/>
<ellipse cx="587.1" cy="519" rx="3" ry="3" fill="rgb(120,120,120)" stroke="rgb(168,168,168)" stroke-width="0.6" filter="url(#sb)"/>
<ellipse cx="593.7" cy="522.8" rx="4.5" ry="4" fill="rgb(100,100,100)" stroke="rgb(140,140,140)" stroke-width="0.6" filter="url(#sb)"/>
<ellipse cx="571" cy="543.6" rx="4" ry="3" fill="rgb(90,90,90)" stroke="rgb(125,125,125)" stroke-width="0.6" filter="url(#sb)"/>
<ellipse cx="595.6" cy="543.6" rx="3.5" ry="3" fill="rgb(90,90,90)" stroke="rgb(125,125,125)" stroke-width="0.6" filter="url(#sb)"/>
<ellipse cx="561.5" cy="524.7" rx="4" ry="3.5" fill="rgb(95,95,95)" stroke="rgb(133,133,133)" stroke-width="0.6" filter="url(#sb)"/>
<ellipse cx="548" cy="512" rx="3" ry="3" fill="rgb(80,80,80)" stroke="rgb(112,112,112)" stroke-width="0.6" filter="url(#sb)"/>
<ellipse cx="580" cy="535" rx="4" ry="3" fill="rgb(70,70,70)" stroke="rgb(98,98,98)" stroke-width="0.6" filter="url(#sb)"/>
<circle cx="573.8" cy="511" r="2.6" fill="#f0f0f0" filter="url(#sb)"/>
<circle cx="553.9" cy="521.3" r="3.2" fill="#f0f0f0" filter="url(#sb)"/>
<circle cx="573.8" cy="528.1" r="2.4" fill="#f0f0f0" filter="url(#sb)"/>
<circle cx="547" cy="503.5" r="1.6" fill="#f0f0f0" filter="url(#sb)"/>
</g>
<rect x="522.60" y="402.30" width="16.70" height="1.00" fill="#fff" />
<text x="531.00" y="406.20" font-size="3.6" text-anchor="middle" fill="#fff" >100 μm</text>
<rect x="587.10" y="402.30" width="16.50" height="1.00" fill="#fff" />
<text x="595.40" y="406.20" font-size="3.6" text-anchor="middle" fill="#fff" >100 μm</text>
<text x="469.30" y="376.70" font-size="7.9" text-anchor="middle" fill="#000" transform="rotate(-90 469.30 376.70)" >vehicle</text>
<text x="461.90" y="431.60" font-size="7.9" text-anchor="middle" fill="#000" transform="rotate(-90 461.90 431.60)" >0.1 μM</text>
<text x="467.70" y="433.10" font-size="7.9" text-anchor="middle" fill="#000" transform="rotate(-90 467.70 433.10)" >talazop</text>
<text x="461.90" y="467.30" font-size="7.9" text-anchor="middle" fill="#000" transform="rotate(-90 461.90 467.30)" >RT3D</text>
<text x="467.90" y="470.60" font-size="7.9" text-anchor="middle" fill="#000" transform="rotate(-90 467.90 470.60)" >[MOI of 10]</text>
<text x="464.30" y="527.50" font-size="7.9" text-anchor="middle" fill="#000" transform="rotate(-90 464.30 527.50)" >RT3D +</text>
<text x="473.10" y="528.80" font-size="7.9" text-anchor="middle" fill="#000" transform="rotate(-90 473.10 528.80)" >talazop</text>
<text x="0.00" y="519.30" font-size="13.6" text-anchor="start" fill="#000" >E.</text>
<line x1="46.50" y1="512.30" x2="46.50" y2="655.00" stroke="#333" stroke-width="1.0" />
<line x1="46.10" y1="655.50" x2="159.40" y2="655.50" stroke="#333" stroke-width="1.0" />
<line x1="44.60" y1="647.50" x2="46.60" y2="647.50" stroke="#333" stroke-width="0.9" />
<text x="41.80" y="649.80" font-size="7.7" text-anchor="end" fill="#4d4d4d" >1.00</text>
<line x1="44.60" y1="620.50" x2="46.60" y2="620.50" stroke="#333" stroke-width="0.9" />
<text x="41.80" y="623.60" font-size="7.7" text-anchor="end" fill="#4d4d4d" >1.05</text>
<line x1="44.60" y1="594.50" x2="46.60" y2="594.50" stroke="#333" stroke-width="0.9" />
<text x="41.80" y="597.39" font-size="7.7" text-anchor="end" fill="#4d4d4d" >1.10</text>
<line x1="44.60" y1="568.50" x2="46.60" y2="568.50" stroke="#333" stroke-width="0.9" />
<text x="41.80" y="571.20" font-size="7.7" text-anchor="end" fill="#4d4d4d" >1.15</text>
<line x1="44.60" y1="542.50" x2="46.60" y2="542.50" stroke="#333" stroke-width="0.9" />
<text x="41.80" y="545.00" font-size="7.7" text-anchor="end" fill="#4d4d4d" >1.20</text>
<line x1="44.60" y1="516.50" x2="46.60" y2="516.50" stroke="#333" stroke-width="0.9" />
<text x="41.80" y="518.80" font-size="7.7" text-anchor="end" fill="#4d4d4d" >1.25</text>
<line x1="77.50" y1="654.90" x2="77.50" y2="656.90" stroke="#333" stroke-width="0.9" />
<text x="77.23" y="665.50" font-size="7.7" text-anchor="middle" fill="#4d4d4d" >12</text>
<line x1="102.50" y1="654.90" x2="102.50" y2="656.90" stroke="#333" stroke-width="0.9" />
<text x="102.86" y="665.50" font-size="7.7" text-anchor="middle" fill="#4d4d4d" >24</text>
<line x1="128.50" y1="654.90" x2="128.50" y2="656.90" stroke="#333" stroke-width="0.9" />
<text x="128.50" y="665.50" font-size="7.7" text-anchor="middle" fill="#4d4d4d" >36</text>
<line x1="154.50" y1="654.90" x2="154.50" y2="656.90" stroke="#333" stroke-width="0.9" />
<text x="154.13" y="665.50" font-size="7.7" text-anchor="middle" fill="#4d4d4d" >48</text>
<text x="22.90" y="584.10" font-size="10.1" text-anchor="middle" fill="#000" transform="rotate(-90 22.90 584.10)" >Nuc RELA</text>
<text x="103.40" y="676.89" font-size="9.96" text-anchor="middle" fill="#000" >hrs (post infection)</text>
<circle cx="51.60" cy="647.06" r="1.45" fill="#9a5cf0" />
<circle cx="52.33" cy="647.04" r="1.45" fill="#9a5cf0" />
<circle cx="53.05" cy="645.89" r="1.45" fill="#9a5cf0" />
<circle cx="53.78" cy="647.76" r="1.45" fill="#9a5cf0" />
<circle cx="54.50" cy="646.40" r="1.45" fill="#9a5cf0" />
<circle cx="55.23" cy="647.73" r="1.45" fill="#9a5cf0" />
<circle cx="55.96" cy="645.62" r="1.45" fill="#9a5cf0" />
<circle cx="56.68" cy="646.19" r="1.45" fill="#9a5cf0" />
<circle cx="57.41" cy="645.46" r="1.45" fill="#9a5cf0" />
<circle cx="58.14" cy="646.63" r="1.45" fill="#9a5cf0" />
<circle cx="58.86" cy="646.06" r="1.45" fill="#9a5cf0" />
<circle cx="59.59" cy="646.49" r="1.45" fill="#9a5cf0" />
<circle cx="60.31" cy="646.78" r="1.45" fill="#9a5cf0" />
<circle cx="61.04" cy="646.22" r="1.45" fill="#9a5cf0" />
<circle cx="61.77" cy="647.10" r="1.45" fill="#9a5cf0" />
<circle cx="62.49" cy="646.54" r="1.45" fill="#9a5cf0" />
<circle cx="63.22" cy="645.88" r="1.45" fill="#9a5cf0" />
<circle cx="63.95" cy="646.28" r="1.45" fill="#9a5cf0" />
<circle cx="64.67" cy="646.57" r="1.45" fill="#9a5cf0" />
<circle cx="65.40" cy="644.94" r="1.45" fill="#9a5cf0" />
<circle cx="66.12" cy="646.28" r="1.45" fill="#9a5cf0" />
<circle cx="66.85" cy="646.68" r="1.45" fill="#9a5cf0" />
<circle cx="67.58" cy="646.21" r="1.45" fill="#9a5cf0" />
<circle cx="68.30" cy="646.64" r="1.45" fill="#9a5cf0" />
<circle cx="69.03" cy="646.56" r="1.45" fill="#9a5cf0" />
<circle cx="69.76" cy="646.53" r="1.45" fill="#9a5cf0" />
<circle cx="70.48" cy="645.04" r="1.45" fill="#9a5cf0" />
<circle cx="71.21" cy="646.30" r="1.45" fill="#9a5cf0" />
<circle cx="71.93" cy="646.20" r="1.45" fill="#9a5cf0" />
<circle cx="72.66" cy="645.89" r="1.45" fill="#9a5cf0" />
<circle cx="73.39" cy="645.05" r="1.45" fill="#9a5cf0" />
<circle cx="74.11" cy="646.45" r="1.45" fill="#9a5cf0" />
<circle cx="74.84" cy="646.71" r="1.45" fill="#9a5cf0" />
<circle cx="75.57" cy="644.76" r="1.45" fill="#9a5cf0" />
<circle cx="76.29" cy="647.23" r="1.45" fill="#9a5cf0" />
<circle cx="77.02" cy="646.54" r="1.45" fill="#9a5cf0" />
<circle cx="77.74" cy="645.89" r="1.45" fill="#9a5cf0" />
<circle cx="78.47" cy="644.88" r="1.45" fill="#9a5cf0" />
<circle cx="79.20" cy="646.91" r="1.45" fill="#9a5cf0" />
<circle cx="79.92" cy="647.84" r="1.45" fill="#9a5cf0" />
<circle cx="80.65" cy="645.90" r="1.45" fill="#9a5cf0" />
<circle cx="81.38" cy="646.64" r="1.45" fill="#9a5cf0" />
<circle cx="82.10" cy="646.56" r="1.45" fill="#9a5cf0" />
<circle cx="82.83" cy="646.02" r="1.45" fill="#9a5cf0" />
<circle cx="83.55" cy="646.17" r="1.45" fill="#9a5cf0" />
<circle cx="84.28" cy="646.13" r="1.45" fill="#9a5cf0" />
<circle cx="85.01" cy="646.59" r="1.45" fill="#9a5cf0" />
<circle cx="85.73" cy="645.50" r="1.45" fill="#9a5cf0" />
<circle cx="86.46" cy="645.37" r="1.45" fill="#9a5cf0" />
<circle cx="87.19" cy="646.29" r="1.45" fill="#9a5cf0" />
<circle cx="87.91" cy="646.60" r="1.45" fill="#9a5cf0" />
<circle cx="88.64" cy="645.85" r="1.45" fill="#9a5cf0" />
<circle cx="89.36" cy="646.01" r="1.45" fill="#9a5cf0" />
<circle cx="90.09" cy="646.97" r="1.45" fill="#9a5cf0" />
<circle cx="90.82" cy="646.60" r="1.45" fill="#9a5cf0" />
<circle cx="91.54" cy="645.65" r="1.45" fill="#9a5cf0" />
<circle cx="92.27" cy="646.37" r="1.45" fill="#9a5cf0" />
<circle cx="93.00" cy="646.52" r="1.45" fill="#9a5cf0" />
<circle cx="93.72" cy="646.18" r="1.45" fill="#9a5cf0" />
<circle cx="94.45" cy="646.34" r="1.45" fill="#9a5cf0" />
<circle cx="95.17" cy="646.32" r="1.45" fill="#9a5cf0" />
<circle cx="95.90" cy="647.53" r="1.45" fill="#9a5cf0" />
<circle cx="96.63" cy="645.21" r="1.45" fill="#9a5cf0" />
<circle cx="97.35" cy="646.19" r="1.45" fill="#9a5cf0" />
<circle cx="98.08" cy="646.87" r="1.45" fill="#9a5cf0" />
<circle cx="98.81" cy="645.70" r="1.45" fill="#9a5cf0" />
<circle cx="99.53" cy="646.12" r="1.45" fill="#9a5cf0" />
<circle cx="100.26" cy="646.30" r="1.45" fill="#9a5cf0" />
<circle cx="100.98" cy="645.66" r="1.45" fill="#9a5cf0" />
<circle cx="101.71" cy="644.89" r="1.45" fill="#9a5cf0" />
<circle cx="102.44" cy="645.97" r="1.45" fill="#9a5cf0" />
<circle cx="103.16" cy="645.32" r="1.45" fill="#9a5cf0" />
<circle cx="103.89" cy="644.96" r="1.45" fill="#9a5cf0" />
<circle cx="104.62" cy="646.96" r="1.45" fill="#9a5cf0" />
<circle cx="105.34" cy="646.64" r="1.45" fill="#9a5cf0" />
<circle cx="106.07" cy="645.83" r="1.45" fill="#9a5cf0" />
<circle cx="106.79" cy="647.39" r="1.45" fill="#9a5cf0" />
<circle cx="107.52" cy="646.48" r="1.45" fill="#9a5cf0" />
<circle cx="108.25" cy="645.50" r="1.45" fill="#9a5cf0" />
<circle cx="108.97" cy="645.66" r="1.45" fill="#9a5cf0" />
<circle cx="109.70" cy="645.95" r="1.45" fill="#9a5cf0" />
<circle cx="110.43" cy="647.51" r="1.45" fill="#9a5cf0" />
<circle cx="111.15" cy="644.84" r="1.45" fill="#9a5cf0" />
<circle cx="111.88" cy="645.97" r="1.45" fill="#9a5cf0" />
<circle cx="112.60" cy="645.83" r="1.45" fill="#9a5cf0" />
<circle cx="113.33" cy="646.00" r="1.45" fill="#9a5cf0" />
<circle cx="114.06" cy="647.39" r="1.45" fill="#9a5cf0" />
<circle cx="114.78" cy="647.22" r="1.45" fill="#9a5cf0" />
<circle cx="115.51" cy="647.08" r="1.45" fill="#9a5cf0" />
<circle cx="116.24" cy="645.11" r="1.45" fill="#9a5cf0" />
<circle cx="116.96" cy="646.84" r="1.45" fill="#9a5cf0" />
<circle cx="117.69" cy="646.47" r="1.45" fill="#9a5cf0" />
<circle cx="118.41" cy="646.47" r="1.45" fill="#9a5cf0" />
<circle cx="119.14" cy="645.96" r="1.45" fill="#9a5cf0" />
<circle cx="119.87" cy="646.00" r="1.45" fill="#9a5cf0" />
<circle cx="120.59" cy="646.15" r="1.45" fill="#9a5cf0" />
<circle cx="121.32" cy="647.11" r="1.45" fill="#9a5cf0" />
<circle cx="122.05" cy="648.29" r="1.45" fill="#9a5cf0" />
<circle cx="122.77" cy="646.21" r="1.45" fill="#9a5cf0" />
<circle cx="123.50" cy="646.15" r="1.45" fill="#9a5cf0" />
<circle cx="124.22" cy="645.54" r="1.45" fill="#9a5cf0" />
<circle cx="124.95" cy="646.38" r="1.45" fill="#9a5cf0" />
<circle cx="125.68" cy="646.70" r="1.45" fill="#9a5cf0" />
<circle cx="126.40" cy="646.06" r="1.45" fill="#9a5cf0" />
<circle cx="127.13" cy="647.29" r="1.45" fill="#9a5cf0" />
<circle cx="127.86" cy="646.97" r="1.45" fill="#9a5cf0" />
<circle cx="128.58" cy="646.95" r="1.45" fill="#9a5cf0" />
<circle cx="129.31" cy="646.13" r="1.45" fill="#9a5cf0" />
<circle cx="130.03" cy="645.00" r="1.45" fill="#9a5cf0" />
<circle cx="130.76" cy="645.83" r="1.45" fill="#9a5cf0" />
<circle cx="131.49" cy="645.60" r="1.45" fill="#9a5cf0" />
<circle cx="132.21" cy="646.16" r="1.45" fill="#9a5cf0" />
<circle cx="132.94" cy="646.14" r="1.45" fill="#9a5cf0" />
<circle cx="133.67" cy="646.60" r="1.45" fill="#9a5cf0" />
<circle cx="134.39" cy="646.49" r="1.45" fill="#9a5cf0" />
<circle cx="135.12" cy="647.84" r="1.45" fill="#9a5cf0" />
<circle cx="135.84" cy="647.07" r="1.45" fill="#9a5cf0" />
<circle cx="136.57" cy="647.12" r="1.45" fill="#9a5cf0" />
<circle cx="137.30" cy="645.79" r="1.45" fill="#9a5cf0" />
<circle cx="138.02" cy="645.90" r="1.45" fill="#9a5cf0" />
<circle cx="138.75" cy="645.60" r="1.45" fill="#9a5cf0" />
<circle cx="139.48" cy="645.34" r="1.45" fill="#9a5cf0" />
<circle cx="140.20" cy="646.51" r="1.45" fill="#9a5cf0" />
<circle cx="140.93" cy="645.65" r="1.45" fill="#9a5cf0" />
<circle cx="141.65" cy="645.08" r="1.45" fill="#9a5cf0" />
<circle cx="142.38" cy="646.32" r="1.45" fill="#9a5cf0" />
<circle cx="143.11" cy="645.63" r="1.45" fill="#9a5cf0" />
<circle cx="143.83" cy="646.42" r="1.45" fill="#9a5cf0" />
<circle cx="144.56" cy="647.33" r="1.45" fill="#9a5cf0" />
<circle cx="145.28" cy="646.24" r="1.45" fill="#9a5cf0" />
<circle cx="146.01" cy="646.83" r="1.45" fill="#9a5cf0" />
<circle cx="146.74" cy="646.25" r="1.45" fill="#9a5cf0" />
<circle cx="147.46" cy="646.61" r="1.45" fill="#9a5cf0" />
<circle cx="148.19" cy="646.11" r="1.45" fill="#9a5cf0" />
<circle cx="148.92" cy="647.66" r="1.45" fill="#9a5cf0" />
<circle cx="149.64" cy="645.00" r="1.45" fill="#9a5cf0" />
<circle cx="150.37" cy="645.46" r="1.45" fill="#9a5cf0" />
<circle cx="151.09" cy="646.53" r="1.45" fill="#9a5cf0" />
<circle cx="151.82" cy="646.89" r="1.45" fill="#9a5cf0" />
<circle cx="152.55" cy="646.31" r="1.45" fill="#9a5cf0" />
<circle cx="153.27" cy="645.89" r="1.45" fill="#9a5cf0" />
<circle cx="154.00" cy="646.05" r="1.45" fill="#9a5cf0" />
<circle cx="154.73" cy="646.06" r="1.45" fill="#9a5cf0" />
<circle cx="51.60" cy="636.56" r="1.45" fill="#fdf37a" />
<circle cx="52.33" cy="635.51" r="1.45" fill="#fdf37a" />
<circle cx="53.05" cy="631.04" r="1.45" fill="#fdf37a" />
<circle cx="53.78" cy="634.06" r="1.45" fill="#fdf37a" />
<circle cx="54.50" cy="638.47" r="1.45" fill="#fdf37a" />
<circle cx="55.23" cy="637.81" r="1.45" fill="#fdf37a" />
<circle cx="55.96" cy="639.71" r="1.45" fill="#fdf37a" />
<circle cx="56.68" cy="639.26" r="1.45" fill="#fdf37a" />
<circle cx="57.41" cy="635.09" r="1.45" fill="#fdf37a" />
<circle cx="58.14" cy="638.47" r="1.45" fill="#fdf37a" />
<circle cx="58.86" cy="636.08" r="1.45" fill="#fdf37a" />
<circle cx="59.59" cy="638.50" r="1.45" fill="#fdf37a" />
<circle cx="60.31" cy="642.47" r="1.45" fill="#fdf37a" />
<circle cx="61.04" cy="640.84" r="1.45" fill="#fdf37a" />
<circle cx="61.77" cy="634.77" r="1.45" fill="#fdf37a" />
<circle cx="62.49" cy="641.44" r="1.45" fill="#fdf37a" />
<circle cx="63.22" cy="642.23" r="1.45" fill="#fdf37a" />
<circle cx="63.95" cy="637.54" r="1.45" fill="#fdf37a" />
<circle cx="64.67" cy="640.00" r="1.45" fill="#fdf37a" />
<circle cx="65.40" cy="639.94" r="1.45" fill="#fdf37a" />
<circle cx="66.12" cy="636.53" r="1.45" fill="#fdf37a" />
<circle cx="66.85" cy="643.15" r="1.45" fill="#fdf37a" />
<circle cx="67.58" cy="638.23" r="1.45" fill="#fdf37a" />
<circle cx="68.30" cy="641.11" r="1.45" fill="#fdf37a" />
<circle cx="69.03" cy="641.88" r="1.45" fill="#fdf37a" />
<circle cx="69.76" cy="640.98" r="1.45" fill="#fdf37a" />
<circle cx="70.48" cy="637.14" r="1.45" fill="#fdf37a" />
<circle cx="71.21" cy="640.25" r="1.45" fill="#fdf37a" />
<circle cx="71.93" cy="644.23" r="1.45" fill="#fdf37a" />
<circle cx="72.66" cy="643.04" r="1.45" fill="#fdf37a" />
<circle cx="73.39" cy="637.91" r="1.45" fill="#fdf37a" />
<circle cx="74.11" cy="639.60" r="1.45" fill="#fdf37a" />
<circle cx="74.84" cy="644.74" r="1.45" fill="#fdf37a" />
<circle cx="75.57" cy="637.83" r="1.45" fill="#fdf37a" />
<circle cx="76.29" cy="644.42" r="1.45" fill="#fdf37a" />
<circle cx="77.02" cy="646.80" r="1.45" fill="#fdf37a" />
<circle cx="77.74" cy="645.15" r="1.45" fill="#fdf37a" />
<circle cx="78.47" cy="643.47" r="1.45" fill="#fdf37a" />
<circle cx="79.20" cy="642.55" r="1.45" fill="#fdf37a" />
<circle cx="79.92" cy="642.82" r="1.45" fill="#fdf37a" />
<circle cx="80.65" cy="644.97" r="1.45" fill="#fdf37a" />
<circle cx="81.38" cy="644.28" r="1.45" fill="#fdf37a" />
<circle cx="82.10" cy="645.73" r="1.45" fill="#fdf37a" />
<circle cx="82.83" cy="642.42" r="1.45" fill="#fdf37a" />
<circle cx="83.55" cy="643.18" r="1.45" fill="#fdf37a" />
<circle cx="84.28" cy="641.02" r="1.45" fill="#fdf37a" />
<circle cx="85.01" cy="643.90" r="1.45" fill="#fdf37a" />
<circle cx="85.73" cy="641.94" r="1.45" fill="#fdf37a" />
<circle cx="86.46" cy="642.03" r="1.45" fill="#fdf37a" />
<circle cx="87.19" cy="642.01" r="1.45" fill="#fdf37a" />
<circle cx="87.91" cy="641.25" r="1.45" fill="#fdf37a" />
<circle cx="88.64" cy="640.19" r="1.45" fill="#fdf37a" />
<circle cx="89.36" cy="639.83" r="1.45" fill="#fdf37a" />
<circle cx="90.09" cy="635.36" r="1.45" fill="#fdf37a" />
<circle cx="90.82" cy="635.75" r="1.45" fill="#fdf37a" />
<circle cx="91.54" cy="638.17" r="1.45" fill="#fdf37a" />
<circle cx="92.27" cy="633.61" r="1.45" fill="#fdf37a" />
<circle cx="93.00" cy="633.47" r="1.45" fill="#fdf37a" />
<circle cx="93.72" cy="630.34" r="1.45" fill="#fdf37a" />
<circle cx="94.45" cy="633.24" r="1.45" fill="#fdf37a" />
<circle cx="95.17" cy="632.56" r="1.45" fill="#fdf37a" />
<circle cx="95.90" cy="632.88" r="1.45" fill="#fdf37a" />
<circle cx="96.63" cy="630.42" r="1.45" fill="#fdf37a" />
<circle cx="97.35" cy="628.92" r="1.45" fill="#fdf37a" />
<circle cx="98.08" cy="628.89" r="1.45" fill="#fdf37a" />
<circle cx="98.81" cy="629.23" r="1.45" fill="#fdf37a" />
<circle cx="99.53" cy="627.20" r="1.45" fill="#fdf37a" />
<circle cx="100.26" cy="627.95" r="1.45" fill="#fdf37a" />
<circle cx="100.98" cy="627.35" r="1.45" fill="#fdf37a" />
<circle cx="101.71" cy="629.61" r="1.45" fill="#fdf37a" />
<circle cx="102.44" cy="626.90" r="1.45" fill="#fdf37a" />
<circle cx="103.16" cy="629.36" r="1.45" fill="#fdf37a" />
<circle cx="103.89" cy="629.12" r="1.45" fill="#fdf37a" />
<circle cx="104.62" cy="627.06" r="1.45" fill="#fdf37a" />
<circle cx="105.34" cy="622.98" r="1.45" fill="#fdf37a" />
<circle cx="106.07" cy="625.44" r="1.45" fill="#fdf37a" />
<circle cx="106.79" cy="627.66" r="1.45" fill="#fdf37a" />
<circle cx="107.52" cy="628.14" r="1.45" fill="#fdf37a" />
<circle cx="108.25" cy="625.73" r="1.45" fill="#fdf37a" />
<circle cx="108.97" cy="624.97" r="1.45" fill="#fdf37a" />
<circle cx="109.70" cy="625.41" r="1.45" fill="#fdf37a" />
<circle cx="110.43" cy="628.51" r="1.45" fill="#fdf37a" />
<circle cx="111.15" cy="627.80" r="1.45" fill="#fdf37a" />
<circle cx="111.88" cy="628.83" r="1.45" fill="#fdf37a" />
<circle cx="112.60" cy="628.55" r="1.45" fill="#fdf37a" />
<circle cx="113.33" cy="629.60" r="1.45" fill="#fdf37a" />
<circle cx="114.06" cy="628.12" r="1.45" fill="#fdf37a" />
<circle cx="114.78" cy="632.02" r="1.45" fill="#fdf37a" />
<circle cx="115.51" cy="629.80" r="1.45" fill="#fdf37a" />
<circle cx="116.24" cy="626.14" r="1.45" fill="#fdf37a" />
<circle cx="116.96" cy="628.86" r="1.45" fill="#fdf37a" />
<circle cx="117.69" cy="625.54" r="1.45" fill="#fdf37a" />
<circle cx="118.41" cy="629.29" r="1.45" fill="#fdf37a" />
<circle cx="119.14" cy="627.13" r="1.45" fill="#fdf37a" />
<circle cx="119.87" cy="625.31" r="1.45" fill="#fdf37a" />
<circle cx="120.59" cy="628.32" r="1.45" fill="#fdf37a" />
<circle cx="121.32" cy="627.59" r="1.45" fill="#fdf37a" />
<circle cx="122.05" cy="620.71" r="1.45" fill="#fdf37a" />
<circle cx="122.77" cy="627.43" r="1.45" fill="#fdf37a" />
<circle cx="123.50" cy="627.44" r="1.45" fill="#fdf37a" />
<circle cx="124.22" cy="627.11" r="1.45" fill="#fdf37a" />
<circle cx="124.95" cy="625.76" r="1.45" fill="#fdf37a" />
<circle cx="125.68" cy="625.85" r="1.45" fill="#fdf37a" />
<circle cx="126.40" cy="623.64" r="1.45" fill="#fdf37a" />
<circle cx="127.13" cy="624.00" r="1.45" fill="#fdf37a" />
<circle cx="127.86" cy="626.52" r="1.45" fill="#fdf37a" />
<circle cx="128.58" cy="626.39" r="1.45" fill="#fdf37a" />
<circle cx="129.31" cy="628.70" r="1.45" fill="#fdf37a" />
<circle cx="130.03" cy="628.92" r="1.45" fill="#fdf37a" />
<circle cx="130.76" cy="627.34" r="1.45" fill="#fdf37a" />
<circle cx="131.49" cy="624.23" r="1.45" fill="#fdf37a" />
<circle cx="132.21" cy="625.59" r="1.45" fill="#fdf37a" />
<circle cx="132.94" cy="624.17" r="1.45" fill="#fdf37a" />
<circle cx="133.67" cy="623.91" r="1.45" fill="#fdf37a" />
<circle cx="134.39" cy="626.33" r="1.45" fill="#fdf37a" />
<circle cx="135.12" cy="621.52" r="1.45" fill="#fdf37a" />
<circle cx="135.84" cy="627.19" r="1.45" fill="#fdf37a" />
<circle cx="136.57" cy="627.45" r="1.45" fill="#fdf37a" />
<circle cx="137.30" cy="627.14" r="1.45" fill="#fdf37a" />
<circle cx="138.02" cy="624.00" r="1.45" fill="#fdf37a" />
<circle cx="138.75" cy="626.96" r="1.45" fill="#fdf37a" />
<circle cx="139.48" cy="628.47" r="1.45" fill="#fdf37a" />
<circle cx="140.20" cy="626.18" r="1.45" fill="#fdf37a" />
<circle cx="140.93" cy="624.91" r="1.45" fill="#fdf37a" />
<circle cx="141.65" cy="627.80" r="1.45" fill="#fdf37a" />
<circle cx="142.38" cy="628.32" r="1.45" fill="#fdf37a" />
<circle cx="143.11" cy="625.68" r="1.45" fill="#fdf37a" />
<circle cx="143.83" cy="626.12" r="1.45" fill="#fdf37a" />
<circle cx="144.56" cy="626.42" r="1.45" fill="#fdf37a" />
<circle cx="145.28" cy="630.31" r="1.45" fill="#fdf37a" />
<circle cx="146.01" cy="628.36" r="1.45" fill="#fdf37a" />
<circle cx="146.74" cy="628.55" r="1.45" fill="#fdf37a" />
<circle cx="147.46" cy="633.53" r="1.45" fill="#fdf37a" />
<circle cx="148.19" cy="627.46" r="1.45" fill="#fdf37a" />
<circle cx="148.92" cy="630.18" r="1.45" fill="#fdf37a" />
<circle cx="149.64" cy="631.48" r="1.45" fill="#fdf37a" />
<circle cx="150.37" cy="626.26" r="1.45" fill="#fdf37a" />
<circle cx="151.09" cy="631.15" r="1.45" fill="#fdf37a" />
<circle cx="151.82" cy="633.36" r="1.45" fill="#fdf37a" />
<circle cx="152.55" cy="632.31" r="1.45" fill="#fdf37a" />
<circle cx="153.27" cy="631.32" r="1.45" fill="#fdf37a" />
<circle cx="154.00" cy="631.15" r="1.45" fill="#fdf37a" />
<circle cx="154.73" cy="633.37" r="1.45" fill="#fdf37a" />
<circle cx="51.60" cy="627.99" r="1.45" fill="#2b52e8" />
<circle cx="52.33" cy="629.41" r="1.45" fill="#2b52e8" />
<circle cx="53.05" cy="631.45" r="1.45" fill="#2b52e8" />
<circle cx="53.78" cy="633.74" r="1.45" fill="#2b52e8" />
<circle cx="54.50" cy="633.31" r="1.45" fill="#2b52e8" />
<circle cx="55.23" cy="636.10" r="1.45" fill="#2b52e8" />
<circle cx="55.96" cy="636.50" r="1.45" fill="#2b52e8" />
<circle cx="56.68" cy="638.34" r="1.45" fill="#2b52e8" />
<circle cx="57.41" cy="638.37" r="1.45" fill="#2b52e8" />
<circle cx="58.14" cy="636.87" r="1.45" fill="#2b52e8" />
<circle cx="58.86" cy="637.17" r="1.45" fill="#2b52e8" />
<circle cx="59.59" cy="633.91" r="1.45" fill="#2b52e8" />
<circle cx="60.31" cy="638.26" r="1.45" fill="#2b52e8" />
<circle cx="61.04" cy="635.84" r="1.45" fill="#2b52e8" />
<circle cx="61.77" cy="636.32" r="1.45" fill="#2b52e8" />
<circle cx="62.49" cy="638.98" r="1.45" fill="#2b52e8" />
<circle cx="63.22" cy="634.58" r="1.45" fill="#2b52e8" />
<circle cx="63.95" cy="635.54" r="1.45" fill="#2b52e8" />
<circle cx="64.67" cy="639.56" r="1.45" fill="#2b52e8" />
<circle cx="65.40" cy="632.95" r="1.45" fill="#2b52e8" />
<circle cx="66.12" cy="631.40" r="1.45" fill="#2b52e8" />
<circle cx="66.85" cy="634.28" r="1.45" fill="#2b52e8" />
<circle cx="67.58" cy="628.12" r="1.45" fill="#2b52e8" />
<circle cx="68.30" cy="630.58" r="1.45" fill="#2b52e8" />
<circle cx="69.03" cy="632.55" r="1.45" fill="#2b52e8" />
<circle cx="69.76" cy="628.05" r="1.45" fill="#2b52e8" />
<circle cx="70.48" cy="629.53" r="1.45" fill="#2b52e8" />
<circle cx="71.21" cy="631.62" r="1.45" fill="#2b52e8" />
<circle cx="71.93" cy="633.35" r="1.45" fill="#2b52e8" />
<circle cx="72.66" cy="628.24" r="1.45" fill="#2b52e8" />
<circle cx="73.39" cy="631.08" r="1.45" fill="#2b52e8" />
<circle cx="74.11" cy="628.98" r="1.45" fill="#2b52e8" />
<circle cx="74.84" cy="630.38" r="1.45" fill="#2b52e8" />
<circle cx="75.57" cy="633.17" r="1.45" fill="#2b52e8" />
<circle cx="76.29" cy="634.04" r="1.45" fill="#2b52e8" />
<circle cx="77.02" cy="629.97" r="1.45" fill="#2b52e8" />
<circle cx="77.74" cy="631.61" r="1.45" fill="#2b52e8" />
<circle cx="78.47" cy="635.43" r="1.45" fill="#2b52e8" />
<circle cx="79.20" cy="639.58" r="1.45" fill="#2b52e8" />
<circle cx="79.92" cy="642.02" r="1.45" fill="#2b52e8" />
<circle cx="80.65" cy="641.64" r="1.45" fill="#2b52e8" />
<circle cx="81.38" cy="638.15" r="1.45" fill="#2b52e8" />
<circle cx="82.10" cy="641.61" r="1.45" fill="#2b52e8" />
<circle cx="82.83" cy="644.10" r="1.45" fill="#2b52e8" />
<circle cx="83.55" cy="647.00" r="1.45" fill="#2b52e8" />
<circle cx="84.28" cy="644.65" r="1.45" fill="#2b52e8" />
<circle cx="85.01" cy="647.48" r="1.45" fill="#2b52e8" />
<circle cx="85.73" cy="646.16" r="1.45" fill="#2b52e8" />
<circle cx="86.46" cy="645.20" r="1.45" fill="#2b52e8" />
<circle cx="87.19" cy="644.65" r="1.45" fill="#2b52e8" />
<circle cx="87.91" cy="646.28" r="1.45" fill="#2b52e8" />
<circle cx="88.64" cy="646.95" r="1.45" fill="#2b52e8" />
<circle cx="89.36" cy="645.38" r="1.45" fill="#2b52e8" />
<circle cx="90.09" cy="641.55" r="1.45" fill="#2b52e8" />
<circle cx="90.82" cy="642.46" r="1.45" fill="#2b52e8" />
<circle cx="91.54" cy="644.11" r="1.45" fill="#2b52e8" />
<circle cx="92.27" cy="635.68" r="1.45" fill="#2b52e8" />
<circle cx="93.00" cy="636.31" r="1.45" fill="#2b52e8" />
<circle cx="93.72" cy="627.28" r="1.45" fill="#2b52e8" />
<circle cx="94.45" cy="633.86" r="1.45" fill="#2b52e8" />
<circle cx="95.17" cy="632.52" r="1.45" fill="#2b52e8" />
<circle cx="95.90" cy="632.42" r="1.45" fill="#2b52e8" />
<circle cx="96.63" cy="630.45" r="1.45" fill="#2b52e8" />
<circle cx="97.35" cy="631.95" r="1.45" fill="#2b52e8" />
<circle cx="98.08" cy="633.33" r="1.45" fill="#2b52e8" />
<circle cx="98.81" cy="634.12" r="1.45" fill="#2b52e8" />
<circle cx="99.53" cy="630.99" r="1.45" fill="#2b52e8" />
<circle cx="100.26" cy="632.54" r="1.45" fill="#2b52e8" />
<circle cx="100.98" cy="633.39" r="1.45" fill="#2b52e8" />
<circle cx="101.71" cy="628.35" r="1.45" fill="#2b52e8" />
<circle cx="102.44" cy="631.88" r="1.45" fill="#2b52e8" />
<circle cx="103.16" cy="631.80" r="1.45" fill="#2b52e8" />
<circle cx="103.89" cy="635.48" r="1.45" fill="#2b52e8" />
<circle cx="104.62" cy="634.08" r="1.45" fill="#2b52e8" />
<circle cx="105.34" cy="635.46" r="1.45" fill="#2b52e8" />
<circle cx="106.07" cy="635.75" r="1.45" fill="#2b52e8" />
<circle cx="106.79" cy="634.02" r="1.45" fill="#2b52e8" />
<circle cx="107.52" cy="634.62" r="1.45" fill="#2b52e8" />
<circle cx="108.25" cy="635.55" r="1.45" fill="#2b52e8" />
<circle cx="108.97" cy="636.18" r="1.45" fill="#2b52e8" />
<circle cx="109.70" cy="639.96" r="1.45" fill="#2b52e8" />
<circle cx="110.43" cy="638.90" r="1.45" fill="#2b52e8" />
<circle cx="111.15" cy="636.96" r="1.45" fill="#2b52e8" />
<circle cx="111.88" cy="639.00" r="1.45" fill="#2b52e8" />
<circle cx="112.60" cy="640.32" r="1.45" fill="#2b52e8" />
<circle cx="113.33" cy="638.35" r="1.45" fill="#2b52e8" />
<circle cx="114.06" cy="641.29" r="1.45" fill="#2b52e8" />
<circle cx="114.78" cy="640.89" r="1.45" fill="#2b52e8" />
<circle cx="115.51" cy="637.70" r="1.45" fill="#2b52e8" />
<circle cx="116.24" cy="640.48" r="1.45" fill="#2b52e8" />
<circle cx="116.96" cy="635.87" r="1.45" fill="#2b52e8" />
<circle cx="117.69" cy="636.35" r="1.45" fill="#2b52e8" />
<circle cx="118.41" cy="634.29" r="1.45" fill="#2b52e8" />
<circle cx="119.14" cy="632.16" r="1.45" fill="#2b52e8" />
<circle cx="119.87" cy="637.72" r="1.45" fill="#2b52e8" />
<circle cx="120.59" cy="633.67" r="1.45" fill="#2b52e8" />
<circle cx="121.32" cy="636.87" r="1.45" fill="#2b52e8" />
<circle cx="122.05" cy="635.74" r="1.45" fill="#2b52e8" />
<circle cx="122.77" cy="635.59" r="1.45" fill="#2b52e8" />
<circle cx="123.50" cy="633.35" r="1.45" fill="#2b52e8" />
<circle cx="124.22" cy="636.71" r="1.45" fill="#2b52e8" />
<circle cx="124.95" cy="632.01" r="1.45" fill="#2b52e8" />
<circle cx="125.68" cy="635.51" r="1.45" fill="#2b52e8" />
<circle cx="126.40" cy="633.40" r="1.45" fill="#2b52e8" />
<circle cx="127.13" cy="631.97" r="1.45" fill="#2b52e8" />
<circle cx="127.86" cy="629.06" r="1.45" fill="#2b52e8" />
<circle cx="128.58" cy="630.13" r="1.45" fill="#2b52e8" />
<circle cx="129.31" cy="630.29" r="1.45" fill="#2b52e8" />
<circle cx="130.03" cy="628.63" r="1.45" fill="#2b52e8" />
<circle cx="130.76" cy="629.86" r="1.45" fill="#2b52e8" />
<circle cx="131.49" cy="623.36" r="1.45" fill="#2b52e8" />
<circle cx="132.21" cy="624.11" r="1.45" fill="#2b52e8" />
<circle cx="132.94" cy="624.44" r="1.45" fill="#2b52e8" />
<circle cx="133.67" cy="624.42" r="1.45" fill="#2b52e8" />
<circle cx="134.39" cy="625.95" r="1.45" fill="#2b52e8" />
<circle cx="135.12" cy="625.19" r="1.45" fill="#2b52e8" />
<circle cx="135.84" cy="622.27" r="1.45" fill="#2b52e8" />
<circle cx="136.57" cy="625.32" r="1.45" fill="#2b52e8" />
<circle cx="137.30" cy="623.93" r="1.45" fill="#2b52e8" />
<circle cx="138.02" cy="616.99" r="1.45" fill="#2b52e8" />
<circle cx="138.75" cy="615.10" r="1.45" fill="#2b52e8" />
<circle cx="139.48" cy="616.51" r="1.45" fill="#2b52e8" />
<circle cx="140.20" cy="619.56" r="1.45" fill="#2b52e8" />
<circle cx="140.93" cy="623.86" r="1.45" fill="#2b52e8" />
<circle cx="141.65" cy="623.32" r="1.45" fill="#2b52e8" />
<circle cx="142.38" cy="627.74" r="1.45" fill="#2b52e8" />
<circle cx="143.11" cy="627.07" r="1.45" fill="#2b52e8" />
<circle cx="143.83" cy="626.66" r="1.45" fill="#2b52e8" />
<circle cx="144.56" cy="625.08" r="1.45" fill="#2b52e8" />
<circle cx="145.28" cy="629.11" r="1.45" fill="#2b52e8" />
<circle cx="146.01" cy="628.45" r="1.45" fill="#2b52e8" />
<circle cx="146.74" cy="630.30" r="1.45" fill="#2b52e8" />
<circle cx="147.46" cy="630.97" r="1.45" fill="#2b52e8" />
<circle cx="148.19" cy="631.29" r="1.45" fill="#2b52e8" />
<circle cx="148.92" cy="630.04" r="1.45" fill="#2b52e8" />
<circle cx="149.64" cy="628.66" r="1.45" fill="#2b52e8" />
<circle cx="150.37" cy="632.32" r="1.45" fill="#2b52e8" />
<circle cx="151.09" cy="632.45" r="1.45" fill="#2b52e8" />
<circle cx="151.82" cy="627.46" r="1.45" fill="#2b52e8" />
<circle cx="152.55" cy="612.31" r="1.45" fill="#2b52e8" />
<circle cx="153.27" cy="608.42" r="1.45" fill="#2b52e8" />
<circle cx="154.00" cy="610.76" r="1.45" fill="#2b52e8" />
<circle cx="154.73" cy="605.58" r="1.45" fill="#2b52e8" />
<circle cx="51.60" cy="626.15" r="1.45" fill="#e15a2c" />
<circle cx="52.33" cy="621.80" r="1.45" fill="#e15a2c" />
<circle cx="53.05" cy="626.38" r="1.45" fill="#e15a2c" />
<circle cx="53.78" cy="626.86" r="1.45" fill="#e15a2c" />
<circle cx="54.50" cy="626.05" r="1.45" fill="#e15a2c" />
<circle cx="55.23" cy="624.49" r="1.45" fill="#e15a2c" />
<circle cx="55.96" cy="627.12" r="1.45" fill="#e15a2c" />
<circle cx="56.68" cy="624.59" r="1.45" fill="#e15a2c" />
<circle cx="57.41" cy="625.86" r="1.45" fill="#e15a2c" />
<circle cx="58.14" cy="627.12" r="1.45" fill="#e15a2c" />
<circle cx="58.86" cy="627.73" r="1.45" fill="#e15a2c" />
<circle cx="59.59" cy="626.57" r="1.45" fill="#e15a2c" />
<circle cx="60.31" cy="630.96" r="1.45" fill="#e15a2c" />
<circle cx="61.04" cy="629.19" r="1.45" fill="#e15a2c" />
<circle cx="61.77" cy="629.44" r="1.45" fill="#e15a2c" />
<circle cx="62.49" cy="634.93" r="1.45" fill="#e15a2c" />
<circle cx="63.22" cy="628.66" r="1.45" fill="#e15a2c" />
<circle cx="63.95" cy="631.62" r="1.45" fill="#e15a2c" />
<circle cx="64.67" cy="630.55" r="1.45" fill="#e15a2c" />
<circle cx="65.40" cy="628.90" r="1.45" fill="#e15a2c" />
<circle cx="66.12" cy="626.54" r="1.45" fill="#e15a2c" />
<circle cx="66.85" cy="625.00" r="1.45" fill="#e15a2c" />
<circle cx="67.58" cy="623.67" r="1.45" fill="#e15a2c" />
<circle cx="68.30" cy="625.84" r="1.45" fill="#e15a2c" />
<circle cx="69.03" cy="621.38" r="1.45" fill="#e15a2c" />
<circle cx="69.76" cy="621.47" r="1.45" fill="#e15a2c" />
<circle cx="70.48" cy="622.96" r="1.45" fill="#e15a2c" />
<circle cx="71.21" cy="621.34" r="1.45" fill="#e15a2c" />
<circle cx="71.93" cy="618.53" r="1.45" fill="#e15a2c" />
<circle cx="72.66" cy="618.86" r="1.45" fill="#e15a2c" />
<circle cx="73.39" cy="617.53" r="1.45" fill="#e15a2c" />
<circle cx="74.11" cy="618.43" r="1.45" fill="#e15a2c" />
<circle cx="74.84" cy="615.08" r="1.45" fill="#e15a2c" />
<circle cx="75.57" cy="611.59" r="1.45" fill="#e15a2c" />
<circle cx="76.29" cy="615.59" r="1.45" fill="#e15a2c" />
<circle cx="77.02" cy="621.81" r="1.45" fill="#e15a2c" />
<circle cx="77.74" cy="614.09" r="1.45" fill="#e15a2c" />
<circle cx="78.47" cy="621.14" r="1.45" fill="#e15a2c" />
<circle cx="79.20" cy="624.29" r="1.45" fill="#e15a2c" />
<circle cx="79.92" cy="625.48" r="1.45" fill="#e15a2c" />
<circle cx="80.65" cy="616.01" r="1.45" fill="#e15a2c" />
<circle cx="81.38" cy="612.12" r="1.45" fill="#e15a2c" />
<circle cx="82.10" cy="613.16" r="1.45" fill="#e15a2c" />
<circle cx="82.83" cy="618.21" r="1.45" fill="#e15a2c" />
<circle cx="83.55" cy="614.84" r="1.45" fill="#e15a2c" />
<circle cx="84.28" cy="620.26" r="1.45" fill="#e15a2c" />
<circle cx="85.01" cy="621.86" r="1.45" fill="#e15a2c" />
<circle cx="85.73" cy="618.71" r="1.45" fill="#e15a2c" />
<circle cx="86.46" cy="616.90" r="1.45" fill="#e15a2c" />
<circle cx="87.19" cy="615.91" r="1.45" fill="#e15a2c" />
<circle cx="87.91" cy="613.56" r="1.45" fill="#e15a2c" />
<circle cx="88.64" cy="621.19" r="1.45" fill="#e15a2c" />
<circle cx="89.36" cy="612.16" r="1.45" fill="#e15a2c" />
<circle cx="90.09" cy="618.60" r="1.45" fill="#e15a2c" />
<circle cx="90.82" cy="616.23" r="1.45" fill="#e15a2c" />
<circle cx="91.54" cy="618.93" r="1.45" fill="#e15a2c" />
<circle cx="92.27" cy="613.96" r="1.45" fill="#e15a2c" />
<circle cx="93.00" cy="613.19" r="1.45" fill="#e15a2c" />
<circle cx="93.72" cy="617.76" r="1.45" fill="#e15a2c" />
<circle cx="94.45" cy="613.50" r="1.45" fill="#e15a2c" />
<circle cx="95.17" cy="613.74" r="1.45" fill="#e15a2c" />
<circle cx="95.90" cy="620.47" r="1.45" fill="#e15a2c" />
<circle cx="96.63" cy="625.71" r="1.45" fill="#e15a2c" />
<circle cx="97.35" cy="624.58" r="1.45" fill="#e15a2c" />
<circle cx="98.08" cy="623.68" r="1.45" fill="#e15a2c" />
<circle cx="98.81" cy="618.51" r="1.45" fill="#e15a2c" />
<circle cx="99.53" cy="616.18" r="1.45" fill="#e15a2c" />
<circle cx="100.26" cy="608.77" r="1.45" fill="#e15a2c" />
<circle cx="100.98" cy="608.05" r="1.45" fill="#e15a2c" />
<circle cx="101.71" cy="607.19" r="1.45" fill="#e15a2c" />
<circle cx="102.44" cy="603.95" r="1.45" fill="#e15a2c" />
<circle cx="103.16" cy="610.56" r="1.45" fill="#e15a2c" />
<circle cx="103.89" cy="604.00" r="1.45" fill="#e15a2c" />
<circle cx="104.62" cy="602.68" r="1.45" fill="#e15a2c" />
<circle cx="105.34" cy="599.77" r="1.45" fill="#e15a2c" />
<circle cx="106.07" cy="598.05" r="1.45" fill="#e15a2c" />
<circle cx="106.79" cy="597.74" r="1.45" fill="#e15a2c" />
<circle cx="107.52" cy="595.25" r="1.45" fill="#e15a2c" />
<circle cx="108.25" cy="598.92" r="1.45" fill="#e15a2c" />
<circle cx="108.97" cy="595.72" r="1.45" fill="#e15a2c" />
<circle cx="109.70" cy="596.26" r="1.45" fill="#e15a2c" />
<circle cx="110.43" cy="595.29" r="1.45" fill="#e15a2c" />
<circle cx="111.15" cy="593.89" r="1.45" fill="#e15a2c" />
<circle cx="111.88" cy="590.20" r="1.45" fill="#e15a2c" />
<circle cx="112.60" cy="583.34" r="1.45" fill="#e15a2c" />
<circle cx="113.33" cy="583.00" r="1.45" fill="#e15a2c" />
<circle cx="114.06" cy="582.46" r="1.45" fill="#e15a2c" />
<circle cx="114.78" cy="588.06" r="1.45" fill="#e15a2c" />
<circle cx="115.51" cy="590.93" r="1.45" fill="#e15a2c" />
<circle cx="116.24" cy="588.89" r="1.45" fill="#e15a2c" />
<circle cx="116.96" cy="595.10" r="1.45" fill="#e15a2c" />
<circle cx="117.69" cy="594.41" r="1.45" fill="#e15a2c" />
<circle cx="118.41" cy="591.94" r="1.45" fill="#e15a2c" />
<circle cx="119.14" cy="596.41" r="1.45" fill="#e15a2c" />
<circle cx="119.87" cy="590.92" r="1.45" fill="#e15a2c" />
<circle cx="120.59" cy="589.14" r="1.45" fill="#e15a2c" />
<circle cx="121.32" cy="586.61" r="1.45" fill="#e15a2c" />
<circle cx="122.05" cy="581.87" r="1.45" fill="#e15a2c" />
<circle cx="122.77" cy="583.13" r="1.45" fill="#e15a2c" />
<circle cx="123.50" cy="583.10" r="1.45" fill="#e15a2c" />
<circle cx="124.22" cy="588.92" r="1.45" fill="#e15a2c" />
<circle cx="124.95" cy="587.14" r="1.45" fill="#e15a2c" />
<circle cx="125.68" cy="590.72" r="1.45" fill="#e15a2c" />
<circle cx="126.40" cy="587.08" r="1.45" fill="#e15a2c" />
<circle cx="127.13" cy="591.00" r="1.45" fill="#e15a2c" />
<circle cx="127.86" cy="595.17" r="1.45" fill="#e15a2c" />
<circle cx="128.58" cy="590.44" r="1.45" fill="#e15a2c" />
<circle cx="129.31" cy="592.30" r="1.45" fill="#e15a2c" />
<circle cx="130.03" cy="586.06" r="1.45" fill="#e15a2c" />
<circle cx="130.76" cy="588.46" r="1.45" fill="#e15a2c" />
<circle cx="131.49" cy="592.36" r="1.45" fill="#e15a2c" />
<circle cx="132.21" cy="586.97" r="1.45" fill="#e15a2c" />
<circle cx="132.94" cy="582.59" r="1.45" fill="#e15a2c" />
<circle cx="133.67" cy="583.72" r="1.45" fill="#e15a2c" />
<circle cx="134.39" cy="585.55" r="1.45" fill="#e15a2c" />
<circle cx="135.12" cy="581.52" r="1.45" fill="#e15a2c" />
<circle cx="135.84" cy="581.02" r="1.45" fill="#e15a2c" />
<circle cx="136.57" cy="578.00" r="1.45" fill="#e15a2c" />
<circle cx="137.30" cy="573.77" r="1.45" fill="#e15a2c" />
<circle cx="138.02" cy="576.03" r="1.45" fill="#e15a2c" />
<circle cx="138.75" cy="590.40" r="1.45" fill="#e15a2c" />
<circle cx="139.48" cy="598.02" r="1.45" fill="#e15a2c" />
<circle cx="140.20" cy="601.34" r="1.45" fill="#e15a2c" />
<circle cx="140.93" cy="605.46" r="1.45" fill="#e15a2c" />
<circle cx="141.65" cy="599.57" r="1.45" fill="#e15a2c" />
<circle cx="142.38" cy="589.74" r="1.45" fill="#e15a2c" />
<circle cx="143.11" cy="572.22" r="1.45" fill="#e15a2c" />
<circle cx="143.83" cy="568.93" r="1.45" fill="#e15a2c" />
<circle cx="144.56" cy="563.27" r="1.45" fill="#e15a2c" />
<circle cx="145.28" cy="556.49" r="1.45" fill="#e15a2c" />
<circle cx="146.01" cy="548.79" r="1.45" fill="#e15a2c" />
<circle cx="146.74" cy="547.14" r="1.45" fill="#e15a2c" />
<circle cx="147.46" cy="545.57" r="1.45" fill="#e15a2c" />
<circle cx="148.19" cy="540.45" r="1.45" fill="#e15a2c" />
<circle cx="148.92" cy="526.52" r="1.45" fill="#e15a2c" />
<circle cx="149.64" cy="523.13" r="1.45" fill="#e15a2c" />
<circle cx="150.37" cy="528.24" r="1.45" fill="#e15a2c" />
<circle cx="151.09" cy="536.96" r="1.45" fill="#e15a2c" />
<circle cx="151.82" cy="547.92" r="1.45" fill="#e15a2c" />
<circle cx="152.55" cy="544.59" r="1.45" fill="#e15a2c" />
<circle cx="153.27" cy="547.88" r="1.45" fill="#e15a2c" />
<circle cx="154.00" cy="543.30" r="1.45" fill="#e15a2c" />
<circle cx="154.73" cy="544.87" r="1.45" fill="#e15a2c" />
<circle cx="180.50" cy="566.60" r="1.30" fill="#9a5cf0" />
<text x="191.30" y="569.37" font-size="7.9" text-anchor="start" fill="#000" >Vehicle</text>
<circle cx="180.50" cy="577.80" r="1.30" fill="#fdf37a" />
<text x="191.30" y="580.56" font-size="7.9" text-anchor="start" fill="#000" >Talazop</text>
<circle cx="180.50" cy="589.70" r="1.30" fill="#2b52e8" />
<text x="191.30" y="592.47" font-size="7.9" text-anchor="start" fill="#000" >RT3D</text>
<circle cx="180.50" cy="600.90" r="1.30" fill="#e15a2c" />
<text x="191.30" y="603.66" font-size="7.9" text-anchor="start" fill="#000" >Talazop + RT3D</text>
<text x="261.30" y="519.30" font-size="13.6" text-anchor="start" fill="#000" >F.</text>
<line x1="295.50" y1="530.80" x2="295.50" y2="652.40" stroke="#333" stroke-width="1.0" />
<line x1="295.00" y1="652.50" x2="460.20" y2="652.50" stroke="#333" stroke-width="1.0" />
<line x1="293.50" y1="647.50" x2="295.50" y2="647.50" stroke="#333" stroke-width="0.9" />
<text x="291.40" y="650.21" font-size="8.6" text-anchor="end" fill="#4d4d4d" >0</text>
<line x1="293.50" y1="619.50" x2="295.50" y2="619.50" stroke="#333" stroke-width="0.9" />
<text x="291.40" y="622.19" font-size="8.6" text-anchor="end" fill="#4d4d4d" >25</text>
<line x1="293.50" y1="591.50" x2="295.50" y2="591.50" stroke="#333" stroke-width="0.9" />
<text x="291.40" y="594.17" font-size="8.6" text-anchor="end" fill="#4d4d4d" >50</text>
<line x1="293.50" y1="563.50" x2="295.50" y2="563.50" stroke="#333" stroke-width="0.9" />
<text x="291.40" y="566.15" font-size="8.6" text-anchor="end" fill="#4d4d4d" >75</text>
<line x1="293.50" y1="535.50" x2="295.50" y2="535.50" stroke="#333" stroke-width="0.9" />
<text x="291.40" y="538.13" font-size="8.6" text-anchor="end" fill="#4d4d4d" >100</text>
<text x="271.80" y="591.10" font-size="11.1" text-anchor="middle" fill="#000" transform="rotate(-90 271.80 591.10)" >% Cell death</text>
<rect x="308.80" y="640.48" width="21.80" height="6.72" fill="#8c5ae8" stroke="#222" stroke-width="0.8" />
<line x1="319.50" y1="644.40" x2="319.50" y2="634.31" stroke="#000" stroke-width="0.9" />
<line x1="316.70" y1="644.50" x2="322.70" y2="644.50" stroke="#000" stroke-width="0.9" />
<line x1="316.70" y1="634.50" x2="322.70" y2="634.50" stroke="#000" stroke-width="0.9" />
<circle cx="319.70" cy="640.48" r="1.50" fill="#000" />
<circle cx="319.70" cy="636.27" r="1.50" fill="#000" />
<line x1="319.50" y1="652.40" x2="319.50" y2="654.40" stroke="#333" stroke-width="0.9" />
<rect x="347.40" y="629.27" width="22.10" height="17.93" fill="#fbf47a" stroke="#222" stroke-width="0.8" />
<line x1="358.50" y1="634.87" x2="358.50" y2="622.54" stroke="#000" stroke-width="0.9" />
<line x1="355.45" y1="634.50" x2="361.45" y2="634.50" stroke="#000" stroke-width="0.9" />
<line x1="355.45" y1="622.50" x2="361.45" y2="622.50" stroke="#000" stroke-width="0.9" />
<circle cx="358.45" cy="629.27" r="1.50" fill="#000" />
<circle cx="358.45" cy="624.78" r="1.50" fill="#000" />
<line x1="358.50" y1="652.40" x2="358.50" y2="654.40" stroke="#333" stroke-width="0.9" />
<rect x="387.00" y="628.15" width="21.70" height="19.05" fill="#2a50ef" stroke="#222" stroke-width="0.8" />
<line x1="397.50" y1="633.19" x2="397.50" y2="623.10" stroke="#000" stroke-width="0.9" />
<line x1="394.85" y1="633.50" x2="400.85" y2="633.50" stroke="#000" stroke-width="0.9" />
<line x1="394.85" y1="623.50" x2="400.85" y2="623.50" stroke="#000" stroke-width="0.9" />
<circle cx="397.85" cy="628.15" r="1.50" fill="#000" />
<circle cx="397.85" cy="624.50" r="1.50" fill="#000" />
<line x1="397.50" y1="652.40" x2="397.50" y2="654.40" stroke="#333" stroke-width="0.9" />
<rect x="426.20" y="569.30" width="21.70" height="77.90" fill="#e0623a" stroke="#222" stroke-width="0.8" />
<line x1="437.50" y1="574.91" x2="437.50" y2="563.14" stroke="#000" stroke-width="0.9" />
<line x1="434.05" y1="574.50" x2="440.05" y2="574.50" stroke="#000" stroke-width="0.9" />
<line x1="434.05" y1="563.50" x2="440.05" y2="563.50" stroke="#000" stroke-width="0.9" />
<circle cx="437.05" cy="569.30" r="1.50" fill="#000" />
<circle cx="437.05" cy="565.10" r="1.50" fill="#000" />
<line x1="437.50" y1="652.40" x2="437.50" y2="654.40" stroke="#333" stroke-width="0.9" />
<text x="319.30" y="664.21" font-size="8.6" text-anchor="middle" fill="#4d4d4d" >Vehicle</text>
<text x="358.60" y="664.21" font-size="8.6" text-anchor="middle" fill="#4d4d4d" >Talazop</text>
<text x="398.20" y="664.21" font-size="8.6" text-anchor="middle" fill="#4d4d4d" >RT3D</text>
<text x="437.40" y="664.21" font-size="8.6" text-anchor="middle" fill="#4d4d4d" >RT3D +</text>
<text x="437.40" y="673.91" font-size="8.6" text-anchor="middle" fill="#4d4d4d" >Talazop</text>
<path d="M319.30,549.40L319.30,546.60L437.40,546.60L437.40,549.40" fill="none" stroke="#333" stroke-width="0.8" />
<text x="378.35" y="545.00" font-size="6.5" text-anchor="middle" fill="#222" >*</text>
<path d="M319.30,594.60L319.30,591.80L398.20,591.80L398.20,594.60" fill="none" stroke="#333" stroke-width="0.8" />
<text x="358.75" y="590.20" font-size="8.2" text-anchor="middle" fill="#222" >ns</text>
<path d="M319.30,616.00L319.30,613.20L358.60,613.20L358.60,616.00" fill="none" stroke="#333" stroke-width="0.8" />
<text x="338.95" y="611.60" font-size="8.2" text-anchor="middle" fill="#222" >ns</text>
<text x="0.00" y="695.80" font-size="13.6" text-anchor="start" fill="#000" >G.</text>
<text x="40.05" y="705.15" font-size="7.3" text-anchor="middle" fill="#000" >0</text>
<text x="85.55" y="705.15" font-size="7.3" text-anchor="middle" fill="#000" >24</text>
<text x="130.55" y="705.15" font-size="7.3" text-anchor="middle" fill="#000" >26</text>
<text x="176.45" y="705.15" font-size="7.3" text-anchor="middle" fill="#000" >28</text>
<text x="222.05" y="705.15" font-size="7.3" text-anchor="middle" fill="#000" >30</text>
<text x="267.55" y="705.15" font-size="7.3" text-anchor="middle" fill="#000" >32</text>
<text x="313.15" y="705.15" font-size="7.3" text-anchor="middle" fill="#000" >34</text>
<text x="358.75" y="705.15" font-size="7.3" text-anchor="middle" fill="#000" >36</text>
<text x="404.45" y="705.15" font-size="7.3" text-anchor="middle" fill="#000" >38</text>
<text x="450.15" y="705.15" font-size="7.3" text-anchor="middle" fill="#000" >40</text>
<text x="496.15" y="705.15" font-size="7.3" text-anchor="middle" fill="#000" >42</text>
<text x="542.55" y="705.15" font-size="7.3" text-anchor="middle" fill="#000" >44</text>
<text x="588.95" y="705.15" font-size="7.3" text-anchor="middle" fill="#000" >46</text>
<text x="611.70" y="704.85" font-size="7.0" text-anchor="start" fill="#000" >time post RT3D/talazop</text>
<text x="648.50" y="713.25" font-size="7.0" text-anchor="middle" fill="#000" >Infection (hrs):</text>
<text x="13.20" y="730.90" font-size="7.4" text-anchor="middle" fill="#000" transform="rotate(-90 13.20 730.90)" >PCNA-Scarlet</text>
<text x="13.20" y="776.50" font-size="7.4" text-anchor="middle" fill="#000" transform="rotate(-90 13.20 776.50)" >RELA-GFP</text>
<filter id="gb" x="-20%" y="-20%" width="140%" height="140%"><feGaussianBlur stdDeviation="1.0"/></filter>
<filter id="gb2" x="-50%" y="-50%" width="200%" height="200%"><feGaussianBlur stdDeviation="2.2"/></filter>
<clipPath id="g0_0"><rect x="17.90" y="708.60" width="44.30" height="43.5"/></clipPath>
<g clip-path="url(#g0_0)">
<rect x="17.90" y="708.60" width="44.30" height="43.50" fill="#0b0b0b" />
<ellipse cx="42.20" cy="735.90" rx="3.60" ry="3.30" fill="rgb(235,235,235)" filter="url(#gb)"/>
<ellipse cx="19.90" cy="737.10" rx="3.50" ry="4.20" fill="rgb(200,200,200)" filter="url(#gb)"/>
<ellipse cx="53.40" cy="709.10" rx="4.50" ry="3.00" fill="rgb(200,200,200)" filter="url(#gb)"/>
<ellipse cx="41.90" cy="735.60" rx="6.00" ry="6.00" fill="rgb(66,66,66)" opacity="0.5" filter="url(#gb2)"/>
</g>
<clipPath id="g0_1"><rect x="63.40" y="708.60" width="44.30" height="43.5"/></clipPath>
<g clip-path="url(#g0_1)">
<rect x="63.40" y="708.60" width="44.30" height="43.50" fill="#0b0b0b" />
<ellipse cx="87.00" cy="730.60" rx="12.00" ry="10.00" fill="rgb(52,52,52)" opacity="1" filter="url(#gb2)"/>
<ellipse cx="80.40" cy="733.10" rx="6.60" ry="4.00" fill="rgb(52,52,52)" opacity="0.8" filter="url(#gb2)" transform="rotate(-20 87.00 730.60)"/>
<ellipse cx="87.00" cy="730.10" rx="5.00" ry="4.20" fill="rgb(225,225,225)" filter="url(#gb)"/>
</g>
<clipPath id="g0_2"><rect x="108.40" y="708.60" width="44.30" height="43.5"/></clipPath>
<g clip-path="url(#g0_2)">
<rect x="108.40" y="708.60" width="44.30" height="43.50" fill="#0b0b0b" />
<ellipse cx="127.40" cy="729.60" rx="9.00" ry="9.00" fill="rgb(38,38,38)" opacity="1" filter="url(#gb2)"/>
<ellipse cx="122.45" cy="731.85" rx="4.95" ry="3.60" fill="rgb(38,38,38)" opacity="0.8" filter="url(#gb2)" transform="rotate(-20 127.40 729.60)"/>
<ellipse cx="127.50" cy="729.70" rx="4.50" ry="4.30" fill="rgb(215,215,215)" filter="url(#gb)"/>
<ellipse cx="108.40" cy="736.60" rx="3.00" ry="4.50" fill="rgb(190,190,190)" filter="url(#gb)"/>
</g>
<clipPath id="g0_3"><rect x="154.30" y="708.60" width="44.30" height="43.5"/></clipPath>
<g clip-path="url(#g0_3)">
<rect x="154.30" y="708.60" width="44.30" height="43.50" fill="#0b0b0b" />
<ellipse cx="176.30" cy="729.60" rx="12.00" ry="10.00" fill="rgb(46,46,46)" opacity="1" filter="url(#gb2)"/>
<ellipse cx="169.70" cy="732.10" rx="6.60" ry="4.00" fill="rgb(46,46,46)" opacity="0.8" filter="url(#gb2)" transform="rotate(-20 176.30 729.60)"/>
<ellipse cx="176.30" cy="729.60" rx="4.60" ry="4.00" fill="rgb(225,225,225)" filter="url(#gb)"/>
</g>
<clipPath id="g0_4"><rect x="199.90" y="708.60" width="44.30" height="43.5"/></clipPath>
<g clip-path="url(#g0_4)">
<rect x="199.90" y="708.60" width="44.30" height="43.50" fill="#0b0b0b" />
<ellipse cx="221.90" cy="730.60" rx="12.00" ry="11.00" fill="rgb(46,46,46)" opacity="1" filter="url(#gb2)"/>
<ellipse cx="215.30" cy="733.35" rx="6.60" ry="4.40" fill="rgb(46,46,46)" opacity="0.8" filter="url(#gb2)" transform="rotate(-20 221.90 730.60)"/>
<ellipse cx="222.90" cy="729.60" rx="4.80" ry="4.20" fill="rgb(215,215,215)" filter="url(#gb)"/>
</g>
<clipPath id="g0_5"><rect x="245.40" y="708.60" width="44.30" height="43.5"/></clipPath>
<g clip-path="url(#g0_5)">
<rect x="245.40" y="708.60" width="44.30" height="43.50" fill="#0b0b0b" />
<ellipse cx="267.40" cy="730.60" rx="12.00" ry="11.00" fill="rgb(46,46,46)" opacity="1" filter="url(#gb2)"/>
<ellipse cx="260.80" cy="733.35" rx="6.60" ry="4.40" fill="rgb(46,46,46)" opacity="0.8" filter="url(#gb2)" transform="rotate(-20 267.40 730.60)"/>
<ellipse cx="267.40" cy="728.60" rx="4.80" ry="4.60" fill="rgb(215,215,215)" filter="url(#gb)"/>
<ellipse cx="247.40" cy="711.60" rx="3.00" ry="3.00" fill="rgb(150,150,150)" filter="url(#gb)"/>
</g>
<clipPath id="g0_6"><rect x="291.00" y="708.60" width="44.30" height="43.5"/></clipPath>
<g clip-path="url(#g0_6)">
<rect x="291.00" y="708.60" width="44.30" height="43.50" fill="#0b0b0b" />
<ellipse cx="313.00" cy="732.60" rx="14.00" ry="11.00" fill="rgb(49,49,49)" opacity="1" filter="url(#gb2)"/>
<ellipse cx="305.30" cy="735.35" rx="7.70" ry="4.40" fill="rgb(49,49,49)" opacity="0.8" filter="url(#gb2)" transform="rotate(-20 313.00 732.60)"/>
<ellipse cx="314.00" cy="729.60" rx="4.60" ry="4.40" fill="rgb(210,210,210)" filter="url(#gb)"/>
<ellipse cx="294.00" cy="711.60" rx="4.00" ry="3.00" fill="rgb(170,170,170)" filter="url(#gb)"/>
</g>
<clipPath id="g0_7"><rect x="336.60" y="708.60" width="44.30" height="43.5"/></clipPath>
<g clip-path="url(#g0_7)">
<rect x="336.60" y="708.60" width="44.30" height="43.50" fill="#0b0b0b" />
<ellipse cx="356.60" cy="730.60" rx="14.00" ry="12.00" fill="rgb(52,52,52)" opacity="1" filter="url(#gb2)"/>
<ellipse cx="348.90" cy="733.60" rx="7.70" ry="4.80" fill="rgb(52,52,52)" opacity="0.8" filter="url(#gb2)" transform="rotate(-20 356.60 730.60)"/>
<ellipse cx="358.60" cy="730.60" rx="4.80" ry="4.40" fill="rgb(205,205,205)" filter="url(#gb)"/>
<ellipse cx="339.60" cy="711.60" rx="3.00" ry="3.00" fill="rgb(150,150,150)" filter="url(#gb)"/>
</g>
<clipPath id="g0_8"><rect x="382.30" y="708.60" width="44.30" height="43.5"/></clipPath>
<g clip-path="url(#g0_8)">
<rect x="382.30" y="708.60" width="44.30" height="43.50" fill="#0b0b0b" />
<ellipse cx="403.30" cy="730.60" rx="14.00" ry="12.00" fill="rgb(52,52,52)" opacity="1" filter="url(#gb2)"/>
<ellipse cx="395.60" cy="733.60" rx="7.70" ry="4.80" fill="rgb(52,52,52)" opacity="0.8" filter="url(#gb2)" transform="rotate(-20 403.30 730.60)"/>
<ellipse cx="404.30" cy="730.60" rx="4.80" ry="4.40" fill="rgb(205,205,205)" filter="url(#gb)"/>
</g>
<clipPath id="g0_9"><rect x="428.00" y="708.60" width="44.30" height="43.5"/></clipPath>
<g clip-path="url(#g0_9)">
<rect x="428.00" y="708.60" width="44.30" height="43.50" fill="#0b0b0b" />
<ellipse cx="449.00" cy="730.60" rx="14.00" ry="12.00" fill="rgb(49,49,49)" opacity="1" filter="url(#gb2)"/>
<ellipse cx="441.30" cy="733.60" rx="7.70" ry="4.80" fill="rgb(49,49,49)" opacity="0.8" filter="url(#gb2)" transform="rotate(-20 449.00 730.60)"/>
<ellipse cx="450.00" cy="730.60" rx="4.80" ry="4.40" fill="rgb(200,200,200)" filter="url(#gb)"/>
</g>
<clipPath id="g0_10"><rect x="474.00" y="708.60" width="44.30" height="43.5"/></clipPath>
<g clip-path="url(#g0_10)">
<rect x="474.00" y="708.60" width="44.30" height="43.50" fill="#0b0b0b" />
<ellipse cx="495.00" cy="728.60" rx="15.00" ry="13.00" fill="rgb(55,55,55)" opacity="1" filter="url(#gb2)"/>
<ellipse cx="486.75" cy="731.85" rx="8.25" ry="5.20" fill="rgb(55,55,55)" opacity="0.8" filter="url(#gb2)" transform="rotate(-20 495.00 728.60)"/>
<ellipse cx="495.00" cy="728.60" rx="5.20" ry="5.00" fill="rgb(185,185,185)" filter="url(#gb)"/>
</g>
<clipPath id="g0_11"><rect x="520.40" y="708.60" width="44.30" height="43.5"/></clipPath>
<g clip-path="url(#g0_11)">
<rect x="520.40" y="708.60" width="44.30" height="43.50" fill="#0b0b0b" />
<ellipse cx="533.30" cy="728.10" rx="4.60" ry="4.40" fill="rgb(245,245,245)" filter="url(#gb)"/>
</g>
<clipPath id="g0_12"><rect x="566.80" y="708.60" width="44.30" height="43.5"/></clipPath>
<g clip-path="url(#g0_12)">
<rect x="566.80" y="708.60" width="44.30" height="43.50" fill="#0b0b0b" />
<ellipse cx="579.80" cy="727.60" rx="6.00" ry="6.00" fill="rgb(24,24,24)" opacity="1" filter="url(#gb2)"/>
</g>
<clipPath id="g1_0"><rect x="17.90" y="754.40" width="44.30" height="43.5"/></clipPath>
<g clip-path="url(#g1_0)">
<rect x="17.90" y="754.40" width="44.30" height="43.50" fill="#1c1c1c" />
<ellipse cx="34.90" cy="776.40" rx="10.00" ry="8.00" fill="rgb(79,79,79)" opacity="1" filter="url(#gb2)"/>
<ellipse cx="29.40" cy="778.40" rx="5.50" ry="3.20" fill="rgb(79,79,79)" opacity="0.8" filter="url(#gb2)" transform="rotate(-20 34.90 776.40)"/>
<ellipse cx="20.90" cy="774.40" rx="6.00" ry="9.00" fill="rgb(86,86,86)" opacity="1" filter="url(#gb2)"/>
<ellipse cx="45.90" cy="755.40" rx="9.00" ry="6.00" fill="rgb(86,86,86)" opacity="1" filter="url(#gb2)"/>
<ellipse cx="40.95" cy="756.90" rx="4.95" ry="2.40" fill="rgb(86,86,86)" opacity="0.8" filter="url(#gb2)" transform="rotate(-20 45.90 755.40)"/>
<ellipse cx="42.90" cy="782.40" rx="9.00" ry="7.00" fill="rgb(75,75,75)" opacity="1" filter="url(#gb2)"/>
<ellipse cx="37.95" cy="784.15" rx="4.95" ry="2.80" fill="rgb(75,75,75)" opacity="0.8" filter="url(#gb2)" transform="rotate(-20 42.90 782.40)"/>
<ellipse cx="34.90" cy="776.40" rx="3.50" ry="3.00" fill="rgb(60,60,60)" filter="url(#gb)"/>
</g>
<clipPath id="g1_1"><rect x="63.40" y="754.40" width="44.30" height="43.5"/></clipPath>
<g clip-path="url(#g1_1)">
<rect x="63.40" y="754.40" width="44.30" height="43.50" fill="#1c1c1c" />
<ellipse cx="86.40" cy="777.40" rx="14.00" ry="12.00" fill="rgb(86,86,86)" opacity="1" filter="url(#gb2)"/>
<ellipse cx="78.70" cy="780.40" rx="7.70" ry="4.80" fill="rgb(86,86,86)" opacity="0.8" filter="url(#gb2)" transform="rotate(-20 86.40 777.40)"/>
<ellipse cx="86.40" cy="776.40" rx="8.50" ry="7.50" fill="rgb(190,190,190)" filter="url(#gb)"/>
<ellipse cx="85.40" cy="777.40" rx="4.50" ry="3.50" fill="rgb(70,70,70)" filter="url(#gb)"/>
</g>
<clipPath id="g1_2"><rect x="108.40" y="754.40" width="44.30" height="43.5"/></clipPath>
<g clip-path="url(#g1_2)">
<rect x="108.40" y="754.40" width="44.30" height="43.50" fill="#1c1c1c" />
<ellipse cx="127.40" cy="776.40" rx="11.00" ry="11.00" fill="rgb(64,64,64)" opacity="1" filter="url(#gb2)"/>
<ellipse cx="121.35" cy="779.15" rx="6.05" ry="4.40" fill="rgb(64,64,64)" opacity="0.8" filter="url(#gb2)" transform="rotate(-20 127.40 776.40)"/>
<ellipse cx="127.40" cy="776.40" rx="7.00" ry="7.00" fill="rgb(185,185,185)" filter="url(#gb)"/>
<ellipse cx="127.40" cy="776.40" rx="3.80" ry="3.80" fill="rgb(90,90,90)" filter="url(#gb)"/>
<ellipse cx="108.40" cy="780.40" rx="3.50" ry="6.00" fill="rgb(150,150,150)" filter="url(#gb)"/>
</g>
<clipPath id="g1_3"><rect x="154.30" y="754.40" width="44.30" height="43.5"/></clipPath>
<g clip-path="url(#g1_3)">
<rect x="154.30" y="754.40" width="44.30" height="43.50" fill="#1c1c1c" />
<ellipse cx="176.30" cy="776.40" rx="14.00" ry="12.00" fill="rgb(82,82,82)" opacity="1" filter="url(#gb2)"/>
<ellipse cx="168.60" cy="779.40" rx="7.70" ry="4.80" fill="rgb(82,82,82)" opacity="0.8" filter="url(#gb2)" transform="rotate(-20 176.30 776.40)"/>
<ellipse cx="176.30" cy="776.40" rx="8.50" ry="8.00" fill="rgb(195,195,195)" filter="url(#gb)"/>
<ellipse cx="176.30" cy="776.40" rx="4.80" ry="4.20" fill="rgb(85,85,85)" filter="url(#gb)"/>
</g>
<clipPath id="g1_4"><rect x="199.90" y="754.40" width="44.30" height="43.5"/></clipPath>
<g clip-path="url(#g1_4)">
<rect x="199.90" y="754.40" width="44.30" height="43.50" fill="#1c1c1c" />
<ellipse cx="221.90" cy="776.40" rx="14.00" ry="12.00" fill="rgb(82,82,82)" opacity="1" filter="url(#gb2)"/>
<ellipse cx="214.20" cy="779.40" rx="7.70" ry="4.80" fill="rgb(82,82,82)" opacity="0.8" filter="url(#gb2)" transform="rotate(-20 221.90 776.40)"/>
<ellipse cx="221.90" cy="776.40" rx="8.50" ry="8.00" fill="rgb(185,185,185)" filter="url(#gb)"/>
<ellipse cx="221.90" cy="777.40" rx="4.80" ry="4.00" fill="rgb(80,80,80)" filter="url(#gb)"/>
</g>
<clipPath id="g1_5"><rect x="245.40" y="754.40" width="44.30" height="43.5"/></clipPath>
<g clip-path="url(#g1_5)">
<rect x="245.40" y="754.40" width="44.30" height="43.50" fill="#1c1c1c" />
<ellipse cx="267.40" cy="776.40" rx="14.00" ry="12.00" fill="rgb(82,82,82)" opacity="1" filter="url(#gb2)"/>
<ellipse cx="259.70" cy="779.40" rx="7.70" ry="4.80" fill="rgb(82,82,82)" opacity="0.8" filter="url(#gb2)" transform="rotate(-20 267.40 776.40)"/>
<ellipse cx="266.40" cy="776.40" rx="8.00" ry="8.00" fill="rgb(200,200,200)" filter="url(#gb)"/>
<ellipse cx="266.40" cy="776.40" rx="4.50" ry="4.50" fill="rgb(70,70,70)" filter="url(#gb)"/>
</g>
<clipPath id="g1_6"><rect x="291.00" y="754.40" width="44.30" height="43.5"/></clipPath>
<g clip-path="url(#g1_6)">
<rect x="291.00" y="754.40" width="44.30" height="43.50" fill="#1c1c1c" />
<ellipse cx="311.00" cy="776.40" rx="16.00" ry="13.00" fill="rgb(86,86,86)" opacity="1" filter="url(#gb2)"/>
<ellipse cx="302.20" cy="779.65" rx="8.80" ry="5.20" fill="rgb(86,86,86)" opacity="0.8" filter="url(#gb2)" transform="rotate(-20 311.00 776.40)"/>
<ellipse cx="312.00" cy="776.40" rx="8.00" ry="7.50" fill="rgb(175,175,175)" filter="url(#gb)"/>
<ellipse cx="313.00" cy="776.40" rx="4.50" ry="4.20" fill="rgb(95,95,95)" filter="url(#gb)"/>
</g>
<clipPath id="g1_7"><rect x="336.60" y="754.40" width="44.30" height="43.5"/></clipPath>
<g clip-path="url(#g1_7)">
<rect x="336.60" y="754.40" width="44.30" height="43.50" fill="#1c1c1c" />
<ellipse cx="356.60" cy="776.40" rx="15.00" ry="12.00" fill="rgb(79,79,79)" opacity="1" filter="url(#gb2)"/>
<ellipse cx="348.35" cy="779.40" rx="8.25" ry="4.80" fill="rgb(79,79,79)" opacity="0.8" filter="url(#gb2)" transform="rotate(-20 356.60 776.40)"/>
<ellipse cx="358.60" cy="776.40" rx="5.30" ry="5.00" fill="rgb(225,225,225)" filter="url(#gb)"/>
</g>
<clipPath id="g1_8"><rect x="382.30" y="754.40" width="44.30" height="43.5"/></clipPath>
<g clip-path="url(#g1_8)">
<rect x="382.30" y="754.40" width="44.30" height="43.50" fill="#1c1c1c" />
<ellipse cx="402.30" cy="776.40" rx="15.00" ry="12.00" fill="rgb(82,82,82)" opacity="1" filter="url(#gb2)"/>
<ellipse cx="394.05" cy="779.40" rx="8.25" ry="4.80" fill="rgb(82,82,82)" opacity="0.8" filter="url(#gb2)" transform="rotate(-20 402.30 776.40)"/>
<ellipse cx="404.30" cy="775.40" rx="5.30" ry="5.00" fill="rgb(225,225,225)" filter="url(#gb)"/>
</g>
<clipPath id="g1_9"><rect x="428.00" y="754.40" width="44.30" height="43.5"/></clipPath>
<g clip-path="url(#g1_9)">
<rect x="428.00" y="754.40" width="44.30" height="43.50" fill="#1c1c1c" />
<ellipse cx="449.00" cy="776.40" rx="14.00" ry="12.00" fill="rgb(64,64,64)" opacity="1" filter="url(#gb2)"/>
<ellipse cx="441.30" cy="779.40" rx="7.70" ry="4.80" fill="rgb(64,64,64)" opacity="0.8" filter="url(#gb2)" transform="rotate(-20 449.00 776.40)"/>
<ellipse cx="450.00" cy="776.40" rx="5.30" ry="5.00" fill="rgb(220,220,220)" filter="url(#gb)"/>
</g>
<clipPath id="g1_10"><rect x="474.00" y="754.40" width="44.30" height="43.5"/></clipPath>
<g clip-path="url(#g1_10)">
<rect x="474.00" y="754.40" width="44.30" height="43.50" fill="#1c1c1c" />
<ellipse cx="495.00" cy="776.40" rx="14.00" ry="12.00" fill="rgb(61,61,61)" opacity="1" filter="url(#gb2)"/>
<ellipse cx="487.30" cy="779.40" rx="7.70" ry="4.80" fill="rgb(61,61,61)" opacity="0.8" filter="url(#gb2)" transform="rotate(-20 495.00 776.40)"/>
<ellipse cx="496.00" cy="776.40" rx="5.30" ry="5.00" fill="rgb(215,215,215)" filter="url(#gb)"/>
</g>
<clipPath id="g1_11"><rect x="520.40" y="754.40" width="44.30" height="43.5"/></clipPath>
<g clip-path="url(#g1_11)">
<rect x="520.40" y="754.40" width="44.30" height="43.50" fill="#1c1c1c" />
<ellipse cx="533.30" cy="775.40" rx="4.60" ry="4.40" fill="rgb(240,240,240)" filter="url(#gb)"/>
</g>
<clipPath id="g1_12"><rect x="566.80" y="754.40" width="44.30" height="43.5"/></clipPath>
<g clip-path="url(#g1_12)">
<rect x="566.80" y="754.40" width="44.30" height="43.50" fill="#1c1c1c" />
<ellipse cx="578.30" cy="772.40" rx="7.00" ry="7.00" fill="rgb(50,50,50)" opacity="1" filter="url(#gb2)"/>
<ellipse cx="578.30" cy="772.40" rx="4.50" ry="4.50" fill="rgb(95,95,95)" filter="url(#gb)"/>
</g>
<rect x="44.00" y="742.80" width="16.00" height="1.00" fill="#fff" />
<text x="52.00" y="750.42" font-size="5.5" text-anchor="middle" fill="#fff" >30 μM</text>
<rect x="44.00" y="788.10" width="16.00" height="1.00" fill="#fff" />
<text x="52.00" y="795.73" font-size="5.5" text-anchor="middle" fill="#fff" >30 μM</text>
<text x="0.00" y="831.00" font-size="13.6" text-anchor="start" fill="#000" >H.</text>
<line x1="56.50" y1="841.50" x2="56.50" y2="920.30" stroke="#000" stroke-width="1.1" />
<line x1="56.30" y1="920.50" x2="153.70" y2="920.50" stroke="#000" stroke-width="1.1" />
<line x1="49.80" y1="920.50" x2="56.30" y2="920.50" stroke="#000" stroke-width="1" />
<text x="47.40" y="923.41" font-size="8.9" text-anchor="end" fill="#000" >0</text>
<line x1="49.80" y1="900.50" x2="56.30" y2="900.50" stroke="#000" stroke-width="1" />
<text x="47.40" y="903.84" font-size="8.9" text-anchor="end" fill="#000" >200</text>
<line x1="49.80" y1="881.50" x2="56.30" y2="881.50" stroke="#000" stroke-width="1" />
<text x="47.40" y="884.26" font-size="8.9" text-anchor="end" fill="#000" >400</text>
<line x1="49.80" y1="861.50" x2="56.30" y2="861.50" stroke="#000" stroke-width="1" />
<text x="47.40" y="864.69" font-size="8.9" text-anchor="end" fill="#000" >600</text>
<line x1="49.80" y1="842.50" x2="56.30" y2="842.50" stroke="#000" stroke-width="1" />
<text x="47.40" y="845.12" font-size="8.9" text-anchor="end" fill="#000" >800</text>
<text x="28.30" y="886.00" font-size="8.9" text-anchor="middle" fill="#000" transform="rotate(-90 28.30 886.00)" >CCL5  (pg/ml)</text>
<circle cx="61.00" cy="918.30" r="2.20" fill="#000"/>
<rect x="65.80" y="907.10" width="5.00" height="13.20" fill="#0a2cff" stroke="#000" stroke-width="0.8" />
<line x1="68.50" y1="904.60" x2="68.50" y2="908.35" stroke="#000" stroke-width="0.8" />
<line x1="66.90" y1="904.50" x2="69.70" y2="904.50" stroke="#000" stroke-width="0.8" />
<rect x="66.20" y="904.00" width="4.20" height="4.20" fill="#000"/>
<rect x="66.20" y="907.20" width="4.20" height="4.20" fill="#000"/>
<rect x="66.30" y="909.90" width="4.00" height="4.00" fill="#000"/>
<rect x="73.50" y="905.30" width="5.00" height="15.00" fill="#ff2400" stroke="#000" stroke-width="0.8" />
<line x1="76.50" y1="902.80" x2="76.50" y2="906.55" stroke="#000" stroke-width="0.8" />
<line x1="74.60" y1="902.50" x2="77.40" y2="902.50" stroke="#000" stroke-width="0.8" />
<path d="M74.02,905.42L77.98,905.42L76.00,901.82Z" fill="#000"/>
<path d="M74.02,908.92L77.98,908.92L76.00,905.32Z" fill="#000"/>
<path d="M81.20,918.50L83.60,916.10L86.00,918.50L83.60,920.90Z" fill="#000"/>
<rect x="88.40" y="873.80" width="5.00" height="46.50" fill="#0a2cff" stroke="#000" stroke-width="0.8" />
<line x1="90.50" y1="871.01" x2="90.50" y2="875.19" stroke="#000" stroke-width="0.8" />
<line x1="89.50" y1="871.50" x2="92.30" y2="871.50" stroke="#000" stroke-width="0.8" />
<circle cx="90.90" cy="871.85" r="1.9" fill="none" stroke="#000" stroke-width="0.8"/>
<circle cx="90.90" cy="876.30" r="1.50" fill="#000"/>
<rect x="96.00" y="856.30" width="5.00" height="64.00" fill="#ff2400" stroke="#000" stroke-width="0.8" />
<line x1="98.50" y1="852.46" x2="98.50" y2="858.22" stroke="#000" stroke-width="0.8" />
<line x1="97.10" y1="852.50" x2="99.90" y2="852.50" stroke="#000" stroke-width="0.8" />
<rect x="96.60" y="850.94" width="3.8" height="3.8" fill="none" stroke="#000" stroke-width="0.8"/>
<rect x="97.00" y="857.30" width="3.00" height="3.00" fill="#000"/>
<circle cx="110.90" cy="918.30" r="2.20" fill="#000"/>
<rect x="116.00" y="914.20" width="5.00" height="6.10" fill="#0a2cff" stroke="#000" stroke-width="0.8" />
<line x1="118.50" y1="911.70" x2="118.50" y2="915.45" stroke="#000" stroke-width="0.8" />
<line x1="117.10" y1="911.50" x2="119.90" y2="911.50" stroke="#000" stroke-width="0.8" />
<rect x="116.40" y="911.10" width="4.20" height="4.20" fill="#000"/>
<rect x="116.40" y="914.30" width="4.20" height="4.20" fill="#000"/>
<rect x="116.50" y="917.00" width="4.00" height="4.00" fill="#000"/>
<rect x="123.60" y="913.40" width="5.00" height="6.90" fill="#ff2400" stroke="#000" stroke-width="0.8" />
<line x1="126.50" y1="910.90" x2="126.50" y2="914.65" stroke="#000" stroke-width="0.8" />
<line x1="124.70" y1="910.50" x2="127.50" y2="910.50" stroke="#000" stroke-width="0.8" />
<path d="M124.12,913.52L128.08,913.52L126.10,909.92Z" fill="#000"/>
<path d="M124.12,917.02L128.08,917.02L126.10,913.42Z" fill="#000"/>
<path d="M131.10,918.50L133.50,916.10L135.90,918.50L133.50,920.90Z" fill="#000"/>
<rect x="138.30" y="912.40" width="5.00" height="7.90" fill="#0a2cff" stroke="#000" stroke-width="0.8" />
<line x1="140.50" y1="909.90" x2="140.50" y2="913.65" stroke="#000" stroke-width="0.8" />
<line x1="139.40" y1="909.50" x2="142.20" y2="909.50" stroke="#000" stroke-width="0.8" />
<circle cx="140.80" cy="910.65" r="1.9" fill="none" stroke="#000" stroke-width="0.8"/>
<circle cx="140.80" cy="914.90" r="1.50" fill="#000"/>
<rect x="145.90" y="910.40" width="5.00" height="9.90" fill="#ff2400" stroke="#000" stroke-width="0.8" />
<line x1="148.50" y1="907.90" x2="148.50" y2="911.65" stroke="#000" stroke-width="0.8" />
<line x1="147.00" y1="907.50" x2="149.80" y2="907.50" stroke="#000" stroke-width="0.8" />
<rect x="146.50" y="906.25" width="3.8" height="3.8" fill="none" stroke="#000" stroke-width="0.8"/>
<rect x="146.90" y="911.40" width="3.00" height="3.00" fill="#000"/>
<line x1="61.70" y1="895.50" x2="76.20" y2="895.50" stroke="#000" stroke-width="0.9" />
<text x="68.95" y="896.50" font-size="7.5" text-anchor="middle" fill="#000" >**</text>
<line x1="68.80" y1="862.50" x2="91.40" y2="862.50" stroke="#000" stroke-width="0.9" />
<text x="80.10" y="863.70" font-size="7.5" text-anchor="middle" fill="#000" >***</text>
<line x1="75.40" y1="846.50" x2="97.20" y2="846.50" stroke="#000" stroke-width="0.9" />
<text x="86.30" y="847.90" font-size="7.5" text-anchor="middle" fill="#000" >***</text>
<line x1="90.60" y1="839.50" x2="141.90" y2="839.50" stroke="#000" stroke-width="0.9" />
<text x="116.25" y="840.80" font-size="7.5" text-anchor="middle" fill="#000" >***</text>
<line x1="99.80" y1="846.50" x2="150.30" y2="846.50" stroke="#000" stroke-width="0.9" />
<text x="125.05" y="847.90" font-size="7.5" text-anchor="middle" fill="#000" >***</text>
<text x="56.00" y="931.84" font-size="8.1" text-anchor="end" fill="#000" >talazoparib:</text>
<text x="56.00" y="941.24" font-size="8.1" text-anchor="end" fill="#000" >BAY 11-7082:</text>
<text x="61.00" y="931.98" font-size="8.5" text-anchor="middle" fill="#000" >-</text>
<text x="61.00" y="941.38" font-size="8.5" text-anchor="middle" fill="#000" >-</text>
<text x="68.30" y="931.98" font-size="8.5" text-anchor="middle" fill="#000" >-</text>
<text x="68.30" y="941.38" font-size="8.5" text-anchor="middle" fill="#000" >-</text>
<text x="76.00" y="931.98" font-size="8.5" text-anchor="middle" fill="#000" >-</text>
<text x="76.00" y="941.38" font-size="8.5" text-anchor="middle" fill="#000" >-</text>
<text x="83.60" y="931.98" font-size="8.5" text-anchor="middle" fill="#000" >+</text>
<text x="83.60" y="941.38" font-size="8.5" text-anchor="middle" fill="#000" >-</text>
<text x="90.90" y="931.98" font-size="8.5" text-anchor="middle" fill="#000" >+</text>
<text x="90.90" y="941.38" font-size="8.5" text-anchor="middle" fill="#000" >-</text>
<text x="98.50" y="931.98" font-size="8.5" text-anchor="middle" fill="#000" >+</text>
<text x="98.50" y="941.38" font-size="8.5" text-anchor="middle" fill="#000" >-</text>
<text x="110.90" y="931.98" font-size="8.5" text-anchor="middle" fill="#000" >-</text>
<text x="110.90" y="941.38" font-size="8.5" text-anchor="middle" fill="#000" >+</text>
<text x="118.50" y="931.98" font-size="8.5" text-anchor="middle" fill="#000" >-</text>
<text x="118.50" y="941.38" font-size="8.5" text-anchor="middle" fill="#000" >+</text>
<text x="126.10" y="931.98" font-size="8.5" text-anchor="middle" fill="#000" >-</text>
<text x="126.10" y="941.38" font-size="8.5" text-anchor="middle" fill="#000" >+</text>
<text x="133.50" y="931.98" font-size="8.5" text-anchor="middle" fill="#000" >+</text>
<text x="133.50" y="941.38" font-size="8.5" text-anchor="middle" fill="#000" >+</text>
<text x="140.80" y="931.98" font-size="8.5" text-anchor="middle" fill="#000" >+</text>
<text x="140.80" y="941.38" font-size="8.5" text-anchor="middle" fill="#000" >+</text>
<text x="148.40" y="931.98" font-size="8.5" text-anchor="middle" fill="#000" >+</text>
<text x="148.40" y="941.38" font-size="8.5" text-anchor="middle" fill="#000" >+</text>
<line x1="213.50" y1="841.50" x2="213.50" y2="920.30" stroke="#000" stroke-width="1.1" />
<line x1="213.90" y1="920.50" x2="311.10" y2="920.50" stroke="#000" stroke-width="1.1" />
<line x1="207.40" y1="920.50" x2="213.90" y2="920.50" stroke="#000" stroke-width="1" />
<text x="205.00" y="923.41" font-size="8.9" text-anchor="end" fill="#000" >0</text>
<line x1="207.40" y1="900.50" x2="213.90" y2="900.50" stroke="#000" stroke-width="1" />
<text x="205.00" y="903.84" font-size="8.9" text-anchor="end" fill="#000" >500</text>
<line x1="207.40" y1="881.50" x2="213.90" y2="881.50" stroke="#000" stroke-width="1" />
<text x="205.00" y="884.26" font-size="8.9" text-anchor="end" fill="#000" >1000</text>
<line x1="207.40" y1="861.50" x2="213.90" y2="861.50" stroke="#000" stroke-width="1" />
<text x="205.00" y="864.69" font-size="8.9" text-anchor="end" fill="#000" >1500</text>
<line x1="207.40" y1="842.50" x2="213.90" y2="842.50" stroke="#000" stroke-width="1" />
<text x="205.00" y="845.12" font-size="8.9" text-anchor="end" fill="#000" >2000</text>
<text x="182.90" y="886.00" font-size="8.9" text-anchor="middle" fill="#000" transform="rotate(-90 182.90 886.00)" >CXCL8  (pg/ml)</text>
<circle cx="218.30" cy="918.30" r="2.20" fill="#000"/>
<rect x="224.10" y="892.10" width="5.00" height="28.20" fill="#0a2cff" stroke="#000" stroke-width="0.8" />
<line x1="226.50" y1="889.60" x2="226.50" y2="893.35" stroke="#000" stroke-width="0.8" />
<line x1="225.20" y1="889.50" x2="228.00" y2="889.50" stroke="#000" stroke-width="0.8" />
<rect x="224.50" y="889.00" width="4.20" height="4.20" fill="#000"/>
<rect x="224.50" y="892.20" width="4.20" height="4.20" fill="#000"/>
<rect x="224.60" y="894.90" width="4.00" height="4.00" fill="#000"/>
<rect x="231.10" y="875.00" width="5.00" height="45.30" fill="#ff2400" stroke="#000" stroke-width="0.8" />
<line x1="233.50" y1="872.28" x2="233.50" y2="876.36" stroke="#000" stroke-width="0.8" />
<line x1="232.20" y1="872.50" x2="235.00" y2="872.50" stroke="#000" stroke-width="0.8" />
<path d="M231.62,874.99L235.58,874.99L233.60,871.39Z" fill="#000"/>
<path d="M231.62,878.62L235.58,878.62L233.60,875.02Z" fill="#000"/>
<path d="M238.50,918.50L240.90,916.10L243.30,918.50L240.90,920.90Z" fill="#000"/>
<rect x="246.10" y="890.10" width="5.00" height="30.20" fill="#0a2cff" stroke="#000" stroke-width="0.8" />
<line x1="248.50" y1="887.60" x2="248.50" y2="891.35" stroke="#000" stroke-width="0.8" />
<line x1="247.20" y1="887.50" x2="250.00" y2="887.50" stroke="#000" stroke-width="0.8" />
<circle cx="248.60" cy="888.35" r="1.9" fill="none" stroke="#000" stroke-width="0.8"/>
<circle cx="248.60" cy="892.60" r="1.50" fill="#000"/>
<rect x="253.80" y="865.00" width="5.00" height="55.30" fill="#ff2400" stroke="#000" stroke-width="0.8" />
<line x1="256.50" y1="861.68" x2="256.50" y2="866.66" stroke="#000" stroke-width="0.8" />
<line x1="254.90" y1="861.50" x2="257.70" y2="861.50" stroke="#000" stroke-width="0.8" />
<rect x="254.40" y="860.11" width="3.8" height="3.8" fill="none" stroke="#000" stroke-width="0.8"/>
<rect x="254.80" y="866.00" width="3.00" height="3.00" fill="#000"/>
<circle cx="267.70" cy="918.30" r="2.20" fill="#000"/>
<rect x="273.50" y="905.90" width="5.00" height="14.40" fill="#0a2cff" stroke="#000" stroke-width="0.8" />
<line x1="276.50" y1="903.40" x2="276.50" y2="907.15" stroke="#000" stroke-width="0.8" />
<line x1="274.60" y1="903.50" x2="277.40" y2="903.50" stroke="#000" stroke-width="0.8" />
<rect x="273.90" y="902.80" width="4.20" height="4.20" fill="#000"/>
<rect x="273.90" y="906.00" width="4.20" height="4.20" fill="#000"/>
<rect x="274.00" y="908.70" width="4.00" height="4.00" fill="#000"/>
<rect x="281.00" y="899.30" width="5.00" height="21.00" fill="#ff2400" stroke="#000" stroke-width="0.8" />
<line x1="283.50" y1="896.80" x2="283.50" y2="900.55" stroke="#000" stroke-width="0.8" />
<line x1="282.10" y1="896.50" x2="284.90" y2="896.50" stroke="#000" stroke-width="0.8" />
<path d="M281.52,899.42L285.48,899.42L283.50,895.82Z" fill="#000"/>
<path d="M281.52,902.92L285.48,902.92L283.50,899.32Z" fill="#000"/>
<path d="M288.40,918.50L290.80,916.10L293.20,918.50L290.80,920.90Z" fill="#000"/>
<rect x="295.90" y="904.60" width="5.00" height="15.70" fill="#0a2cff" stroke="#000" stroke-width="0.8" />
<line x1="298.50" y1="902.10" x2="298.50" y2="905.85" stroke="#000" stroke-width="0.8" />
<line x1="297.00" y1="902.50" x2="299.80" y2="902.50" stroke="#000" stroke-width="0.8" />
<circle cx="298.40" cy="902.85" r="1.9" fill="none" stroke="#000" stroke-width="0.8"/>
<circle cx="298.40" cy="907.10" r="1.50" fill="#000"/>
<rect x="303.20" y="898.00" width="5.00" height="22.30" fill="#ff2400" stroke="#000" stroke-width="0.8" />
<line x1="305.50" y1="895.50" x2="305.50" y2="899.25" stroke="#000" stroke-width="0.8" />
<line x1="304.30" y1="895.50" x2="307.10" y2="895.50" stroke="#000" stroke-width="0.8" />
<rect x="303.80" y="893.85" width="3.8" height="3.8" fill="none" stroke="#000" stroke-width="0.8"/>
<rect x="304.20" y="899.00" width="3.00" height="3.00" fill="#000"/>
<line x1="219.10" y1="870.50" x2="233.60" y2="870.50" stroke="#000" stroke-width="0.9" />
<text x="226.35" y="871.80" font-size="7.5" text-anchor="middle" fill="#000" >***</text>
<line x1="248.80" y1="847.50" x2="299.30" y2="847.50" stroke="#000" stroke-width="0.9" />
<text x="274.05" y="848.70" font-size="7.5" text-anchor="middle" fill="#000" >***</text>
<line x1="257.70" y1="854.50" x2="307.70" y2="854.50" stroke="#000" stroke-width="0.9" />
<text x="282.70" y="856.10" font-size="7.5" text-anchor="middle" fill="#000" >***</text>
<text x="215.40" y="933.74" font-size="8.1" text-anchor="end" fill="#000" >talazoparib:</text>
<text x="215.40" y="943.54" font-size="8.1" text-anchor="end" fill="#000" >BAY 11-7082:</text>
<text x="218.30" y="933.88" font-size="8.5" text-anchor="middle" fill="#000" >-</text>
<text x="218.30" y="943.68" font-size="8.5" text-anchor="middle" fill="#000" >-</text>
<text x="226.60" y="933.88" font-size="8.5" text-anchor="middle" fill="#000" >-</text>
<text x="226.60" y="943.68" font-size="8.5" text-anchor="middle" fill="#000" >-</text>
<text x="233.60" y="933.88" font-size="8.5" text-anchor="middle" fill="#000" >-</text>
<text x="233.60" y="943.68" font-size="8.5" text-anchor="middle" fill="#000" >-</text>
<text x="240.90" y="933.88" font-size="8.5" text-anchor="middle" fill="#000" >+</text>
<text x="240.90" y="943.68" font-size="8.5" text-anchor="middle" fill="#000" >-</text>
<text x="248.60" y="933.88" font-size="8.5" text-anchor="middle" fill="#000" >+</text>
<text x="248.60" y="943.68" font-size="8.5" text-anchor="middle" fill="#000" >-</text>
<text x="256.30" y="933.88" font-size="8.5" text-anchor="middle" fill="#000" >+</text>
<text x="256.30" y="943.68" font-size="8.5" text-anchor="middle" fill="#000" >-</text>
<text x="267.70" y="933.88" font-size="8.5" text-anchor="middle" fill="#000" >-</text>
<text x="267.70" y="943.68" font-size="8.5" text-anchor="middle" fill="#000" >+</text>
<text x="276.00" y="933.88" font-size="8.5" text-anchor="middle" fill="#000" >-</text>
<text x="276.00" y="943.68" font-size="8.5" text-anchor="middle" fill="#000" >+</text>
<text x="283.50" y="933.88" font-size="8.5" text-anchor="middle" fill="#000" >-</text>
<text x="283.50" y="943.68" font-size="8.5" text-anchor="middle" fill="#000" >+</text>
<text x="290.80" y="933.88" font-size="8.5" text-anchor="middle" fill="#000" >+</text>
<text x="290.80" y="943.68" font-size="8.5" text-anchor="middle" fill="#000" >+</text>
<text x="298.40" y="933.88" font-size="8.5" text-anchor="middle" fill="#000" >+</text>
<text x="298.40" y="943.68" font-size="8.5" text-anchor="middle" fill="#000" >+</text>
<text x="305.70" y="933.88" font-size="8.5" text-anchor="middle" fill="#000" >+</text>
<text x="305.70" y="943.68" font-size="8.5" text-anchor="middle" fill="#000" >+</text>
<line x1="375.50" y1="841.60" x2="375.50" y2="920.30" stroke="#000" stroke-width="1.1" />
<line x1="375.40" y1="920.50" x2="472.70" y2="920.50" stroke="#000" stroke-width="1.1" />
<line x1="368.90" y1="920.50" x2="375.40" y2="920.50" stroke="#000" stroke-width="1" />
<text x="366.50" y="923.41" font-size="8.9" text-anchor="end" fill="#000" >0</text>
<line x1="368.90" y1="894.50" x2="375.40" y2="894.50" stroke="#000" stroke-width="1" />
<text x="366.50" y="897.35" font-size="8.9" text-anchor="end" fill="#000" >500</text>
<line x1="368.90" y1="868.50" x2="375.40" y2="868.50" stroke="#000" stroke-width="1" />
<text x="366.50" y="871.28" font-size="8.9" text-anchor="end" fill="#000" >1000</text>
<line x1="368.90" y1="842.50" x2="375.40" y2="842.50" stroke="#000" stroke-width="1" />
<text x="366.50" y="845.22" font-size="8.9" text-anchor="end" fill="#000" >1500</text>
<text x="343.70" y="886.00" font-size="8.9" text-anchor="middle" fill="#000" transform="rotate(-90 343.70 886.00)" >CXCL1  (pg/ml)</text>
<circle cx="379.90" cy="918.30" r="2.20" fill="#000"/>
<rect x="385.10" y="901.20" width="5.00" height="19.10" fill="#0a2cff" stroke="#000" stroke-width="0.8" />
<line x1="387.50" y1="898.70" x2="387.50" y2="902.45" stroke="#000" stroke-width="0.8" />
<line x1="386.20" y1="898.50" x2="389.00" y2="898.50" stroke="#000" stroke-width="0.8" />
<rect x="385.50" y="898.10" width="4.20" height="4.20" fill="#000"/>
<rect x="385.50" y="901.30" width="4.20" height="4.20" fill="#000"/>
<rect x="385.60" y="904.00" width="4.00" height="4.00" fill="#000"/>
<rect x="392.40" y="889.30" width="5.00" height="31.00" fill="#ff2400" stroke="#000" stroke-width="0.8" />
<line x1="394.50" y1="886.80" x2="394.50" y2="890.55" stroke="#000" stroke-width="0.8" />
<line x1="393.50" y1="886.50" x2="396.30" y2="886.50" stroke="#000" stroke-width="0.8" />
<path d="M392.92,889.42L396.88,889.42L394.90,885.82Z" fill="#000"/>
<path d="M392.92,892.92L396.88,892.92L394.90,889.32Z" fill="#000"/>
<path d="M399.90,918.50L402.30,916.10L404.70,918.50L402.30,920.90Z" fill="#000"/>
<rect x="407.40" y="879.20" width="5.00" height="41.10" fill="#0a2cff" stroke="#000" stroke-width="0.8" />
<line x1="409.50" y1="876.70" x2="409.50" y2="880.45" stroke="#000" stroke-width="0.8" />
<line x1="408.50" y1="876.50" x2="411.30" y2="876.50" stroke="#000" stroke-width="0.8" />
<circle cx="409.90" cy="877.45" r="1.9" fill="none" stroke="#000" stroke-width="0.8"/>
<circle cx="409.90" cy="881.70" r="1.50" fill="#000"/>
<rect x="415.30" y="860.00" width="5.00" height="60.30" fill="#ff2400" stroke="#000" stroke-width="0.8" />
<line x1="417.50" y1="856.38" x2="417.50" y2="861.81" stroke="#000" stroke-width="0.8" />
<line x1="416.40" y1="856.50" x2="419.20" y2="856.50" stroke="#000" stroke-width="0.8" />
<rect x="415.90" y="854.84" width="3.8" height="3.8" fill="none" stroke="#000" stroke-width="0.8"/>
<rect x="416.30" y="861.00" width="3.00" height="3.00" fill="#000"/>
<circle cx="429.80" cy="918.30" r="2.20" fill="#000"/>
<rect x="435.00" y="913.30" width="5.00" height="7.00" fill="#0a2cff" stroke="#000" stroke-width="0.8" />
<line x1="437.50" y1="910.80" x2="437.50" y2="914.55" stroke="#000" stroke-width="0.8" />
<line x1="436.10" y1="910.50" x2="438.90" y2="910.50" stroke="#000" stroke-width="0.8" />
<rect x="435.40" y="910.20" width="4.20" height="4.20" fill="#000"/>
<rect x="435.40" y="913.40" width="4.20" height="4.20" fill="#000"/>
<rect x="435.50" y="916.10" width="4.00" height="4.00" fill="#000"/>
<rect x="442.70" y="911.20" width="5.00" height="9.10" fill="#ff2400" stroke="#000" stroke-width="0.8" />
<line x1="445.50" y1="908.70" x2="445.50" y2="912.45" stroke="#000" stroke-width="0.8" />
<line x1="443.80" y1="908.50" x2="446.60" y2="908.50" stroke="#000" stroke-width="0.8" />
<path d="M443.22,911.32L447.18,911.32L445.20,907.72Z" fill="#000"/>
<path d="M443.22,914.82L447.18,914.82L445.20,911.22Z" fill="#000"/>
<path d="M449.80,918.50L452.20,916.10L454.60,918.50L452.20,920.90Z" fill="#000"/>
<rect x="457.30" y="896.20" width="5.00" height="24.10" fill="#0a2cff" stroke="#000" stroke-width="0.8" />
<line x1="459.50" y1="893.70" x2="459.50" y2="897.45" stroke="#000" stroke-width="0.8" />
<line x1="458.40" y1="893.50" x2="461.20" y2="893.50" stroke="#000" stroke-width="0.8" />
<circle cx="459.80" cy="894.45" r="1.9" fill="none" stroke="#000" stroke-width="0.8"/>
<circle cx="459.80" cy="898.70" r="1.50" fill="#000"/>
<rect x="464.80" y="894.10" width="5.00" height="26.20" fill="#ff2400" stroke="#000" stroke-width="0.8" />
<line x1="467.50" y1="891.60" x2="467.50" y2="895.35" stroke="#000" stroke-width="0.8" />
<line x1="465.90" y1="891.50" x2="468.70" y2="891.50" stroke="#000" stroke-width="0.8" />
<rect x="465.40" y="889.95" width="3.8" height="3.8" fill="none" stroke="#000" stroke-width="0.8"/>
<rect x="465.80" y="895.10" width="3.00" height="3.00" fill="#000"/>
<line x1="381.20" y1="880.50" x2="395.70" y2="880.50" stroke="#000" stroke-width="0.9" />
<text x="388.45" y="881.60" font-size="7.5" text-anchor="middle" fill="#000" >***</text>
<line x1="387.80" y1="861.50" x2="410.10" y2="861.50" stroke="#000" stroke-width="0.9" />
<text x="398.95" y="863.20" font-size="7.5" text-anchor="middle" fill="#000" >**</text>
<line x1="394.40" y1="846.50" x2="416.70" y2="846.50" stroke="#000" stroke-width="0.9" />
<text x="405.55" y="847.40" font-size="7.5" text-anchor="middle" fill="#000" >**</text>
<line x1="410.10" y1="838.50" x2="460.60" y2="838.50" stroke="#000" stroke-width="0.9" />
<text x="435.35" y="839.50" font-size="7.5" text-anchor="middle" fill="#000" >***</text>
<line x1="419.30" y1="846.50" x2="469.30" y2="846.50" stroke="#000" stroke-width="0.9" />
<text x="444.30" y="847.40" font-size="7.5" text-anchor="middle" fill="#000" >***</text>
<text x="375.40" y="929.54" font-size="8.1" text-anchor="end" fill="#000" >talazoparib:</text>
<text x="375.40" y="940.54" font-size="8.1" text-anchor="end" fill="#000" >BAY 11-7082:</text>
<text x="379.90" y="929.68" font-size="8.5" text-anchor="middle" fill="#000" >-</text>
<text x="379.90" y="940.68" font-size="8.5" text-anchor="middle" fill="#000" >-</text>
<text x="387.60" y="929.68" font-size="8.5" text-anchor="middle" fill="#000" >-</text>
<text x="387.60" y="940.68" font-size="8.5" text-anchor="middle" fill="#000" >-</text>
<text x="394.90" y="929.68" font-size="8.5" text-anchor="middle" fill="#000" >-</text>
<text x="394.90" y="940.68" font-size="8.5" text-anchor="middle" fill="#000" >-</text>
<text x="402.30" y="929.68" font-size="8.5" text-anchor="middle" fill="#000" >+</text>
<text x="402.30" y="940.68" font-size="8.5" text-anchor="middle" fill="#000" >-</text>
<text x="409.90" y="929.68" font-size="8.5" text-anchor="middle" fill="#000" >+</text>
<text x="409.90" y="940.68" font-size="8.5" text-anchor="middle" fill="#000" >-</text>
<text x="417.80" y="929.68" font-size="8.5" text-anchor="middle" fill="#000" >+</text>
<text x="417.80" y="940.68" font-size="8.5" text-anchor="middle" fill="#000" >-</text>
<text x="429.80" y="929.68" font-size="8.5" text-anchor="middle" fill="#000" >-</text>
<text x="429.80" y="940.68" font-size="8.5" text-anchor="middle" fill="#000" >+</text>
<text x="437.50" y="929.68" font-size="8.5" text-anchor="middle" fill="#000" >-</text>
<text x="437.50" y="940.68" font-size="8.5" text-anchor="middle" fill="#000" >+</text>
<text x="445.20" y="929.68" font-size="8.5" text-anchor="middle" fill="#000" >-</text>
<text x="445.20" y="940.68" font-size="8.5" text-anchor="middle" fill="#000" >+</text>
<text x="452.20" y="929.68" font-size="8.5" text-anchor="middle" fill="#000" >+</text>
<text x="452.20" y="940.68" font-size="8.5" text-anchor="middle" fill="#000" >+</text>
<text x="459.80" y="929.68" font-size="8.5" text-anchor="middle" fill="#000" >+</text>
<text x="459.80" y="940.68" font-size="8.5" text-anchor="middle" fill="#000" >+</text>
<text x="467.30" y="929.68" font-size="8.5" text-anchor="middle" fill="#000" >+</text>
<text x="467.30" y="940.68" font-size="8.5" text-anchor="middle" fill="#000" >+</text>
<line x1="534.50" y1="841.60" x2="534.50" y2="920.30" stroke="#000" stroke-width="1.1" />
<line x1="534.80" y1="920.50" x2="629.70" y2="920.50" stroke="#000" stroke-width="1.1" />
<line x1="528.30" y1="920.50" x2="534.80" y2="920.50" stroke="#000" stroke-width="1" />
<text x="525.90" y="923.41" font-size="8.9" text-anchor="end" fill="#000" >0</text>
<line x1="528.30" y1="894.50" x2="534.80" y2="894.50" stroke="#000" stroke-width="1" />
<text x="525.90" y="897.35" font-size="8.9" text-anchor="end" fill="#000" >500</text>
<line x1="528.30" y1="868.50" x2="534.80" y2="868.50" stroke="#000" stroke-width="1" />
<text x="525.90" y="871.28" font-size="8.9" text-anchor="end" fill="#000" >1000</text>
<line x1="528.30" y1="842.50" x2="534.80" y2="842.50" stroke="#000" stroke-width="1" />
<text x="525.90" y="845.22" font-size="8.9" text-anchor="end" fill="#000" >1500</text>
<text x="500.50" y="886.00" font-size="8.9" text-anchor="middle" fill="#000" transform="rotate(-90 500.50 886.00)" >CXCL10 (pg/ml)</text>
<circle cx="539.30" cy="918.30" r="2.20" fill="#000"/>
<rect x="544.10" y="902.00" width="5.00" height="18.30" fill="#0a2cff" stroke="#000" stroke-width="0.8" />
<line x1="546.50" y1="899.50" x2="546.50" y2="903.25" stroke="#000" stroke-width="0.8" />
<line x1="545.20" y1="899.50" x2="548.00" y2="899.50" stroke="#000" stroke-width="0.8" />
<rect x="544.50" y="898.90" width="4.20" height="4.20" fill="#000"/>
<rect x="544.50" y="902.10" width="4.20" height="4.20" fill="#000"/>
<rect x="544.60" y="904.80" width="4.00" height="4.00" fill="#000"/>
<rect x="551.50" y="889.10" width="5.00" height="31.20" fill="#ff2400" stroke="#000" stroke-width="0.8" />
<line x1="554.50" y1="886.60" x2="554.50" y2="890.35" stroke="#000" stroke-width="0.8" />
<line x1="552.60" y1="886.50" x2="555.40" y2="886.50" stroke="#000" stroke-width="0.8" />
<path d="M552.02,889.22L555.98,889.22L554.00,885.62Z" fill="#000"/>
<path d="M552.02,892.72L555.98,892.72L554.00,889.12Z" fill="#000"/>
<path d="M559.30,918.50L561.70,916.10L564.10,918.50L561.70,920.90Z" fill="#000"/>
<rect x="566.50" y="879.90" width="5.00" height="40.40" fill="#0a2cff" stroke="#000" stroke-width="0.8" />
<line x1="569.50" y1="877.40" x2="569.50" y2="881.15" stroke="#000" stroke-width="0.8" />
<line x1="567.60" y1="877.50" x2="570.40" y2="877.50" stroke="#000" stroke-width="0.8" />
<circle cx="569.00" cy="878.15" r="1.9" fill="none" stroke="#000" stroke-width="0.8"/>
<circle cx="569.00" cy="882.40" r="1.50" fill="#000"/>
<rect x="574.30" y="856.30" width="5.00" height="64.00" fill="#ff2400" stroke="#000" stroke-width="0.8" />
<line x1="576.50" y1="852.46" x2="576.50" y2="858.22" stroke="#000" stroke-width="0.8" />
<line x1="575.40" y1="852.50" x2="578.20" y2="852.50" stroke="#000" stroke-width="0.8" />
<rect x="574.90" y="850.94" width="3.8" height="3.8" fill="none" stroke="#000" stroke-width="0.8"/>
<rect x="575.30" y="857.30" width="3.00" height="3.00" fill="#000"/>
<circle cx="589.20" cy="918.30" r="2.20" fill="#000"/>
<rect x="594.30" y="914.80" width="5.00" height="5.50" fill="#0a2cff" stroke="#000" stroke-width="0.8" />
<line x1="596.50" y1="912.30" x2="596.50" y2="916.05" stroke="#000" stroke-width="0.8" />
<line x1="595.40" y1="912.50" x2="598.20" y2="912.50" stroke="#000" stroke-width="0.8" />
<rect x="594.70" y="911.70" width="4.20" height="4.20" fill="#000"/>
<rect x="594.70" y="914.90" width="4.20" height="4.20" fill="#000"/>
<rect x="594.80" y="917.60" width="4.00" height="4.00" fill="#000"/>
<rect x="602.50" y="914.80" width="5.00" height="5.50" fill="#ff2400" stroke="#000" stroke-width="0.8" />
<line x1="605.50" y1="912.30" x2="605.50" y2="916.05" stroke="#000" stroke-width="0.8" />
<line x1="603.60" y1="912.50" x2="606.40" y2="912.50" stroke="#000" stroke-width="0.8" />
<path d="M603.02,914.92L606.98,914.92L605.00,911.32Z" fill="#000"/>
<path d="M603.02,918.42L606.98,918.42L605.00,914.82Z" fill="#000"/>
<path d="M609.30,918.50L611.70,916.10L614.10,918.50L611.70,920.90Z" fill="#000"/>
<rect x="616.80" y="907.30" width="5.00" height="13.00" fill="#0a2cff" stroke="#000" stroke-width="0.8" />
<line x1="619.50" y1="904.80" x2="619.50" y2="908.55" stroke="#000" stroke-width="0.8" />
<line x1="617.90" y1="904.50" x2="620.70" y2="904.50" stroke="#000" stroke-width="0.8" />
<circle cx="619.30" cy="905.55" r="1.9" fill="none" stroke="#000" stroke-width="0.8"/>
<circle cx="619.30" cy="909.80" r="1.50" fill="#000"/>
<rect x="624.90" y="893.80" width="5.00" height="26.50" fill="#ff2400" stroke="#000" stroke-width="0.8" />
<line x1="627.50" y1="891.30" x2="627.50" y2="895.05" stroke="#000" stroke-width="0.8" />
<line x1="626.00" y1="891.50" x2="628.80" y2="891.50" stroke="#000" stroke-width="0.8" />
<rect x="625.50" y="889.65" width="3.8" height="3.8" fill="none" stroke="#000" stroke-width="0.8"/>
<rect x="625.90" y="894.80" width="3.00" height="3.00" fill="#000"/>
<line x1="539.90" y1="882.50" x2="554.80" y2="882.50" stroke="#000" stroke-width="0.9" />
<text x="547.35" y="884.10" font-size="7.5" text-anchor="middle" fill="#000" >***</text>
<line x1="547.30" y1="862.50" x2="569.80" y2="862.50" stroke="#000" stroke-width="0.9" />
<text x="558.55" y="863.80" font-size="7.5" text-anchor="middle" fill="#000" >**</text>
<line x1="553.30" y1="844.50" x2="577.30" y2="844.50" stroke="#000" stroke-width="0.9" />
<text x="565.30" y="845.80" font-size="7.5" text-anchor="middle" fill="#000" >**</text>
<line x1="569.20" y1="836.50" x2="620.10" y2="836.50" stroke="#000" stroke-width="0.9" />
<text x="594.65" y="838.30" font-size="7.5" text-anchor="middle" fill="#000" >***</text>
<line x1="578.80" y1="844.50" x2="629.10" y2="844.50" stroke="#000" stroke-width="0.9" />
<text x="603.95" y="845.80" font-size="7.5" text-anchor="middle" fill="#000" >***</text>
<text x="535.40" y="931.04" font-size="8.1" text-anchor="end" fill="#000" >talazoparib:</text>
<text x="535.40" y="942.44" font-size="8.1" text-anchor="end" fill="#000" >BAY 11-7082:</text>
<text x="539.30" y="931.18" font-size="8.5" text-anchor="middle" fill="#000" >-</text>
<text x="539.30" y="942.58" font-size="8.5" text-anchor="middle" fill="#000" >-</text>
<text x="546.60" y="931.18" font-size="8.5" text-anchor="middle" fill="#000" >-</text>
<text x="546.60" y="942.58" font-size="8.5" text-anchor="middle" fill="#000" >-</text>
<text x="554.00" y="931.18" font-size="8.5" text-anchor="middle" fill="#000" >-</text>
<text x="554.00" y="942.58" font-size="8.5" text-anchor="middle" fill="#000" >-</text>
<text x="561.70" y="931.18" font-size="8.5" text-anchor="middle" fill="#000" >+</text>
<text x="561.70" y="942.58" font-size="8.5" text-anchor="middle" fill="#000" >-</text>
<text x="569.00" y="931.18" font-size="8.5" text-anchor="middle" fill="#000" >+</text>
<text x="569.00" y="942.58" font-size="8.5" text-anchor="middle" fill="#000" >-</text>
<text x="576.80" y="931.18" font-size="8.5" text-anchor="middle" fill="#000" >+</text>
<text x="576.80" y="942.58" font-size="8.5" text-anchor="middle" fill="#000" >-</text>
<text x="589.20" y="931.18" font-size="8.5" text-anchor="middle" fill="#000" >-</text>
<text x="589.20" y="942.58" font-size="8.5" text-anchor="middle" fill="#000" >+</text>
<text x="596.80" y="931.18" font-size="8.5" text-anchor="middle" fill="#000" >-</text>
<text x="596.80" y="942.58" font-size="8.5" text-anchor="middle" fill="#000" >+</text>
<text x="605.00" y="931.18" font-size="8.5" text-anchor="middle" fill="#000" >-</text>
<text x="605.00" y="942.58" font-size="8.5" text-anchor="middle" fill="#000" >+</text>
<text x="611.70" y="931.18" font-size="8.5" text-anchor="middle" fill="#000" >+</text>
<text x="611.70" y="942.58" font-size="8.5" text-anchor="middle" fill="#000" >+</text>
<text x="619.30" y="931.18" font-size="8.5" text-anchor="middle" fill="#000" >+</text>
<text x="619.30" y="942.58" font-size="8.5" text-anchor="middle" fill="#000" >+</text>
<text x="627.40" y="931.18" font-size="8.5" text-anchor="middle" fill="#000" >+</text>
<text x="627.40" y="942.58" font-size="8.5" text-anchor="middle" fill="#000" >+</text>
<text x="632.60" y="931.04" font-size="8.1" text-anchor="start" fill="#000" >(0.1 μM)</text>
<text x="632.60" y="942.44" font-size="8.1" text-anchor="start" fill="#000" >(5 μM)</text>
</svg>
</body></html>
